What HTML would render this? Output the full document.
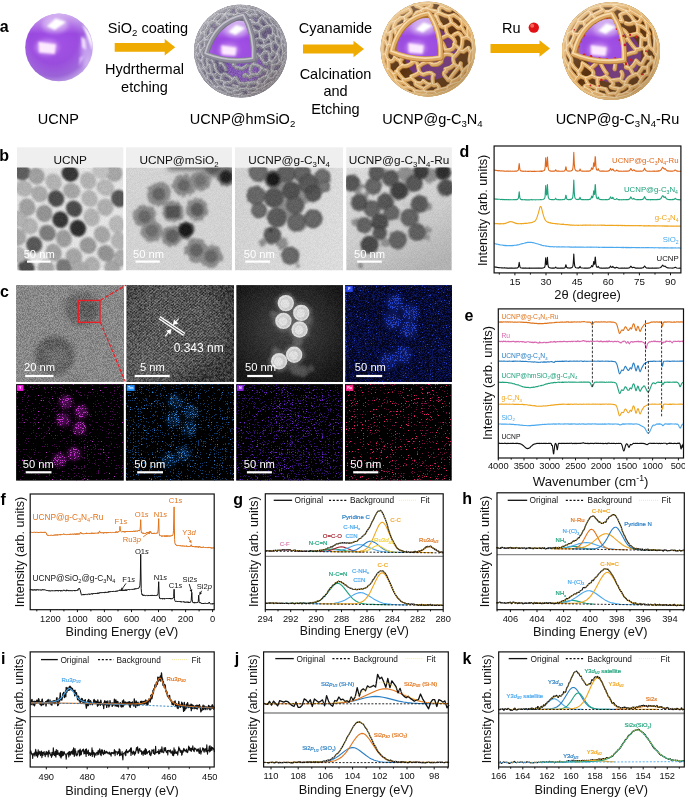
<!DOCTYPE html>
<html><head><meta charset="utf-8"><title>Figure</title>
<style>
html,body{margin:0;padding:0;background:#fff;}
body{width:685px;height:797px;overflow:hidden;font-family:"Liberation Sans",sans-serif;}
svg{display:block;font-family:"Liberation Sans",sans-serif;will-change:transform;}
</style></head><body>
<svg width="685" height="797" viewBox="0 0 685 797">
<defs>
<radialGradient id="gPur" cx="0.42" cy="0.40" r="0.62">
 <stop offset="0" stop-color="#a04ee6"/><stop offset="0.55" stop-color="#9a48df"/><stop offset="0.85" stop-color="#a268de"/><stop offset="1" stop-color="#c8a8ee"/>
</radialGradient>
<linearGradient id="gPurTop" x1="0" y1="0" x2="0" y2="1">
 <stop offset="0" stop-color="#fff" stop-opacity="0.55"/><stop offset="0.3" stop-color="#fff" stop-opacity="0"/><stop offset="1" stop-color="#5a2aa0" stop-opacity="0.15"/>
</linearGradient>
<filter id="b1" x="-20%" y="-20%" width="140%" height="140%"><feGaussianBlur stdDeviation="1"/></filter>
<filter id="b06" x="-20%" y="-20%" width="140%" height="140%"><feGaussianBlur stdDeviation="0.6"/></filter>
<filter id="b04" x="-20%" y="-20%" width="140%" height="140%"><feGaussianBlur stdDeviation="0.4"/></filter>
<filter id="b2" x="-30%" y="-30%" width="160%" height="160%"><feGaussianBlur stdDeviation="2"/></filter>
<linearGradient id="gShadeTan" x1="0.15" y1="0.1" x2="0.85" y2="0.95">
 <stop offset="0" stop-color="#fff" stop-opacity="0.28"/><stop offset="0.5" stop-color="#fff" stop-opacity="0"/><stop offset="1" stop-color="#2a1400" stop-opacity="0.28"/>
</linearGradient>

<filter id="nG" x="0" y="0" width="100%" height="100%" color-interpolation-filters="sRGB">
 <feTurbulence type="fractalNoise" baseFrequency="1.37" numOctaves="1" seed="3"/>
 <feColorMatrix type="matrix" values="2.4 0 0 0 -0.7  2.4 0 0 0 -0.7  2.4 0 0 0 -0.7  0 0 0 0 1"/>
</filter>
<filter id="nG2" x="0" y="0" width="100%" height="100%" color-interpolation-filters="sRGB">
 <feTurbulence type="fractalNoise" baseFrequency="0.35" numOctaves="3" seed="8"/>
 <feColorMatrix type="matrix" values="2.4 0 0 0 -0.7  2.4 0 0 0 -0.7  2.4 0 0 0 -0.7  0 0 0 0 1"/>
</filter>
<filter id="roughB" x="-10%" y="-10%" width="120%" height="120%">
 <feTurbulence type="fractalNoise" baseFrequency="0.2" numOctaves="2" seed="15" result="t"/>
 <feDisplacementMap in="SourceGraphic" in2="t" scale="5" xChannelSelector="R" yChannelSelector="G"/>
 <feGaussianBlur stdDeviation="0.95"/>
</filter>
<filter id="rough" x="-10%" y="-10%" width="120%" height="120%">
 <feTurbulence type="fractalNoise" baseFrequency="0.25" numOctaves="2" seed="5" result="t"/>
 <feDisplacementMap in="SourceGraphic" in2="t" scale="5" xChannelSelector="R" yChannelSelector="G"/>
 <feGaussianBlur stdDeviation="1.1"/>
</filter>
<filter id="bl09" x="-10%" y="-10%" width="120%" height="120%"><feGaussianBlur stdDeviation="0.8"/></filter>
<filter id="bl07" x="-10%" y="-10%" width="120%" height="120%"><feGaussianBlur stdDeviation="0.75"/></filter>
<filter id="bl12" x="-10%" y="-10%" width="120%" height="120%"><feGaussianBlur stdDeviation="1.2"/></filter>
<filter id="bl25" x="-20%" y="-20%" width="140%" height="140%"><feGaussianBlur stdDeviation="2.5"/></filter>
<linearGradient id="b4bg" x1="0.2" y1="0" x2="0.7" y2="1"><stop offset="0" stop-color="#e0e0e0"/><stop offset="0.55" stop-color="#d2d2d2"/><stop offset="1" stop-color="#b6b6b6"/></linearGradient>
<linearGradient id="b3bg" x1="0" y1="0.3" x2="1" y2="0.5"><stop offset="0" stop-color="#d6d6d6"/><stop offset="1" stop-color="#e2e2e2"/></linearGradient>

<filter id="nC1" x="0" y="0" width="100%" height="100%" color-interpolation-filters="sRGB">
 <feTurbulence type="fractalNoise" baseFrequency="1.37" numOctaves="1" seed="12"/>
 <feColorMatrix type="matrix" values="3 0 0 0 -1  3 0 0 0 -1  3 0 0 0 -1  0 0 0 0 1"/>
</filter>
<filter id="nC2" x="0" y="0" width="100%" height="100%" color-interpolation-filters="sRGB">
 <feTurbulence type="fractalNoise" baseFrequency="0.43" numOctaves="2" seed="21"/>
 <feColorMatrix type="matrix" values="4 0 0 0 -1.5  4 0 0 0 -1.5  4 0 0 0 -1.5  0 0 0 0 1"/>
</filter>
<pattern id="fr" width="2.3" height="2.3" patternUnits="userSpaceOnUse" patternTransform="rotate(-42)">
 <rect width="2.3" height="1.1" fill="#fff"/>
</pattern>
<pattern id="fr2" width="2.2" height="2.2" patternUnits="userSpaceOnUse" patternTransform="rotate(34.7)">
 <rect width="2.1" height="1.0" fill="#fff"/>
</pattern>
<filter id="nC3" x="0" y="0" width="100%" height="100%" color-interpolation-filters="sRGB">
 <feTurbulence type="fractalNoise" baseFrequency="1.37" numOctaves="1" seed="77"/>
 <feColorMatrix type="matrix" values="3 0 0 0 -1  3 0 0 0 -1  3 0 0 0 -1  0 0 0 0 1"/>
</filter>
<filter id="wisp" x="-10%" y="-10%" width="120%" height="120%">
 <feTurbulence type="fractalNoise" baseFrequency="0.3" numOctaves="2" seed="9" result="t"/>
 <feDisplacementMap in="SourceGraphic" in2="t" scale="5" xChannelSelector="R" yChannelSelector="G"/>
 <feGaussianBlur stdDeviation="1.8"/>
</filter>
<radialGradient id="frm" cx="0.42" cy="0.42" r="0.62"><stop offset="0" stop-color="#fff" stop-opacity="1"/><stop offset="0.65" stop-color="#fff" stop-opacity="0.8"/><stop offset="1" stop-color="#fff" stop-opacity="0.1"/></radialGradient>
<radialGradient id="c2l" cx="0.05" cy="1" r="0.55"><stop offset="0" stop-color="#fff" stop-opacity="0.2"/><stop offset="1" stop-color="#fff" stop-opacity="0"/></radialGradient>
<mask id="frmask"><rect x="126" y="285" width="109" height="98" fill="url(#frm)"/></mask>
<radialGradient id="haadf" cx="0.48" cy="0.45" r="0.62"><stop offset="0" stop-color="#404040"/><stop offset="0.5" stop-color="#2a2a2a"/><stop offset="1" stop-color="#121212"/></radialGradient>
<radialGradient id="hp" cx="0.5" cy="0.5" r="0.5"><stop offset="0" stop-color="#f2f2f2"/><stop offset="0.7" stop-color="#dcdcdc"/><stop offset="1" stop-color="#b8b8b8"/></radialGradient>
<filter id="dF" x="0" y="0" width="100%" height="100%" color-interpolation-filters="sRGB">
 <feTurbulence type="fractalNoise" baseFrequency="1.37" numOctaves="1" seed="31" result="n"/>
 <feColorMatrix in="n" type="matrix" values="0 0 0 0 0  0 0 0 0 0  0 0 0 0 0  1 0 0 0 0" result="na"/>
 <feColorMatrix in="SourceGraphic" type="matrix" values="0 0 0 0 0  0 0 0 0 0  0 0 0 0 0  0 0 0 1 0" result="da"/>
 <feComposite in="na" in2="da" operator="arithmetic" k1="0" k2="1" k3="0.05" k4="-0.01" result="s"/>
 <feComponentTransfer in="s" result="th"><feFuncA type="linear" slope="30" intercept="-15"/></feComponentTransfer>
 <feFlood flood-color="#0b1456" result="c"/>
 <feComposite in="c" in2="th" operator="in"/>
 <feGaussianBlur stdDeviation="0.5"/>
</filter><filter id="dF2" x="0" y="0" width="100%" height="100%" color-interpolation-filters="sRGB">
 <feTurbulence type="fractalNoise" baseFrequency="1.37" numOctaves="1" seed="41" result="n"/>
 <feColorMatrix in="n" type="matrix" values="0 0 0 0 0  0 0 0 0 0  0 0 0 0 0  1 0 0 0 0" result="na"/>
 <feColorMatrix in="SourceGraphic" type="matrix" values="0 0 0 0 0  0 0 0 0 0  0 0 0 0 0  0 0 0 1 0" result="da"/>
 <feComposite in="na" in2="da" operator="arithmetic" k1="0" k2="1" k3="0.15" k4="-0.195" result="s"/>
 <feComponentTransfer in="s" result="th"><feFuncA type="linear" slope="30" intercept="-15"/></feComponentTransfer>
 <feFlood flood-color="#2240c4" result="c"/>
 <feComposite in="c" in2="th" operator="in"/>
 <feGaussianBlur stdDeviation="0.5"/>
</filter><filter id="dY" x="0" y="0" width="100%" height="100%" color-interpolation-filters="sRGB">
 <feTurbulence type="fractalNoise" baseFrequency="1.37" numOctaves="1" seed="32" result="n"/>
 <feColorMatrix in="n" type="matrix" values="0 0 0 0 0  0 0 0 0 0  0 0 0 0 0  1 0 0 0 0" result="na"/>
 <feColorMatrix in="SourceGraphic" type="matrix" values="0 0 0 0 0  0 0 0 0 0  0 0 0 0 0  0 0 0 1 0" result="da"/>
 <feComposite in="na" in2="da" operator="arithmetic" k1="0" k2="1" k3="0.165" k4="-0.15" result="s"/>
 <feComponentTransfer in="s" result="th"><feFuncA type="linear" slope="30" intercept="-15"/></feComponentTransfer>
 <feFlood flood-color="#4c0c52" result="c"/>
 <feComposite in="c" in2="th" operator="in"/>
 <feGaussianBlur stdDeviation="0.5"/>
</filter><filter id="dY2" x="0" y="0" width="100%" height="100%" color-interpolation-filters="sRGB">
 <feTurbulence type="fractalNoise" baseFrequency="1.37" numOctaves="1" seed="42" result="n"/>
 <feColorMatrix in="n" type="matrix" values="0 0 0 0 0  0 0 0 0 0  0 0 0 0 0  1 0 0 0 0" result="na"/>
 <feColorMatrix in="SourceGraphic" type="matrix" values="0 0 0 0 0  0 0 0 0 0  0 0 0 0 0  0 0 0 1 0" result="da"/>
 <feComposite in="na" in2="da" operator="arithmetic" k1="0" k2="1" k3="0.16" k4="-0.235" result="s"/>
 <feComponentTransfer in="s" result="th"><feFuncA type="linear" slope="30" intercept="-15"/></feComponentTransfer>
 <feFlood flood-color="#c030c8" result="c"/>
 <feComposite in="c" in2="th" operator="in"/>
 <feGaussianBlur stdDeviation="0.5"/>
</filter><filter id="dTm" x="0" y="0" width="100%" height="100%" color-interpolation-filters="sRGB">
 <feTurbulence type="fractalNoise" baseFrequency="1.37" numOctaves="1" seed="33" result="n"/>
 <feColorMatrix in="n" type="matrix" values="0 0 0 0 0  0 0 0 0 0  0 0 0 0 0  1 0 0 0 0" result="na"/>
 <feColorMatrix in="SourceGraphic" type="matrix" values="0 0 0 0 0  0 0 0 0 0  0 0 0 0 0  0 0 0 1 0" result="da"/>
 <feComposite in="na" in2="da" operator="arithmetic" k1="0" k2="1" k3="0.085" k4="-0.125" result="s"/>
 <feComponentTransfer in="s" result="th"><feFuncA type="linear" slope="30" intercept="-15"/></feComponentTransfer>
 <feFlood flood-color="#0e3a6c" result="c"/>
 <feComposite in="c" in2="th" operator="in"/>
 <feGaussianBlur stdDeviation="0.5"/>
</filter><filter id="dTm2" x="0" y="0" width="100%" height="100%" color-interpolation-filters="sRGB">
 <feTurbulence type="fractalNoise" baseFrequency="1.37" numOctaves="1" seed="43" result="n"/>
 <feColorMatrix in="n" type="matrix" values="0 0 0 0 0  0 0 0 0 0  0 0 0 0 0  1 0 0 0 0" result="na"/>
 <feColorMatrix in="SourceGraphic" type="matrix" values="0 0 0 0 0  0 0 0 0 0  0 0 0 0 0  0 0 0 1 0" result="da"/>
 <feComposite in="na" in2="da" operator="arithmetic" k1="0" k2="1" k3="0.09" k4="-0.215" result="s"/>
 <feComponentTransfer in="s" result="th"><feFuncA type="linear" slope="30" intercept="-15"/></feComponentTransfer>
 <feFlood flood-color="#2f86d8" result="c"/>
 <feComposite in="c" in2="th" operator="in"/>
 <feGaussianBlur stdDeviation="0.5"/>
</filter><filter id="dN" x="0" y="0" width="100%" height="100%" color-interpolation-filters="sRGB">
 <feTurbulence type="fractalNoise" baseFrequency="1.37" numOctaves="1" seed="34" result="n"/>
 <feColorMatrix in="n" type="matrix" values="0 0 0 0 0  0 0 0 0 0  0 0 0 0 0  1 0 0 0 0" result="na"/>
 <feColorMatrix in="SourceGraphic" type="matrix" values="0 0 0 0 0  0 0 0 0 0  0 0 0 0 0  0 0 0 1 0" result="da"/>
 <feComposite in="na" in2="da" operator="arithmetic" k1="0" k2="1" k3="0.02" k4="-0.115" result="s"/>
 <feComponentTransfer in="s" result="th"><feFuncA type="linear" slope="30" intercept="-15"/></feComponentTransfer>
 <feFlood flood-color="#30106a" result="c"/>
 <feComposite in="c" in2="th" operator="in"/>
 <feGaussianBlur stdDeviation="0.45"/>
</filter><filter id="dN2" x="0" y="0" width="100%" height="100%" color-interpolation-filters="sRGB">
 <feTurbulence type="fractalNoise" baseFrequency="1.37" numOctaves="1" seed="44" result="n"/>
 <feColorMatrix in="n" type="matrix" values="0 0 0 0 0  0 0 0 0 0  0 0 0 0 0  1 0 0 0 0" result="na"/>
 <feColorMatrix in="SourceGraphic" type="matrix" values="0 0 0 0 0  0 0 0 0 0  0 0 0 0 0  0 0 0 1 0" result="da"/>
 <feComposite in="na" in2="da" operator="arithmetic" k1="0" k2="1" k3="0.03" k4="-0.2" result="s"/>
 <feComponentTransfer in="s" result="th"><feFuncA type="linear" slope="30" intercept="-15"/></feComponentTransfer>
 <feFlood flood-color="#6a28c8" result="c"/>
 <feComposite in="c" in2="th" operator="in"/>
 <feGaussianBlur stdDeviation="0.45"/>
</filter><filter id="dRu" x="0" y="0" width="100%" height="100%" color-interpolation-filters="sRGB">
 <feTurbulence type="fractalNoise" baseFrequency="1.37" numOctaves="1" seed="35" result="n"/>
 <feColorMatrix in="n" type="matrix" values="0 0 0 0 0  0 0 0 0 0  0 0 0 0 0  1 0 0 0 0" result="na"/>
 <feColorMatrix in="SourceGraphic" type="matrix" values="0 0 0 0 0  0 0 0 0 0  0 0 0 0 0  0 0 0 1 0" result="da"/>
 <feComposite in="na" in2="da" operator="arithmetic" k1="0" k2="1" k3="0.0" k4="-0.155" result="s"/>
 <feComponentTransfer in="s" result="th"><feFuncA type="linear" slope="30" intercept="-15"/></feComponentTransfer>
 <feFlood flood-color="#7c1044" result="c"/>
 <feComposite in="c" in2="th" operator="in"/>
 <feGaussianBlur stdDeviation="0.5"/>
</filter><filter id="dRu2" x="0" y="0" width="100%" height="100%" color-interpolation-filters="sRGB">
 <feTurbulence type="fractalNoise" baseFrequency="1.37" numOctaves="1" seed="45" result="n"/>
 <feColorMatrix in="n" type="matrix" values="0 0 0 0 0  0 0 0 0 0  0 0 0 0 0  1 0 0 0 0" result="na"/>
 <feColorMatrix in="SourceGraphic" type="matrix" values="0 0 0 0 0  0 0 0 0 0  0 0 0 0 0  0 0 0 1 0" result="da"/>
 <feComposite in="na" in2="da" operator="arithmetic" k1="0" k2="1" k3="0.0" k4="-0.183" result="s"/>
 <feComponentTransfer in="s" result="th"><feFuncA type="linear" slope="30" intercept="-15"/></feComponentTransfer>
 <feFlood flood-color="#f01e6c" result="c"/>
 <feComposite in="c" in2="th" operator="in"/>
 <feGaussianBlur stdDeviation="0.52"/>
</filter></defs>
<rect width="685" height="797" fill="#fff"/>
<g id="pa"><text x="-0.3" y="32.2" font-size="16" text-anchor="start" fill="#000" font-weight="bold">a</text><g><clipPath id="cpu1"><circle cx="59" cy="47.4" r="33.8"/></clipPath><circle cx="59" cy="47.4" r="33.8" fill="url(#gPur)"/><circle cx="59" cy="47.4" r="33.8" fill="url(#gPurTop)"/><g clip-path="url(#cpu1)"><ellipse cx="55" cy="25" rx="13" ry="8" fill="#fff" opacity="0.38" filter="url(#b2)"/><ellipse cx="47" cy="47.5" rx="12" ry="8" fill="#f4d0ff" opacity="0.4" filter="url(#b2)"/><ellipse cx="86" cy="52" rx="5" ry="16" fill="#e8d8ff" opacity="0.5" filter="url(#b2)"/><path d="M46.8 26.3 L55.7 18.4 L66 22 L54.8 30 Z" fill="#fff" filter="url(#b1)"/><path d="M38.4 41.8 L56 44.3 L54.8 54 L39 52.6 Z" fill="#fde9ff" filter="url(#b1)"/><path d="M82 24.5 Q94.5 34 92.3 51 Q87.5 36 82 24.5 Z" fill="#fff" filter="url(#b1)"/><path d="M81.2 36.5 L85 39.5 L86 49.5 L82.3 47.5 Z" fill="#f6e8ff" filter="url(#b1)" opacity="0.95"/><path d="M79.5 57.5 L84.5 55.5 L79 66.5 Z" fill="#e6c8ff" filter="url(#b1)" opacity="0.75"/></g></g><text x="58.3" y="124.2" font-size="14.5" text-anchor="middle" fill="#000">UCNP</text><text x="148" y="33.2" font-size="14.5" text-anchor="middle" fill="#000">SiO<tspan font-size="9.6" dy="3.2">2</tspan><tspan dy="-3.2"> coating</tspan></text><path d="M114.7 42.9 H164.7 V39.1 L175.2 47.3 L164.7 55.5 V51.7 H114.7 Z" fill="#f0ab00"/><text x="144.5" y="74.2" font-size="14.5" text-anchor="middle" fill="#000">Hydrthermal</text><text x="144.5" y="91.8" font-size="14.5" text-anchor="middle" fill="#000">etching</text><g><clipPath id="csm2"><circle cx="240.6" cy="51.1" r="46.5"/></clipPath><clipPath id="cwm2"><path d="M205.7 53.9 Q214.6 21.3 243.9 15.3 Q255 35.8 253.2 59 Q229 63.2 205.7 53.9 Z"/></clipPath><g clip-path="url(#csm2)"><circle cx="240.6" cy="51.1" r="46.5" fill="#66587f"/><ellipse cx="244.6" cy="65.1" rx="19.5" ry="17.7" fill="#8a4ad0" opacity="0.75" filter="url(#b2)"/><defs><path id="mpm2" d="M248.9 76.8Q244.7 72.7 243.8 75.7M248.9 76.8Q250.9 75.7 251.5 74.9M228.2 92.4Q230.8 92.3 232 92.8M228.2 92.4Q228.3 90.6 222.8 88.2M232 92.8Q236.4 92.1 234.1 90.9M239.4 95Q234.6 94.5 233.3 95.7M239.4 95Q238.9 95.3 239.4 95M234.1 90.9Q234 90.2 239.2 90.7M234.1 90.9Q238.6 89.4 230.7 88.4M239.2 90.7Q240.9 89.1 240.7 89.2M285.7 58Q283.8 66 283.7 66.3M285.7 58Q286.3 54.7 285.6 57.6M276.7 43Q277.5 43 279.8 47.3M276.7 43Q273.2 40.5 271.8 44.2M276.7 43Q275 37.4 275.9 36.5M249.3 89.7Q248.1 89.9 246.9 88.4M249.3 89.7Q251.3 88.6 255.9 87.8M257.8 82.8Q253.2 81.4 249.1 83.4M257.8 82.8Q261.5 80.2 258.3 84.1M257.8 82.8Q257.9 78.8 260.3 79.2M210.9 81.6Q211.2 82.5 208.1 79.2M210.9 81.6Q214.1 85.9 214.8 86.6M240.7 89.2Q245.6 89 246.9 88.4M240.7 89.2Q235.1 87.8 238.3 86.6M246.9 88.4Q247.2 87.1 249.1 83.4M248.5 82.8Q247.9 83.1 249.1 83.4M248.5 82.8Q245.3 83.8 241.1 83.4M195.4 56.3Q195.4 50.4 196.3 51.5M195.4 56.3Q195.5 58.6 195.9 59.3M195.5 44.2Q195.6 48.9 196.3 49.2M195.5 44.2Q196.6 40.5 197.5 38.6M196.3 49.2Q197.8 47.2 198.9 43.8M196.3 51.5Q196.5 51.7 198 56.1M198.9 43.8Q198.7 46.6 199 43.9M199 43.9Q200.5 42.7 204.8 38.9M199 43.9Q200.3 47.7 200.6 51.1M201.7 33.3Q197.8 40.7 198.8 39.5M201.7 33.3Q199.4 33.8 201.4 30.1M201.7 33.3Q203.3 31.1 204.6 32.3M197.5 38.6Q198.1 38.9 198.8 39.5M197.5 38.6Q199.4 31.5 199.5 31.8M222.1 75Q224.5 73 225.2 74.2M222.1 75Q220.7 79.4 220.9 80.6M222.1 75Q219.4 76.1 217.7 72.9M241.1 83.4Q238.6 84.1 236.3 78.2M238.3 86.6Q235.5 86.6 233.2 85.7M236.3 78.2Q236.1 78.8 234.9 77.8M225.2 74.2Q226.2 74.3 231.6 78.5M231.6 78.5Q231.9 83.2 234.9 77.8M231.6 78.5Q235.9 78.6 230.6 82.2M198.3 62.9Q198.5 63.3 200.2 68.9M262.3 39.3Q266.6 42.5 268.4 36.9M262.3 39.3Q259.8 39.1 260.4 38.2M262.3 39.3Q264.6 40.1 264.4 46.9M268.4 36.9Q270.1 38.8 268.5 35.7M268.4 36.9Q272.5 40.4 271.6 44M229.5 28.4Q227.1 30.4 224.6 35.3M229.5 28.4Q223.2 26.9 226.3 23.9M224.6 35.3Q227.2 36 230.9 39M244 56.7Q244.9 56.3 246 54.5M244 56.7Q245.6 55.3 238.9 57.1M235.8 67.3Q239 67.4 242 68.5M242 68.5Q242.4 68.1 247.1 65.3M245.2 49.3Q249.2 52.2 246 54.5M245.2 49.3Q251 43.6 249.4 43.8M245.2 49.3Q238.3 44.5 239.1 45.3M246 54.5Q248.3 56.4 253.6 54.3M253.8 43.5Q254.1 41.9 249.4 43.8M253.8 43.5Q256.9 44.8 255.1 40M253.8 43.5Q251.4 42.7 255.4 46.4M249.4 43.8Q246.5 39.9 245 39.7M226.3 23.9Q219.8 23.4 220.2 25.8M226.3 23.9Q229.3 25.3 227.4 22.2M225.3 15.1Q220.4 20.7 216.9 22.9M225.3 15.1Q228.5 13.1 225.1 14.2M225.3 15.1Q221.7 16.5 225.8 15.3M220.2 25.8Q218.8 22.3 217 24.3M220.2 25.8Q217.8 29.2 218.3 33.4M216.9 22.9Q217.8 21.4 213.4 20.9M254.7 10.7Q256.2 11 258.2 10.8M254.7 10.7Q255.7 14 257 15.3M254.7 10.7Q252.9 10.8 250.2 9.5M247.9 6.1Q253.5 7.2 256.7 8.5M247.9 6.1Q248.5 6.7 246.9 6.3M247.9 6.1Q247.5 6 247.3 5.9M258.2 10.8Q259 10.1 259.2 9.9M258.2 10.8Q264.5 15.5 265.8 16.4M259.2 9.9Q257.1 8.7 256.7 8.5M259.2 9.9Q261.7 10.5 264.3 12.2M225.1 14.2Q229.1 11.6 230 10.2M225.1 14.2Q223.3 14 218.8 14.8M218.3 12.5Q221 10.1 218.2 11.2M218.3 12.5Q218.6 12.7 217.3 13.5M218.3 12.5Q223 9.5 228.2 8.2M264.3 12.2Q269.1 16.4 270.4 18.2M270.4 18.2Q272.4 19.3 272.8 19.4M270.4 18.2Q270.6 18.3 270.1 18.5M272.8 19.4Q275 21.4 277.8 25.2M265.8 16.4Q267.8 17.8 270.1 18.5M265.8 16.4Q265.8 15.5 263.3 18.6M270.1 18.5Q269.1 18.7 273.8 25.4M263.3 18.6Q266.9 23.2 270 25.7M263.3 18.6Q261.3 15.7 260.8 18M264.5 86.9Q262.2 87.2 257.8 89.6M264.5 86.9Q259.6 90.2 263 90.1M264.5 86.9Q264.2 85.6 265.1 86.3M257.8 89.6Q255.1 89.1 255.9 87.8M257.8 89.6Q256.7 91.1 253.1 93.2M258.3 84.1Q261 84.7 255.9 87.8M258.3 84.1Q261.8 85.2 264.6 83.8M199 69.7Q200.1 71.7 200.2 69M248.3 92.5Q250.7 92.8 252.9 93.3M243.4 96Q240.7 95.6 239.4 95M243.4 96Q243.5 95.9 248.6 95.4M242 93.5Q243.1 92.7 239.4 95M222.8 88.2Q223.5 88.3 222.7 88.2M222.8 88.2Q222.9 88.5 224.8 87.4M222.7 88.2Q218.5 85.4 215.6 81.5M222.7 88.2Q214.5 85.2 217.6 88.1M220.9 80.6Q218.7 80.6 215.9 80.1M220.9 80.6Q226 81.7 224.3 83.3M215.6 81.5Q213.3 78.9 215.9 80.1M215.9 80.1Q217.1 81.1 212.8 75M282.1 66.7Q283.5 64.7 282.9 63.6M282.1 66.7Q280.3 69.5 277 73.4M279.8 47.3Q277.7 50.9 277.7 54.3M281.3 46.9Q282.2 43 282 44.9M281.3 46.9Q283.5 45 283.3 54.5M204.3 23.4Q204.3 24.7 206.6 23M206.6 23Q203.9 25.6 201.4 30.1M206.6 23Q208 20.7 207.6 22.3M201.4 30.1Q200.7 32 199.5 31.8M199.5 31.8Q200.9 29.2 199.6 30.8M211.4 17.3Q214.1 17 217.3 13.5M211.4 17.3Q209.9 19.2 207.6 22.3M218.8 14.8Q216.5 14.6 217.3 13.5M218.8 14.8Q216.1 16.7 213.4 20.9M213.4 20.9Q210.5 21.7 208.7 23.5M208.7 23.5Q208.3 22.6 207.6 22.3M208.7 23.5Q209.1 24.9 206.8 28.8M214.8 66Q214.5 69.5 217.7 72.9M214.8 66Q212.4 66.7 215 65.5M210.3 67.3Q211.3 70.8 211.4 74M210.3 67.3Q211.8 64.3 207.8 65M217.7 72.9Q217.3 74.7 212.8 75M211.4 74Q212.1 74.3 212.8 75M211.4 74Q209.7 75.2 207.4 73.4M215 65.5Q213.8 64.1 211.9 59.4M211.9 59.4Q208 57.5 207.3 58.1M211.9 59.4Q211.8 63.1 215.2 54.2M225.4 69.4Q223.6 62.5 220.4 63.8M220.4 63.8Q219.6 61.3 220.8 61.3M220.8 61.3Q219.3 58 215.8 54.2M233.6 65.2Q234.9 61.3 233.6 64.8M198 56.1Q199.7 53.4 200.6 51.3M198.5 59.5Q200.8 60.8 202.1 61.7M200.2 69Q199.7 66.7 200.2 68.9M200.2 69Q202.9 74.8 205.8 78.2M200.2 68.9Q202.2 70.2 204.3 68.7M208.1 79.2Q207.8 80.8 205.8 78.2M208.1 79.2Q206.8 74.5 207.4 73.4M205.8 78.2Q204.6 77.8 205.8 80M207.4 73.4Q206.8 71.4 204.3 68.7M204.3 68.7Q201.4 65.1 204.1 66.4M268.5 35.7Q274.4 37 273.2 33.3M270 25.7Q267.7 25.2 263.2 27.9M270 25.7Q270 25.2 271 26.2M251.6 26.4Q248.3 23.6 253.6 22.7M251.6 26.4Q247.1 25.1 246.6 27M251.6 26.4Q253.1 29.5 254.2 30.4M263.2 27.9Q260.3 25.4 258.9 23.3M263.3 28.8Q262 28.5 259.5 31.9M230.9 39Q229.9 40.6 229.9 44.3M230.9 39Q233.5 37.9 235.5 36.7M239.1 45.3Q242.7 42.8 239.8 41.7M233.9 48.8Q233.3 44.2 229.9 44.3M233.9 48.8Q232.6 51.4 233.6 51M229.9 44.3Q226.2 44.7 221.1 46.6M260.8 18Q258 20.2 258.9 23.3M257 15.3Q250 13.2 251.1 15.9M258.9 23.3Q259.4 24.4 253.6 22.7M253.6 22.7Q252.8 20.8 251.1 20.1M246.6 27Q247.2 31.8 243.7 31.8M234.9 28.9Q237.2 29 239 22.3M239 22.3Q236.9 22.9 233.5 19.9M241.1 21.8Q239.6 20.4 242.9 19.7M251.9 35.1Q256.8 29.9 254.2 30.4M251.9 35.1Q252.3 38.1 246 34.4M254.2 30.4Q258.2 31.8 259.5 31.9M259.5 31.9Q260.1 35.9 260.4 38.2M260.4 38.2Q256.1 39.1 255.1 40M271.8 44.2Q271.8 44.9 271.6 44M271.8 44.2Q270.7 44.3 272.5 50.9M271.6 44Q266.9 44.8 264.4 46.9M264.4 46.9Q259.6 44 263.8 48.2M250.9 66.3Q249.1 72.2 251.5 74.9M250.9 66.3Q253 63.2 254 64.5M251.5 74.9Q255.9 73.5 257.5 74.5M211.9 28.9Q209.3 32 211.4 33.1M206.8 28.8Q204.8 30.6 204.6 32.3M204.6 32.3Q204.9 36.7 204.8 38.9M222.5 36.1Q223.8 34 218.3 33.4M222.5 36.1Q221.7 42.7 220.2 44.8M218.3 33.4Q220.3 33.5 215 35M250.2 9.5Q247.1 7.8 246.9 6.3M250.2 9.5Q250.3 9.9 247.6 9.6M246.9 6.3Q239.8 6.4 239.6 6.6M239.6 6.6Q235.6 6.9 237.7 6.4M239.6 6.6Q240.5 6.8 240.5 8.5M228.1 7.3Q230.2 7.3 228.2 8.2M228.2 8.2Q228.5 8.1 228.6 8.2M228.6 8.2Q230.6 7.3 237.7 6.4M284.9 41.9Q283.7 40.4 282.4 37M284.9 41.9Q285.3 43.3 285.5 45.8M282.4 37Q282.7 39.5 281.6 39.9M282.4 37Q281.2 34.4 280.5 31.2M285.4 46.7Q283.7 42.2 282 44.9M282 44.9Q281.3 40.4 281.6 39.9M281.6 39.9Q279.9 39.2 278.4 35.5M205.8 80Q204.6 79.1 204.4 78.9M205.8 80Q213.2 86.9 212.3 86.7M212.3 86.7Q210.7 85.3 212.4 86.7M226.9 93.9Q227.8 94.3 227.1 94M226.9 93.9Q224.7 93 221.8 92.1M230.7 88.4Q230 87.8 224.8 87.4M224.8 87.4Q223.3 86 224.3 83.3M224.3 83.3Q228 81.7 230.6 82.2M248.6 95.4Q254.6 94 252.9 93.3M253.1 93.2Q254.1 93.9 252.9 93.3M253.1 93.2Q256.8 93.4 259.8 92.1M268.8 86.9Q264.4 89.4 263 90.1M268.8 86.9Q269.8 85.9 272.4 82.9M259.8 92.1Q260.5 92.2 259.5 92.5M264.6 83.8Q265.5 85.2 265.1 86.3M264.6 83.8Q263.9 81.5 268.5 78.5M265.1 86.3Q267.5 84.2 271.6 82.1M276.1 79.6Q277.6 76.8 279 75.4M276.1 79.6Q275.3 80.5 272.4 82.9M279 75.4Q279.7 73.9 279.4 74.8M279 75.4Q278.5 75.1 276.6 74.2M272.4 82.9Q271.5 82.2 271.6 82.1M279.4 74.8Q282 68.4 282.3 68.9M282.3 68.9Q282.7 68.1 283.7 66.3M283.3 54.5Q284.4 53.5 285.4 52.9M283.3 54.5Q282.6 53.4 281.8 60.3M285.6 57.6Q285.5 56 285.4 52.9M285.6 57.6Q285.5 59 282.9 63.6M282.9 63.6Q281.1 61 281.8 60.3M281.8 60.3Q279.7 64.9 280 61.3M226.6 55.2Q229.8 51.6 233.6 51M226.6 55.2Q222.4 52.5 220.9 48.3M226.3 57.4Q232.9 62.2 233.6 64.8M233.6 51Q234.3 52.5 238.9 57.1M238.9 57.1Q237.5 58.1 233.6 64.8M200.6 51.1Q199.7 49.4 200.6 51.3M200.6 51.1Q203.2 49.6 204.8 46.3M200.6 51.3Q200.9 50.8 203.3 56.9M271 26.2Q271.2 24.9 273.8 25.4M271 26.2Q274 28.9 273.2 33.3M273.8 25.4Q274.5 25.5 277 28.3M277 28.3Q278.3 33.3 278.4 35.5M277 28.3Q279.3 30.7 279.4 29.4M278.4 35.5Q278.9 38.3 275.9 36.5M275.9 36.5Q277.7 37.8 273.2 33.3M246 34.4Q248.2 33.4 243.7 31.8M246 34.4Q247.1 37.8 245 39.7M243.7 31.8Q244.4 30.7 237.3 31.8M245 39.7Q240 43.1 239.8 41.7M239.8 41.7Q232.9 44.3 235.5 36.7M235.5 36.7Q237.2 32.1 237.3 31.8M225.8 15.3Q228.1 13.6 235.1 15.1M225.8 15.3Q230.1 22.1 227.4 22.2M235.1 15.1Q231.9 18.2 233.5 19.9M235.1 15.1Q234.9 15.9 238.4 13.8M227.4 22.2Q231.1 23.4 233.5 19.9M238.4 13.8Q236.5 12.1 236.5 9.9M238.4 13.8Q238 14.2 241.3 14.4M247.6 9.6Q243.8 9.2 240.5 8.5M247.6 9.6Q251.4 10.2 246 13.4M236.5 9.9Q237 8.3 240.5 8.5M242.9 19.7Q241.2 18.6 251.1 20.1M242.9 19.7Q242.6 16 241.3 14.4M251.1 15.9Q249.1 16 246 13.4M246 13.4Q244.8 13 241.3 14.4M263.8 48.2Q259.4 43.4 255.4 46.4M264.3 51.8Q268.5 50.5 269.1 54.7M264.3 51.8Q261.2 55.8 260.3 56.8M255.4 46.4Q254 52.8 253.6 54.3M253.6 54.3Q254.6 56.6 256.5 57.3M272.5 50.9Q272.6 55.2 269.1 54.7M272.5 50.9Q273.9 51.1 277 54.6M269.1 54.7Q269.8 54.2 269.5 59.8M254 64.5Q254 59.3 256.5 57.3M254 64.5Q260.6 65.7 262 68.2M256.5 57.3Q255.4 51.3 260.3 56.8M260.3 56.8Q263.2 61 264.3 62.9M211.4 33.1Q217.4 32.9 215 35M211.4 33.1Q208.7 37.1 205.2 39.3M215 35Q212.1 37.2 212.4 41.8M205.2 39.3Q203.1 39 205.4 40M280.5 31.2Q281 32.7 279.4 29.4M279.4 29.4Q278.1 27.1 277.8 25.2M218.7 91.2Q216.1 89.5 221.8 92.1M218.7 91.2Q214.5 88.5 212.4 86.7M212.4 86.7Q214.3 86.6 214.8 86.6M214.8 86.6Q215.2 86.7 217.6 88.1M273.8 78Q272.7 79.3 268.5 78.5M273.8 78Q274.8 74.8 276.6 74.2M272.7 71.6Q275.4 72.6 276.8 71.4M272.7 71.6Q270.9 73.7 268 76.7M272.7 71.6Q270.9 72.9 272.3 65.8M276.8 71.4Q276.6 72.5 277 73.4M268 76.7Q267.8 77.8 268.5 78.5M268 76.7Q265.9 75 266.2 76.4M277 73.4Q276.8 71.3 276.6 74.2M203.3 56.9Q206.8 57.4 206.5 56.7M203.3 56.9Q202.2 58.9 202.1 61.7M207.8 65Q206.7 63.5 207.3 58.1M207.8 65Q207 71 204.1 66.4M207.3 58.1Q206.3 55 206.5 56.7M206.5 56.7Q207.4 51.1 207.5 50.7M204.1 66.4Q201.9 62.3 202.1 61.7M277.7 54.3Q277.1 52.9 277 54.6M277.7 54.3Q279.1 56 280 61.3M277 54.6Q277.2 56.9 272.3 61.9M280 61.3Q279.4 59.5 278.9 63.6M278.9 63.6Q275.5 65.3 272.6 65.1M262 68.2Q262.3 70.5 257.5 74.5M262 68.2Q258.5 68.6 262.2 68.2M260.3 79.2Q262.8 77.2 266.2 76.4M266.2 76.4Q269.9 70.6 266.5 70M204.8 46.3Q205.2 40.7 205.4 40M204.8 46.3Q206.4 47.2 207.5 50.7M205.4 40Q210 39.5 212.4 41.8M207.5 50.7Q206.7 48.9 210.4 49.5M212.4 41.8Q208.5 42.3 212.9 43.3M264.3 62.9Q268 64.8 269.5 59.8M262.2 68.2Q263.7 70.7 266.5 70M269.5 59.8Q269.7 62.6 272.3 61.9M272.3 61.9Q272.1 67.5 272.6 65.1M272.3 65.8Q272 63.7 272.6 65.1M210.4 49.5Q211.1 48.3 212.9 43.3M210.4 49.5Q214 51.2 215.2 54.2M212.9 43.3Q215.4 45.9 220.2 44.8M220.2 44.8Q220.1 47.7 221.1 46.6M221.1 46.6Q217.7 54.3 220.9 48.3" fill="none" stroke-linecap="round" stroke-linejoin="round"/></defs><use href="#mpm2" stroke="#737180" stroke-width="3.8" transform="translate(0.45 0.55)"/><use href="#mpm2" stroke="#8d8c98" stroke-width="3.3"/><use href="#mpm2" stroke="#d2d1da" stroke-width="0.9" transform="translate(-0.45 -0.55)" opacity="0.8" filter="url(#b04)"/><circle cx="240.6" cy="51.1" r="45.7" fill="none" stroke="#a2a1ac" stroke-width="2"/><circle cx="240.6" cy="51.1" r="46.5" fill="url(#gShadeTan)"/><rect x="194.1" y="4.6" width="93" height="93" filter="url(#nG)" opacity="0.13"/><g clip-path="url(#cwm2)"><rect x="194.1" y="4.6" width="93" height="93" fill="#7d7a90"/><path d="M205.7 53.9 Q214.6 21.3 243.9 15.3 Q255 35.8 253.2 59 Q229 63.2 205.7 53.9 Z" fill="none" stroke="#737180" stroke-width="9" opacity="0.9"/><g><clipPath id="cpm2c"><circle cx="239.1" cy="50.1" r="29.3"/></clipPath><circle cx="239.1" cy="50.1" r="29.3" fill="url(#gPur)"/><circle cx="239.1" cy="50.1" r="29.3" fill="url(#gPurTop)"/><g clip-path="url(#cpm2c)"><ellipse cx="235.6" cy="30.7" rx="11.3" ry="6.9" fill="#fff" opacity="0.38" filter="url(#b2)"/><ellipse cx="228.7" cy="50.2" rx="10.4" ry="6.9" fill="#f4d0ff" opacity="0.4" filter="url(#b2)"/><ellipse cx="262.5" cy="54.1" rx="4.3" ry="13.9" fill="#e8d8ff" opacity="0.5" filter="url(#b2)"/><path d="M228.5 31.8 L236.2 25 L245.2 28.1 L235.5 35 Z" fill="#fff" filter="url(#b1)"/><path d="M221.2 45.2 L236.5 47.4 L235.5 55.8 L221.8 54.6 Z" fill="#fde9ff" filter="url(#b1)"/><path d="M259 30.3 Q269.9 38.5 268 53.2 Q263.8 40.2 259 30.3 Z" fill="#fff" filter="url(#b1)"/><path d="M258.3 40.7 L261.6 43.3 L262.5 51.9 L259.3 50.2 Z" fill="#f6e8ff" filter="url(#b1)" opacity="0.95"/><path d="M256.9 58.9 L261.2 57.1 L256.4 66.7 Z" fill="#e6c8ff" filter="url(#b1)" opacity="0.75"/></g></g></g><path d="M205.7 53.9 Q214.6 21.3 243.9 15.3 Q255 35.8 253.2 59 Q229 63.2 205.7 53.9 Z" fill="none" stroke="#737180" stroke-width="5.4" stroke-linejoin="round" transform="translate(0.4 0.5)"/><path d="M205.7 53.9 Q214.6 21.3 243.9 15.3 Q255 35.8 253.2 59 Q229 63.2 205.7 53.9 Z" fill="none" stroke="#8d8c98" stroke-width="4.8" stroke-linejoin="round"/><path d="M205.7 53.9 Q214.6 21.3 243.9 15.3 Q255 35.8 253.2 59 Q229 63.2 205.7 53.9 Z" fill="none" stroke="#d2d1da" stroke-width="1.6" stroke-linejoin="round" opacity="0.8" transform="translate(-0.6 -0.7)" filter="url(#b04)"/></g></g><text x="242.5" y="124.2" font-size="14.5" text-anchor="middle" fill="#000">UCNP@hmSiO<tspan font-size="9.6" dy="3.2">2</tspan></text><text x="335.5" y="33.2" font-size="14.5" text-anchor="middle" fill="#000">Cyanamide</text><path d="M303 44.6 H353.5 V40.8 L364 49 L353.5 57.2 V53.4 H303 Z" fill="#f0ab00"/><text x="335.5" y="78.5" font-size="14.5" text-anchor="middle" fill="#000">Calcination</text><text x="335.5" y="96" font-size="14.5" text-anchor="middle" fill="#000">and</text><text x="335.5" y="113.5" font-size="14.5" text-anchor="middle" fill="#000">Etching</text><g><clipPath id="csm3"><circle cx="428" cy="49" r="47.4"/></clipPath><clipPath id="cwm3"><path d="M391.5 51.8 Q399.6 17.7 428.9 13 Q441.7 32.9 440.3 57.5 Q415.7 61.8 391.5 51.8 Z"/></clipPath><g clip-path="url(#csm3)"><circle cx="428" cy="49" r="47.4" fill="#5a3210"/><circle cx="431" cy="54" r="26.1" fill="#7a34bc" opacity="0.6"/><defs><path id="mpm3" d="M416.7 4.9Q414.5 4.4 414.7 4.3M416.7 4.9Q422.6 3.9 430.2 3.6M415.9 5.6Q421 6.6 423.2 9.3M395.1 29.1Q395.5 32.5 396.7 36.6M395.1 29.1Q394.1 27.8 394.5 29M395.1 29.1Q397 27 402.7 24.9M396.7 36.6Q397 43.8 392.9 45.5M396.7 36.6Q404.3 35.4 403 36M409.5 9Q410.4 7.9 402.8 11.7M409.5 9Q410.9 9.8 410.7 12.5M383.5 62.5Q382.5 55.2 383.4 54.8M383.5 62.5Q384.3 63.9 384.8 66.2M411.2 78.1Q412.5 78.7 411.2 76.2M411.2 78.1Q405.2 80.8 403 78.9M411.2 78.1Q414.6 80.7 415.9 82.3M411.2 76.2Q420 73.1 419 71.3M402.5 65.2Q400.9 66.3 403 65.4M402.5 65.2Q396.1 69.7 397.4 71.6M402.5 65.2Q400.4 65.3 400.1 60.7M403 65.4Q407.1 66.9 412.4 62.5M412.4 62.5Q411.1 62.2 412.7 57M412.4 62.5Q416.8 59 418 66.6M472.3 35.1Q472.2 35.3 468 26.8M472.3 35.1Q471.8 34.4 472.4 41.5M461.2 26.4Q463.3 31.5 467.9 36.3M461.2 26.4Q463.8 24.6 460.7 19.4M461.2 26.4Q461.6 29.1 457.3 27.3M467.9 36.3Q467.1 35.7 467.9 36.6M467.9 36.3Q467.3 30 467.9 26.8M460.7 19.4Q458.7 18.3 454 14.8M460.7 19.4Q460 21.7 461 19.5M449.7 78.7Q452.2 74.6 459.6 65.9M449.7 78.7Q448.2 81.6 447 78.6M449.7 78.7Q451.7 81 452.2 81M454.1 64Q458.8 68 459.6 65.9M454.1 64Q452.3 58.5 453.2 57.1M454.1 64Q450.6 68.2 445.3 68.9M459.6 65.9Q461.2 60.3 460.2 65.6M467.9 36.6Q464.9 37.6 462.2 38.4M467.9 36.6Q469.9 39.6 468.5 37.8M462.2 38.4Q462.4 43.9 460.7 48.5M462.2 38.4Q461.5 33.9 457.9 32.7M460.7 48.5Q456.8 50.7 463.3 51.3M463.3 51.3Q464.2 50.7 468.4 47.6M388.9 24Q389.6 23 389.4 24.1M454 14.8Q452.8 15.3 449 16.3M449 16.3Q443.8 15.3 439.6 12.8M449 16.3Q451.3 20.7 451.6 23.1M424.7 91.4Q423 91.5 426.8 92.3M424.7 91.4Q424.6 91 423.9 88.8M424.7 91.4Q421.2 92.4 414 90.6M426.8 92.3Q429.2 94.5 422.7 94.9M426.8 92.3Q429.6 92.1 434.6 92.2M426.2 95.5Q425.4 95.4 422.7 94.9M426.2 95.5Q428.4 95.7 435 94.9M422.7 94.9Q419 94.2 415.5 93.5M399.9 17.4Q401.7 17.3 395.9 21.1M399.9 17.4Q399.5 17.6 404.3 17.3M400.6 11.9Q399.8 12.7 402.8 11.7M400.6 11.9Q397.1 14.7 390.8 22.5M384.3 37Q385.1 33.5 386.6 31.7M384.3 37Q383.4 42.4 384 39.6M390.6 32.3Q392.2 31.7 394.5 29M390.6 32.3Q386.7 35.2 386.6 31.7M390.6 32.3Q390.7 41.3 388.6 45.1M394.5 29Q391.4 29.6 395.9 21.1M395.9 21.1Q393.2 22.5 390.8 22.5M386.6 31.7Q388.1 26.2 389.4 24.1M389.4 24.1Q388.6 25.5 390.8 22.5M392.9 45.5Q389.1 45.2 388.6 45.1M392.9 45.5Q393.2 45.4 393.5 46.5M388.6 45.1Q388.6 45.8 387.7 46.1M389.5 60.6Q387.2 58.7 387.9 59.6M389.5 60.6Q392.4 62.6 394.9 57M387.9 59.6Q388.4 65.5 388.4 68.9M387.9 59.6Q387.5 60.9 386 55.2M403 78.9Q398.7 74.3 397.4 71.6M403 78.9Q402.2 79.7 403.6 82.5M396.9 71.4Q394.5 71.2 397.4 71.6M396.9 71.4Q396.5 75.7 393 73.7M388.4 68.9Q391.1 71.8 393 73.7M388.4 68.9Q389.5 71.6 386.8 69.3M393 73.7Q394.2 75.1 396 80.1M425.7 50.8Q426.5 45.5 428.4 48.6M425.7 50.8Q423.8 53.1 420.8 50.3M425.7 50.8Q426.7 59.5 427.2 61.5M461 19.5Q464 22.2 467.9 26.8M468 26.8Q468.9 28.3 467.9 26.8M442.8 55.6Q434.8 49.3 428.4 48.6M442.8 55.6Q442.9 56.2 444.5 54.1M442.8 55.6Q441.5 57.3 440.9 61.5M473.4 59.5Q474.3 55.2 473.1 58.6M473.1 58.6Q471.3 64.6 469.9 63.9M473.1 58.6Q473.7 55.8 473.4 48.8M469.4 59.7Q469.4 61.2 469.9 63.9M469.4 59.7Q469.9 54.1 471 51.9M460.2 65.6Q460.8 66.9 462.9 71.7M469.9 63.9Q469.6 65.1 469.5 65M472.4 41.5Q473.1 41.6 473.5 48.6M472.4 41.5Q469 36.2 468.5 37.8M471 51.9Q472.4 52 473.4 48.8M471 51.9Q469.4 52.4 468.4 47.6M447 78.6Q442.3 74 444.3 72M437 84.5Q440.1 87.1 438.5 89.8M437 84.5Q432 86 432.9 83.7M454 44Q458.5 48.2 459.6 48.5M454 44Q454.5 50.4 445.5 49.9M454 44Q456.5 41.1 451.6 37M459.6 48.5Q458.9 52.3 453.2 57.1M453.2 57.1Q452.9 53.3 444.5 54.1M445.5 49.9Q442.7 42.1 439.6 39.3M452.2 81Q457.5 79.7 461.5 75M452.2 81Q451.2 81 450.9 85M436.6 16.6Q428.9 15.7 426.9 17.7M436.6 16.6Q433.5 13.4 439.6 12.8M436.6 16.6Q438.6 22.8 440.4 24.2M426.9 17.7Q423.7 13.6 421.3 11.1M426.9 17.7Q424.3 19.2 423 24.3M438.9 11.8Q437.9 12 439.6 12.8M438.9 11.8Q431.8 10.7 426.2 8.5M438.9 11.8Q438.2 8.6 440.6 6.6M426.2 8.5Q424.7 9.1 423.2 9.3M426.2 8.5Q432.4 6.8 431 4M423.2 9.3Q420.9 9.6 421.3 11.1M421.3 11.1Q415 12.8 416.6 12.7M440.4 24.2Q441.2 28 445.5 26.4M440.4 24.2Q437.6 26.9 434.7 27.8M439.6 39.3Q444.3 36 447.9 34.7M439.6 39.3Q441.4 42.2 437.4 38.9M410.7 12.5Q406.3 15.6 404.3 17.3M416.6 12.7Q412.9 16.2 412.9 20.1M404.3 17.3Q406.5 19.9 404.9 21.8M430.2 3.6Q426 3.4 431 4M440.6 6.6Q441.4 6.7 443.1 6.9M423.9 88.8Q417.8 85.7 416.2 84.9M423.9 88.8Q425.9 87.1 431.2 84M415.9 82.3Q414.4 83.8 416.2 84.9M415.9 82.3Q422.2 84.5 423.2 80.6M414 90.6Q414.9 88.9 409 87.3M414 90.6Q415 90.9 415.5 93.5M409 87.3Q411.1 88.3 409 87.2M438.5 89.8Q434.8 90 434.6 92.2M438.5 89.8Q439.7 89.8 447.8 87.5M434.6 92.2Q437.7 93.8 437.2 94.2M445.9 91.7Q439.4 92.3 437.2 94.2M445.9 91.7Q447.4 91.2 447.2 90.9M435 94.9Q435.6 94.7 437.2 94.2M393.5 46.5Q394.1 49.7 394.9 57M400.1 60.7Q394.7 58.3 394.9 57M400.1 60.7Q403.5 57.7 404.4 48.3M387.7 46.1Q387.3 47.3 386 55.2M387.7 46.1Q385.9 40.6 384 39.6M386 55.2Q383.8 52.5 383.4 54.8M383.4 54.8Q382.4 52 382.2 48.9M382.2 48.9Q382.3 44.3 384 39.6M384.8 66.2Q386.3 67.9 386.8 69.3M386.8 69.3Q388.1 72.5 392.1 78.1M392.1 78.1Q393.9 80.2 395.8 80.7M403 36Q406.2 40.4 403.7 47.2M403 36Q406.6 33.6 406.3 32.4M403.7 47.2Q404.7 49.3 404.3 47.9M412.7 57Q416.9 55.5 420.8 50.3M412.7 57Q411.3 53 404.4 48.3M420.8 50.3Q417.1 50.2 413.9 42.4M413.9 42.4Q414.6 47.1 404.3 47.9M413.9 42.4Q413.9 42.9 414.7 38.3M404.4 48.3Q405.1 47.4 404.3 47.9M468.4 72.2Q468.2 72.6 467.6 73M427.2 61.5Q422.3 62.9 418 66.6M427.2 61.5Q431.1 62.3 431.8 64.2M419 71.3Q418.1 67.2 418 66.6M419 71.3Q419.7 73.2 423.3 74.4M445.3 68.9Q447.9 70.8 444.3 72M440.9 61.5Q437.6 65.3 431.8 64.2M469.5 65Q468.7 64.7 467.6 73M469.5 65Q466.3 67.7 462.9 71.7M467.6 73Q465.9 74.9 462.4 79.2M462.4 79.2Q459.9 79.3 461.5 75M462.4 79.2Q459.7 82.9 459.9 82.2M462.9 71.7Q460.2 78 461.5 75M445.5 26.4Q448 25.6 451.6 23.1M445.5 26.4Q445.7 32.5 447.9 34.7M451.6 23.1Q454.7 24.3 457.3 27.3M451.6 37Q451 36.8 447.9 34.7M451.6 37Q453.8 33.7 457.9 32.7M430.8 42Q434.2 40.7 437.4 38.9M430.8 42Q427.2 39.9 422.8 33.8M434.7 27.8Q428.4 30 424.3 26.1M402.7 24.9Q405.2 25.7 404.9 21.8M402.7 24.9Q406.5 25.9 406.3 32.4M404.9 21.8Q407.6 19.1 412.9 20.1M412.9 20.1Q412.8 20.6 416.5 23.7M406.3 32.4Q409.9 33.3 408.5 32.1M449.7 9.8Q446.3 9.8 443.1 6.9M423.2 80.6Q428.8 85.4 431.2 84M423.3 74.4Q430 71.7 431.4 73.1M432.9 83.7Q431.6 75.8 433.6 74.6M433.6 74.6Q431.8 74.5 431.4 73.1M402.8 87.7Q400.8 86.2 395.8 80.7M402.8 87.7Q405.3 88.1 409 87.2M396 80.1Q397.6 81.4 403.6 82.5M403.6 82.5Q408.2 85.4 409 87.2M447.2 90.9Q451.6 88.7 458.3 84.3M447.2 90.9Q447.8 89.8 447.8 87.5M458.3 84.3Q460.8 82 459.9 82.2M459.9 82.2Q457.6 82.5 450.9 85M450.9 85Q446.8 86.5 447.8 87.5M414.7 38.3Q415 34.2 422.8 33.8M408.5 32.1Q415.2 26.2 416.5 23.7M422.8 33.8Q424.2 31 424.3 26.1M416.5 23.7Q418.4 23.3 423 24.3M423 24.3Q417.7 23.1 424.3 26.1" fill="none" stroke-linecap="round" stroke-linejoin="round"/></defs><use href="#mpm3" stroke="#ad7430" stroke-width="4.2" transform="translate(0.45 0.55)"/><use href="#mpm3" stroke="#dfab64" stroke-width="3.7"/><use href="#mpm3" stroke="#fbe9c4" stroke-width="0.9" transform="translate(-0.45 -0.55)" opacity="0.8" filter="url(#b04)"/><circle cx="428" cy="49" r="46.6" fill="none" stroke="#e6bd7c" stroke-width="2"/><circle cx="428" cy="49" r="47.4" fill="url(#gShadeTan)"/><g clip-path="url(#cwm3)"><rect x="380.6" y="1.6" width="94.8" height="94.8" fill="#8a5a22"/><path d="M391.5 51.8 Q399.6 17.7 428.9 13 Q441.7 32.9 440.3 57.5 Q415.7 61.8 391.5 51.8 Z" fill="none" stroke="#ad7430" stroke-width="9" opacity="0.9"/><g><clipPath id="cpm3c"><circle cx="426.5" cy="48" r="29.9"/></clipPath><circle cx="426.5" cy="48" r="29.9" fill="url(#gPur)"/><circle cx="426.5" cy="48" r="29.9" fill="url(#gPurTop)"/><g clip-path="url(#cpm3c)"><ellipse cx="423" cy="28.2" rx="11.5" ry="7.1" fill="#fff" opacity="0.38" filter="url(#b2)"/><ellipse cx="415.9" cy="48.1" rx="10.6" ry="7.1" fill="#f4d0ff" opacity="0.4" filter="url(#b2)"/><ellipse cx="450.4" cy="52.1" rx="4.4" ry="14.1" fill="#e8d8ff" opacity="0.5" filter="url(#b2)"/><path d="M415.7 29.4 L423.6 22.4 L432.7 25.6 L422.8 32.6 Z" fill="#fff" filter="url(#b1)"/><path d="M408.3 43.1 L423.8 45.3 L422.8 53.8 L408.8 52.6 Z" fill="#fde9ff" filter="url(#b1)"/><path d="M446.8 27.8 Q457.9 36.2 455.9 51.2 Q451.7 37.9 446.8 27.8 Z" fill="#fff" filter="url(#b1)"/><path d="M446.1 38.4 L449.5 41 L450.4 49.9 L447.1 48.1 Z" fill="#f6e8ff" filter="url(#b1)" opacity="0.95"/><path d="M444.6 56.9 L449 55.2 L444.2 64.9 Z" fill="#e6c8ff" filter="url(#b1)" opacity="0.75"/></g></g></g><path d="M391.5 51.8 Q399.6 17.7 428.9 13 Q441.7 32.9 440.3 57.5 Q415.7 61.8 391.5 51.8 Z" fill="none" stroke="#ad7430" stroke-width="5.4" stroke-linejoin="round" transform="translate(0.4 0.5)"/><path d="M391.5 51.8 Q399.6 17.7 428.9 13 Q441.7 32.9 440.3 57.5 Q415.7 61.8 391.5 51.8 Z" fill="none" stroke="#dfab64" stroke-width="4.8" stroke-linejoin="round"/><path d="M391.5 51.8 Q399.6 17.7 428.9 13 Q441.7 32.9 440.3 57.5 Q415.7 61.8 391.5 51.8 Z" fill="none" stroke="#fbe9c4" stroke-width="1.6" stroke-linejoin="round" opacity="0.8" transform="translate(-0.6 -0.7)" filter="url(#b04)"/></g></g><text x="432.5" y="124.2" font-size="14.5" text-anchor="middle" fill="#000">UCNP@g-C<tspan font-size="9.6" dy="3.2">3</tspan><tspan dy="-3.2">N</tspan><tspan font-size="9.6" dy="3.2">4</tspan></text><text x="502" y="33.2" font-size="14.5" text-anchor="start" fill="#000">Ru</text><circle cx="533.8" cy="27.6" r="5.2" fill="#e01216"/><circle cx="532.2" cy="25.8" r="2" fill="#ff7a6a" opacity="0.8" filter="url(#b06)"/><path d="M490.5 44.1 H539.5 V40.3 L550 48.5 L539.5 56.7 V52.9 H490.5 Z" fill="#f0ab00"/><g><clipPath id="csm4"><circle cx="611" cy="51" r="49"/></clipPath><clipPath id="cwm4"><path d="M573.3 53.9 Q581.6 18.7 612 13.8 Q625.2 34.3 623.7 59.8 Q598.3 64.2 573.3 53.9 Z"/></clipPath><g clip-path="url(#csm4)"><circle cx="611" cy="51" r="49" fill="#5a3210"/><circle cx="614" cy="56" r="27" fill="#7a34bc" opacity="0.6"/><defs><path id="mpm4" d="M630.2 87.7Q631.4 84.6 625.6 85.4M630.2 87.7Q632.7 88.5 626.8 92.6M630.2 87.7Q634 87 638.8 84.1M639.7 87.6Q644.9 84.3 642.1 87.7M639.7 87.6Q633.4 92.4 630.6 93.9M615.9 98.3Q615.4 98 616.6 98.2M615.9 98.3Q610.3 97.8 605.6 97.1M615.8 93.8Q619.9 90.5 618.6 88.6M615.8 93.8Q614.8 92.9 608.9 94M625.6 85.4Q622.3 89.9 618.6 88.6M625.6 85.4Q622.9 86.3 626 82M618.6 88.6Q610.8 87.6 610.5 86.6M642.3 17.4Q642.6 17.3 641.6 14.4M642.3 17.4Q645.3 21.2 645.1 20.5M642.3 17.4Q642 18.6 640.6 16.7M641.6 14.4Q640.5 14.1 637.6 10.9M658.4 45.4Q658.6 48 658.2 52.7M658.4 45.4Q658 41.7 658.7 44.4M658.4 45.4Q656.6 38.3 655 38.4M589.2 8.9Q588.9 10 590.3 9.2M637.6 10.9Q635.4 10.1 628.8 6.9M616.7 6.9Q613 9.9 609.1 11.7M616.7 6.9Q620.5 8.8 627 11.3M616.7 6.9Q609.3 5.2 615.6 4.7M609.1 11.7Q601.8 11.5 609.1 11.7M587.5 43.6Q592.2 44.5 589.5 49M587.5 43.6Q582.5 42.7 579.4 41.3M637.1 24.4Q642.7 26 647 29.8M637.1 24.4Q635.5 23.9 635.1 22.1M637.1 24.4Q638.4 29.2 637.5 33.2M568.1 33.7Q572.8 31.4 573 31.3M568.1 33.7Q568.9 32.7 566.4 38.1M568.1 33.7Q566.3 34.8 568.6 30.1M573 31.3Q576.6 25.1 578.1 22.3M573 31.3Q572.2 33.9 573.6 33.4M578.1 22.3Q579.4 18.6 578.3 19.9M578.1 22.3Q580 22.7 583.9 21.8M578.3 19.9Q584.8 13.3 588.2 11.6M579.4 74.2Q578.9 76 586.2 78.3M579.4 74.2Q577.7 73.5 578.4 71.6M579.4 74.2Q580.4 77 576.5 78.1M586.2 78.3Q584.9 79.6 588.6 84.8M586.2 78.3Q588.2 77.9 592.2 75.7M585 87Q583.7 85.3 588.6 84.8M585 87Q583.3 86.6 585.2 87.5M588.6 84.8Q592.5 86 597 88.2M570.9 62.7Q573.2 67.5 578.4 71.6M570.9 62.7Q571.7 62.5 570.9 58.7M570.9 62.7Q569 63 568.7 66.3M578.4 71.6Q582.5 68 582.4 63M656.4 66.3Q657.1 63.2 658.5 59M656.4 66.3Q654.6 67.3 654.1 68.8M658.5 59Q658.3 57.6 658.2 52.7M658.2 52.7Q658.2 53.5 656.8 55M656.8 55Q656 59.9 654.7 63.4M656.8 55Q654.3 53.7 654 50M654.1 68.8Q654.2 65.3 654.7 63.4M654.1 68.8Q654.2 68.6 651.9 72.9M654.7 63.4Q653.6 58.4 651.2 62M649.5 80Q642.5 87.5 642.1 87.7M626.8 92.6Q622 95.7 618.9 94.8M626.8 92.6Q627.3 93.1 630.6 93.9M616.6 98.2Q616.9 95.5 618.9 94.8M616.6 98.2Q621 97.2 629.2 95.1M629.2 95.1Q633.5 92.9 630.6 93.9M585.2 87.5Q590.7 90.2 592.8 92.7M585.2 87.5Q585.3 89.6 581.3 88.4M608.9 94Q606.1 90.5 605.8 89M597 88.2Q596.9 89.8 597.2 92.7M597 88.2Q597.3 87.2 599.1 87.6M592.2 75.7Q596.9 78.1 597.7 78.1M592.2 75.7Q595 71.9 590.1 68.4M606.6 73.3Q603.1 69.4 599.7 61.2M645.1 20.5Q647.6 25.5 647 29.8M645.1 20.5Q649.4 24.6 652.3 27.5M647 29.8Q647.3 29.7 648.9 33.7M588.2 11.6Q590.1 10.1 590.3 9.2M588.2 11.6Q591.7 11.2 591 15.3M590.3 9.2Q598.6 6.1 600.3 6.5M600.3 6.5Q602.2 10.8 602.9 10M600.3 6.5Q604.3 4.4 603.9 4.8M602.9 10Q599.2 12 592.7 15.1M630.5 10.8Q638.7 15.6 640.6 16.7M630.5 10.8Q631.6 12.7 627 11.3M630.5 10.8Q631 9.2 628.5 6.9M640.6 16.7Q641 23.3 635.1 22.1M626.9 12.2Q625 9.4 627 11.3M626.9 12.2Q632.4 16.1 634.2 21.6M626.9 12.2Q622.3 12.5 620 14.8M635.1 22.1Q635.1 19.6 634.2 21.6M634.2 21.6Q630.6 25 625.7 23M615.6 4.7Q624 6.2 628.5 6.9M615.6 4.7Q618.7 4.1 615.3 4.6M628.8 6.9Q631.2 7.9 628.5 6.9M609.1 11.7Q608.8 10.7 606.8 16.6M606.8 16.6Q608.9 19.2 614 22.5M606.8 16.6Q603.1 18.8 599.1 21.3M620 14.8Q620.6 18 622.3 21M585.8 27.8Q583.3 22.5 583.9 21.8M585.8 27.8Q584.7 28.3 587.5 27.9M585.8 27.8Q581.8 28.8 579 34.2M583.9 21.8Q589.1 18.5 591 15.3M591 15.3Q592.4 13.8 592.7 15.1M592.7 15.1Q594.5 17.5 597.5 21.3M570.9 58.7Q568.4 54.5 566.6 50.8M575.3 54.2Q574.2 49 574.9 48.1M575.3 54.2Q578.2 52.5 580.9 57.8M563.3 52.2Q563.6 49.7 563.9 43.1M563.8 54.5Q564.6 48.5 566.6 50.8M563.8 54.5Q564.2 51.5 564 56.9M563.9 43.1Q564.6 44.9 566.4 38.1M566.4 38.1Q566.6 42.4 567.4 46M566.6 50.8Q566.4 47.4 567.4 46M567.4 46Q568.3 45.7 570.7 43.2M575 20Q572.8 22.3 575.6 18.8M575 20Q570.4 25.6 568.6 30.1M653.3 29.3Q654.7 32.9 652.3 27.5M653.3 29.3Q654.1 32.4 654.5 37.1M576.6 78.6Q575 81.2 574.8 81.8M576.5 78.1Q570.9 72.5 569.3 69.4M650.1 77.3Q649.5 77.3 651.9 72.9M650.1 77.3Q643.7 84.5 640.6 85.8M638.8 84.1Q640.7 85.3 640.6 85.8M638.8 84.1Q638.9 82.8 641 79.9M641 79.9Q643.7 73.8 647.7 73.8M641 79.9Q640.8 75.9 637.7 74.2M647.7 73.8Q647.8 69.8 647.7 67.5M651.2 62Q647.1 65.7 647.7 67.5M651.2 62Q651.8 59.3 650.8 57.4M647.7 67.5Q644.9 67.6 642.5 67.1M592.8 92.7Q594.2 90.9 597.2 92.7M592.8 92.7Q590.2 92.6 593.5 95.1M597.2 92.7Q598.4 93.6 605.2 95.5M598.7 97.3Q593.9 95.5 593.5 95.1M598.7 97.3Q600.3 97.2 605.6 97.1M593.5 95.1Q592 94.8 583.3 90.4M605.6 97.1Q600.9 95.5 605.2 95.5M599.7 61.2Q599.8 60.3 605.8 56.7M599.7 61.2Q601.1 61.7 597.9 60.9M605.8 56.7Q608.3 59.6 615.4 61M589.5 49Q599.2 41.9 602.5 43.9M589.5 49Q589.2 54 589.2 50.3M602.5 43.9Q606.8 48.7 606.8 50.1M602.5 43.9Q599.6 44.3 603.1 41M606.8 50.1Q614.1 46.8 618.4 46.6M597.7 78.1Q601 79.2 605.7 76.3M597.7 78.1Q596.3 83.5 599.1 87.6M605.7 76.3Q610 78.8 610.3 80.5M610.3 80.5Q615.9 83.8 610.5 86.6M610.3 80.5Q616.8 79.6 620.7 79.1M605.8 89Q601.7 88.3 599.1 87.6M655 38.4Q654.3 39.4 654.5 37.1M655 38.4Q655 47.9 654 50M654 50Q655.6 51 653.6 50.2M648.9 33.7Q647 34.6 648.2 35.9M648.2 35.9Q646.8 41.6 641.5 37.3M648.2 35.9Q649.1 41.8 649.5 45.2M614.4 68.9Q615.5 61.1 615.4 61M615.3 4.6Q610.6 5 603.9 4.8M622.3 21Q614.6 20.7 614 22.5M626.2 32.6Q626 32.8 628.1 35.5M626.2 32.6Q620.4 25.4 612.9 30.8M614 22.5Q610.5 26.3 611.6 28.8M591.2 34.9Q595.8 34.4 598.2 34M587.5 27.9Q592.5 26.5 597.5 21.3M599.1 21.3Q601.7 19.5 597.5 21.3M599.1 21.3Q599.6 25.5 602.3 27.8M621.9 57.2Q625.9 63.9 627.7 67.6M621.9 57.2Q625.5 57.8 622.4 56M628.1 35.5Q635.5 33.8 637.5 33.2M637.5 33.2Q641 34.8 641.5 37.3M641.5 37.3Q640.9 40 640.7 47.5M640.7 47.5Q642.8 47.2 644.6 49.7M640.7 47.5Q641.1 48.9 635.7 49.3M574.9 48.1Q573.4 51.4 570.7 43.2M574.9 48.1Q576 43.9 579.4 41.3M570.7 43.2Q575.5 35.7 573.6 33.4M579 34.2Q574.6 34.5 573.6 33.4M568.6 73.4Q567.3 69.4 569.3 69.4M568.6 73.4Q570.9 77.3 571.3 78M564 56.9Q567 64.8 568.7 66.3M568.7 66.3Q569.4 69.4 569.3 69.4M574.8 81.8Q574.4 80.9 571.3 78M574.8 81.8Q577.7 85.4 581.3 88.4M581.3 88.4Q581.5 88.8 583.3 90.4M583.3 90.4Q582.1 89.6 583.3 90.4M644.6 49.7Q644.4 51.3 646.3 56M644.6 49.7Q644.9 49.5 649.5 45.2M646.3 56Q647.7 58.4 650.8 57.4M646.3 56Q642.9 61.4 642.1 63.6M649.5 45.2Q649.2 47.3 653.6 50.2M590.1 68.4Q596.3 63.8 597.9 60.9M590.1 68.4Q587.4 66 582.4 63M597.9 60.9Q590.1 55.7 589.2 50.3M589.2 50.3Q586.2 52.7 580.9 57.8M603.1 41Q600.8 39.8 598.2 34M603.1 41Q610.7 38.7 611.5 36.3M598.2 34Q596.4 30.1 602.3 27.8M611.5 36.3Q615.2 31.9 612.9 30.8M611.6 28.8Q613.9 31.9 612.9 30.8M627.7 67.6Q623 66.3 629.4 67.8M621.3 71.7Q623.6 74.7 620.7 79.1M626 82Q620.6 82.6 620.7 79.1M626 82Q627.6 77.1 633.6 75M627.9 38.7Q629.8 42.6 635.7 49.3M627.9 38.7Q622.4 40.6 619 44.7M622.4 56Q632.2 52.1 634.5 52.2M622.4 56Q623.6 54.4 618.4 46.6M634.5 52.2Q637 51.7 635.7 49.3M618.4 46.6Q620.9 45.6 619 44.7M636 60.4Q633.3 66.7 629.4 67.8M636 60.4Q640.3 65.5 642.1 63.6M629.4 67.8Q631.9 71.5 633.6 75M642.5 67.1Q641.1 69.8 637.7 74.2M637.7 74.2Q635.2 73.1 633.6 75" fill="none" stroke-linecap="round" stroke-linejoin="round"/></defs><use href="#mpm4" stroke="#ad7430" stroke-width="4.2" transform="translate(0.45 0.55)"/><use href="#mpm4" stroke="#dfab64" stroke-width="3.7"/><use href="#mpm4" stroke="#fbe9c4" stroke-width="0.9" transform="translate(-0.45 -0.55)" opacity="0.8" filter="url(#b04)"/><circle cx="611" cy="51" r="48.2" fill="none" stroke="#e6bd7c" stroke-width="2"/><circle cx="611" cy="51" r="49" fill="url(#gShadeTan)"/><g clip-path="url(#cwm4)"><rect x="562" y="2" width="98" height="98" fill="#8a5a22"/><path d="M573.3 53.9 Q581.6 18.7 612 13.8 Q625.2 34.3 623.7 59.8 Q598.3 64.2 573.3 53.9 Z" fill="none" stroke="#ad7430" stroke-width="9" opacity="0.9"/><g><clipPath id="cpm4c"><circle cx="609.5" cy="50" r="30.9"/></clipPath><circle cx="609.5" cy="50" r="30.9" fill="url(#gPur)"/><circle cx="609.5" cy="50" r="30.9" fill="url(#gPurTop)"/><g clip-path="url(#cpm4c)"><ellipse cx="605.8" cy="29.5" rx="11.9" ry="7.3" fill="#fff" opacity="0.38" filter="url(#b2)"/><ellipse cx="598.5" cy="50.1" rx="11" ry="7.3" fill="#f4d0ff" opacity="0.4" filter="url(#b2)"/><ellipse cx="634.2" cy="54.2" rx="4.6" ry="14.6" fill="#e8d8ff" opacity="0.5" filter="url(#b2)"/><path d="M598.4 30.7 L606.5 23.5 L615.9 26.8 L605.7 34.1 Z" fill="#fff" filter="url(#b1)"/><path d="M590.7 44.9 L606.8 47.2 L605.7 56 L591.2 54.7 Z" fill="#fde9ff" filter="url(#b1)"/><path d="M630.5 29.1 Q641.9 37.8 639.9 53.3 Q635.5 39.6 630.5 29.1 Z" fill="#fff" filter="url(#b1)"/><path d="M629.8 40 L633.2 42.8 L634.2 51.9 L630.8 50.1 Z" fill="#f6e8ff" filter="url(#b1)" opacity="0.95"/><path d="M628.2 59.2 L632.8 57.4 L627.8 67.4 Z" fill="#e6c8ff" filter="url(#b1)" opacity="0.75"/></g></g><circle cx="578.6" cy="46.6" r="1.1" fill="#d81e28"/><circle cx="580.2" cy="41.5" r="1.3" fill="#d81e28"/><circle cx="583.9" cy="35.4" r="1.2" fill="#d81e28"/><circle cx="585.6" cy="30.6" r="1.3" fill="#d81e28"/><circle cx="589.9" cy="25.9" r="1.3" fill="#d81e28"/><circle cx="595" cy="22.7" r="1.3" fill="#d81e28"/><circle cx="601.5" cy="19.1" r="1.4" fill="#d81e28"/><circle cx="607" cy="17.9" r="1.1" fill="#d81e28"/><circle cx="615.2" cy="57.9" r="1" fill="#d81e28"/><circle cx="606.9" cy="59.2" r="1.3" fill="#d81e28"/><circle cx="599.5" cy="58.5" r="1.3" fill="#d81e28"/><circle cx="591" cy="56.3" r="1.3" fill="#d81e28"/><circle cx="584.2" cy="54.9" r="1.4" fill="#d81e28"/><circle cx="616.6" cy="28.9" r="1" fill="#d81e28"/><circle cx="619.4" cy="39.9" r="1" fill="#d81e28"/></g><path d="M573.3 53.9 Q581.6 18.7 612 13.8 Q625.2 34.3 623.7 59.8 Q598.3 64.2 573.3 53.9 Z" fill="none" stroke="#ad7430" stroke-width="5.4" stroke-linejoin="round" transform="translate(0.4 0.5)"/><path d="M573.3 53.9 Q581.6 18.7 612 13.8 Q625.2 34.3 623.7 59.8 Q598.3 64.2 573.3 53.9 Z" fill="none" stroke="#dfab64" stroke-width="4.8" stroke-linejoin="round"/><path d="M573.3 53.9 Q581.6 18.7 612 13.8 Q625.2 34.3 623.7 59.8 Q598.3 64.2 573.3 53.9 Z" fill="none" stroke="#fbe9c4" stroke-width="1.6" stroke-linejoin="round" opacity="0.8" transform="translate(-0.6 -0.7)" filter="url(#b04)"/><circle cx="630.1" cy="34.9" r="1.1" fill="#c81c26"/><circle cx="623.4" cy="35.9" r="1.1" fill="#c81c26"/><circle cx="574.3" cy="29.7" r="0.8" fill="#c81c26"/><circle cx="631.4" cy="60.4" r="1.2" fill="#c81c26"/><circle cx="636.4" cy="36.9" r="1.3" fill="#c81c26"/><circle cx="624.9" cy="44.9" r="1.3" fill="#c81c26"/><circle cx="626" cy="63.3" r="1.1" fill="#c81c26"/><circle cx="629.5" cy="65.6" r="0.8" fill="#c81c26"/><circle cx="590.5" cy="85.4" r="0.9" fill="#c81c26"/><circle cx="599.2" cy="85.9" r="0.9" fill="#c81c26"/><circle cx="626.1" cy="64.3" r="1.1" fill="#c81c26"/><circle cx="630.6" cy="59.4" r="0.9" fill="#c81c26"/><circle cx="642.9" cy="74.4" r="0.9" fill="#c81c26"/><circle cx="646" cy="51.2" r="0.9" fill="#c81c26"/><circle cx="601.4" cy="80" r="1.3" fill="#c81c26"/><circle cx="643.6" cy="55.8" r="0.8" fill="#c81c26"/></g></g><text x="617.5" y="124.2" font-size="14.5" text-anchor="middle" fill="#000">UCNP@g-C<tspan font-size="9.6" dy="3.2">3</tspan><tspan dy="-3.2">N</tspan><tspan font-size="9.6" dy="3.2">4</tspan><tspan dy="-3.2">-Ru</tspan></text></g><g id="pb"><text x="-0.7" y="160.8" font-size="16" text-anchor="start" fill="#000" font-weight="bold">b</text><rect x="17" y="147.3" width="106.3" height="20.3" fill="#efefef"/><text x="70.2" y="164" font-size="11.8" text-anchor="middle" fill="#111">UCNP</text><clipPath id="cb0"><rect x="17" y="167.4" width="106.3" height="103"/></clipPath><g clip-path="url(#cb0)"><rect x="17" y="167.4" width="106.3" height="103" fill="#e9e9e9"/><g filter="url(#bl09)"><ellipse cx="21.7" cy="172.1" rx="8.7" ry="7.9" fill="#5b5b5b" stroke="#363636" stroke-width="1.0" stroke-opacity="0.3" transform="rotate(23.4 21.7 172.1)"/><ellipse cx="36.5" cy="176" rx="8.2" ry="7.8" fill="#a2a2a2" stroke="#636363" stroke-width="1.0" stroke-opacity="0.3" transform="rotate(64.2 36.5 176)"/><ellipse cx="53.7" cy="182.2" rx="8.5" ry="7.5" fill="#b5b5b5" stroke="#6f6f6f" stroke-width="1.0" stroke-opacity="0.3" transform="rotate(56.4 53.7 182.2)"/><ellipse cx="70.1" cy="173.6" rx="8.5" ry="7.6" fill="#303030" stroke="#1b1b1b" stroke-width="1.0" stroke-opacity="0.3" transform="rotate(29.5 70.1 173.6)"/><ellipse cx="88.1" cy="180.7" rx="8.4" ry="7.5" fill="#b5b5b5" stroke="#6f6f6f" stroke-width="1.0" stroke-opacity="0.3" transform="rotate(63.4 88.1 180.7)"/><ellipse cx="113.8" cy="172.9" rx="8.7" ry="7.9" fill="#a7a7a7" stroke="#666666" stroke-width="1.0" stroke-opacity="0.3" transform="rotate(52.7 113.8 172.9)"/><ellipse cx="24" cy="188.5" rx="8.4" ry="7.5" fill="#b5b5b5" stroke="#6f6f6f" stroke-width="1.0" stroke-opacity="0.3" transform="rotate(22.2 24 188.5)"/><ellipse cx="39.6" cy="194" rx="8.1" ry="7.6" fill="#acacac" stroke="#696969" stroke-width="1.0" stroke-opacity="0.3" transform="rotate(39.1 39.6 194)"/><ellipse cx="56.1" cy="198.6" rx="8.3" ry="7.8" fill="#484848" stroke="#2a2a2a" stroke-width="1.0" stroke-opacity="0.3" transform="rotate(51.5 56.1 198.6)"/><ellipse cx="71.7" cy="190.8" rx="8.4" ry="7.4" fill="#a7a7a7" stroke="#666666" stroke-width="1.0" stroke-opacity="0.3" transform="rotate(21.4 71.7 190.8)"/><ellipse cx="89.6" cy="198.6" rx="8.3" ry="7.4" fill="#b5b5b5" stroke="#6f6f6f" stroke-width="1.0" stroke-opacity="0.3" transform="rotate(50.6 89.6 198.6)"/><ellipse cx="105.3" cy="187.7" rx="8.7" ry="7.7" fill="#bababa" stroke="#727272" stroke-width="1.0" stroke-opacity="0.3" transform="rotate(30.9 105.3 187.7)"/><ellipse cx="119.3" cy="198.6" rx="8.6" ry="7.8" fill="#525252" stroke="#303030" stroke-width="1.0" stroke-opacity="0.3" transform="rotate(64.1 119.3 198.6)"/><ellipse cx="27.2" cy="207.2" rx="8.6" ry="7.8" fill="#a2a2a2" stroke="#636363" stroke-width="1.0" stroke-opacity="0.3" transform="rotate(67.4 27.2 207.2)"/><ellipse cx="44.3" cy="213.5" rx="8.3" ry="7.9" fill="#949494" stroke="#5a5a5a" stroke-width="1.0" stroke-opacity="0.3" transform="rotate(77.7 44.3 213.5)"/><ellipse cx="60.4" cy="219.7" rx="8.2" ry="7.8" fill="#303030" stroke="#1b1b1b" stroke-width="1.0" stroke-opacity="0.3" transform="rotate(62.9 60.4 219.7)"/><ellipse cx="74" cy="208.8" rx="8.4" ry="7.6" fill="#484848" stroke="#2a2a2a" stroke-width="1.0" stroke-opacity="0.3" transform="rotate(49.4 74 208.8)"/><ellipse cx="91.7" cy="217.4" rx="8.7" ry="7.6" fill="#b5b5b5" stroke="#6f6f6f" stroke-width="1.0" stroke-opacity="0.3" transform="rotate(69.9 91.7 217.4)"/><ellipse cx="105.3" cy="207.2" rx="8.3" ry="7.8" fill="#b1b1b1" stroke="#6c6c6c" stroke-width="1.0" stroke-opacity="0.3" transform="rotate(74 105.3 207.2)"/><ellipse cx="117" cy="224.4" rx="8.4" ry="7.6" fill="#bababa" stroke="#727272" stroke-width="1.0" stroke-opacity="0.3" transform="rotate(75.2 117 224.4)"/><ellipse cx="29.5" cy="226" rx="8.5" ry="7.6" fill="#b5b5b5" stroke="#6f6f6f" stroke-width="1.0" stroke-opacity="0.3" transform="rotate(33.3 29.5 226)"/><ellipse cx="47.5" cy="233" rx="8.3" ry="7.7" fill="#7c7c7c" stroke="#4b4b4b" stroke-width="1.0" stroke-opacity="0.3" transform="rotate(30 47.5 233)"/><ellipse cx="63.9" cy="238.5" rx="8.6" ry="7.5" fill="#9e9e9e" stroke="#606060" stroke-width="1.0" stroke-opacity="0.3" transform="rotate(74.7 63.9 238.5)"/><ellipse cx="77.9" cy="228.3" rx="8.3" ry="7.9" fill="#2c2c2c" stroke="#181818" stroke-width="1.0" stroke-opacity="0.3" transform="rotate(62.4 77.9 228.3)"/><ellipse cx="102.1" cy="234.6" rx="8.4" ry="7.6" fill="#a7a7a7" stroke="#666666" stroke-width="1.0" stroke-opacity="0.3" transform="rotate(59.1 102.1 234.6)"/><ellipse cx="18.6" cy="218.9" rx="8.5" ry="7.5" fill="#b5b5b5" stroke="#6f6f6f" stroke-width="1.0" stroke-opacity="0.3" transform="rotate(32.5 18.6 218.9)"/><ellipse cx="17.8" cy="236.9" rx="8.4" ry="7.9" fill="#a7a7a7" stroke="#666666" stroke-width="1.0" stroke-opacity="0.3" transform="rotate(57.4 17.8 236.9)"/><ellipse cx="34.2" cy="244.7" rx="8.1" ry="7.8" fill="#565656" stroke="#333333" stroke-width="1.0" stroke-opacity="0.3" transform="rotate(63.6 34.2 244.7)"/><ellipse cx="53.7" cy="252.5" rx="8.6" ry="7.4" fill="#a2a2a2" stroke="#636363" stroke-width="1.0" stroke-opacity="0.3" transform="rotate(64.7 53.7 252.5)"/><ellipse cx="74" cy="256.4" rx="8.1" ry="7.7" fill="#a7a7a7" stroke="#666666" stroke-width="1.0" stroke-opacity="0.3" transform="rotate(36.4 74 256.4)"/><ellipse cx="88.1" cy="245.5" rx="8.2" ry="7.8" fill="#999999" stroke="#5d5d5d" stroke-width="1.0" stroke-opacity="0.3" transform="rotate(26.4 88.1 245.5)"/><ellipse cx="106" cy="253.3" rx="8.4" ry="7.8" fill="#949494" stroke="#5a5a5a" stroke-width="1.0" stroke-opacity="0.3" transform="rotate(34.7 106 253.3)"/><ellipse cx="119.3" cy="240.8" rx="8.2" ry="7.8" fill="#b5b5b5" stroke="#6f6f6f" stroke-width="1.0" stroke-opacity="0.3" transform="rotate(45.4 119.3 240.8)"/><ellipse cx="26.4" cy="267.4" rx="8.5" ry="7.3" fill="#484848" stroke="#2a2a2a" stroke-width="1.0" stroke-opacity="0.3" transform="rotate(41.7 26.4 267.4)"/><ellipse cx="45.9" cy="268.1" rx="8.2" ry="7.7" fill="#a7a7a7" stroke="#666666" stroke-width="1.0" stroke-opacity="0.3" transform="rotate(25 45.9 268.1)"/><ellipse cx="63.9" cy="267.4" rx="8.7" ry="7.3" fill="#787878" stroke="#484848" stroke-width="1.0" stroke-opacity="0.3" transform="rotate(63.8 63.9 267.4)"/><ellipse cx="92" cy="265" rx="8.1" ry="7.5" fill="#b1b1b1" stroke="#6c6c6c" stroke-width="1.0" stroke-opacity="0.3" transform="rotate(68.8 92 265)"/><ellipse cx="112.3" cy="268.1" rx="8.2" ry="7.4" fill="#a7a7a7" stroke="#666666" stroke-width="1.0" stroke-opacity="0.3" transform="rotate(61.5 112.3 268.1)"/><ellipse cx="121.7" cy="258" rx="8.3" ry="7.3" fill="#acacac" stroke="#696969" stroke-width="1.0" stroke-opacity="0.3" transform="rotate(79.4 121.7 258)"/><ellipse cx="18.6" cy="254.9" rx="8.2" ry="7.3" fill="#b5b5b5" stroke="#6f6f6f" stroke-width="1.0" stroke-opacity="0.3" transform="rotate(40.7 18.6 254.9)"/><ellipse cx="101.3" cy="170.5" rx="8.5" ry="7.7" fill="#c4c4c4" stroke="#787878" stroke-width="1.0" stroke-opacity="0.3" transform="rotate(26.8 101.3 170.5)"/><ellipse cx="79.5" cy="268.9" rx="8.3" ry="7.3" fill="#acacac" stroke="#696969" stroke-width="1.0" stroke-opacity="0.3" transform="rotate(46.9 79.5 268.9)"/></g><rect x="17" y="167.4" width="106.3" height="103" filter="url(#nG)" opacity="0.06"/></g><rect x="27" y="260.5" width="23.7" height="2.2" fill="#fff"/><text x="39.2" y="258.4" font-size="11.2" fill="#fff" text-anchor="middle">50 nm</text><rect x="126" y="147.3" width="106" height="20.3" fill="#efefef"/><text x="179" y="164" font-size="11.8" text-anchor="middle" fill="#111">UCNP@mSiO<tspan font-size="7.8" dy="2.6">2</tspan></text><clipPath id="cb1"><rect x="126" y="167.4" width="106" height="103"/></clipPath><g clip-path="url(#cb1)"><rect x="126" y="167.4" width="106" height="103" fill="#d8d8d8"/><g filter="url(#bl25)"><rect x="168.2" y="161.4" width="65.6" height="9" fill="#6e6e6e"/><ellipse cx="213.5" cy="170.4" rx="9" ry="6" fill="#555"/></g><g filter="url(#roughB)"><circle cx="158.8" cy="194" r="12" fill="#8c8c8c"/><circle cx="183.8" cy="185.4" r="11.2" fill="#8c8c8c"/><circle cx="200.2" cy="180.7" r="10.3" fill="#8c8c8c"/><circle cx="226" cy="176.8" r="9.5" fill="#696969"/><circle cx="172.9" cy="211.9" r="10.7" fill="#8c8c8c"/><circle cx="197.1" cy="209.6" r="11.2" fill="#8c8c8c"/><circle cx="144.7" cy="216.6" r="11.7" fill="#8c8c8c"/><circle cx="151.8" cy="230.7" r="10.7" fill="#8c8c8c"/><circle cx="172.1" cy="236.1" r="10.7" fill="#8c8c8c"/><circle cx="185.8" cy="229.9" r="8.9" fill="#696969"/><circle cx="196.3" cy="250.2" r="11.7" fill="#8c8c8c"/><circle cx="211.1" cy="256.4" r="11.2" fill="#8c8c8c"/></g><g filter="url(#bl12)" fill="#d8d8d8"><circle cx="174.4" cy="196.3" r="2.5"/><circle cx="184.1" cy="201.5" r="2.5"/><circle cx="159.6" cy="217.7" r="2.2"/><circle cx="165.1" cy="224.9" r="2"/><circle cx="177.5" cy="223.6" r="1.6"/><circle cx="187.7" cy="195.5" r="1.6"/></g><g filter="url(#bl12)" opacity="0.9"><circle cx="158.8" cy="194" r="6.6" fill="#5f5f5f"/><circle cx="183.8" cy="185.4" r="6.2" fill="#646464"/><circle cx="200.2" cy="180.7" r="5.9" fill="#6e6e6e"/><circle cx="226" cy="176.8" r="6.2" fill="#191919"/><rect x="165.7" y="205.8" width="14.4" height="12.2" rx="3" fill="#4b4b4b"/><circle cx="197.1" cy="209.6" r="6.6" fill="#555555"/><circle cx="144.7" cy="216.6" r="6.6" fill="#646464"/><circle cx="151.8" cy="230.7" r="6.2" fill="#696969"/><circle cx="172.1" cy="236.1" r="6.6" fill="#5a5a5a"/><circle cx="185.8" cy="229.9" r="7" fill="#0f0f0f"/><circle cx="196.3" cy="250.2" r="6.6" fill="#5f5f5f"/><circle cx="211.1" cy="256.4" r="6.6" fill="#646464"/></g><rect x="126" y="167.4" width="106" height="103" filter="url(#nG)" opacity="0.06"/></g><rect x="135.5" y="260.5" width="24.3" height="2.2" fill="#fff"/><text x="148.5" y="258.4" font-size="11.2" fill="#fff" text-anchor="middle">50 nm</text><rect x="234.9" y="147.3" width="108.2" height="20.3" fill="#efefef"/><text x="289" y="164" font-size="11.8" text-anchor="middle" fill="#111">UCNP@g-C<tspan font-size="7.8" dy="2.6">3</tspan><tspan dy="-2.6">N</tspan><tspan font-size="7.8" dy="2.6">4</tspan></text><clipPath id="cb2"><rect x="234.9" y="167.4" width="108.2" height="103"/></clipPath><g clip-path="url(#cb2)"><rect x="234.9" y="167.4" width="108.2" height="103" fill="url(#b3bg)"/><g filter="url(#rough)" fill="#8e8e8e"><circle cx="258.3" cy="172.1" r="9.7"/><circle cx="286.4" cy="173.6" r="9.7"/><circle cx="302.1" cy="173.6" r="8.9"/><circle cx="322.4" cy="176.8" r="8.1"/><circle cx="323.9" cy="186.1" r="6.6"/><circle cx="256" cy="195.5" r="9.7"/><circle cx="274" cy="197.9" r="10.2"/><circle cx="291.1" cy="190.8" r="9.7"/><circle cx="308.3" cy="183.8" r="10.5"/><circle cx="313" cy="193.2" r="8.9"/><circle cx="259.1" cy="210.4" r="8.1"/><circle cx="277.1" cy="217.4" r="10.2"/><circle cx="295" cy="204.9" r="9.7"/><circle cx="296.6" cy="222.1" r="9.7"/><circle cx="313" cy="218.9" r="9.7"/><circle cx="272.4" cy="235.3" r="8.9"/><circle cx="290.4" cy="255.7" r="9.2"/><circle cx="281.8" cy="243.9" r="5.9"/><circle cx="263" cy="242.4" r="3.4"/><circle cx="297.4" cy="265.8" r="2.5"/><circle cx="286.4" cy="208" r="9.4"/><circle cx="281.8" cy="183" r="10.9"/><circle cx="300.5" cy="198.6" r="7.8"/></g><g filter="url(#bl09)"><circle cx="258.3" cy="172.1" r="8.4" fill="#656565" opacity="0.85" stroke="#3b3b3b" stroke-width="1.4" stroke-opacity="0.6"/><circle cx="286.4" cy="173.6" r="8.4" fill="#565656" opacity="0.85" stroke="#323232" stroke-width="1.4" stroke-opacity="0.6"/><circle cx="302.1" cy="173.6" r="7.7" fill="#5a5a5a" opacity="0.85" stroke="#343434" stroke-width="1.4" stroke-opacity="0.6"/><circle cx="322.4" cy="176.8" r="6.9" fill="#676767" opacity="0.85" stroke="#3c3c3c" stroke-width="1.4" stroke-opacity="0.6"/><circle cx="323.9" cy="186.1" r="5.3" fill="#717171" opacity="0.85" stroke="#424242" stroke-width="1.4" stroke-opacity="0.6"/><circle cx="256" cy="195.5" r="8.4" fill="#606060" opacity="0.85" stroke="#383838" stroke-width="1.4" stroke-opacity="0.6"/><circle cx="274" cy="197.9" r="8.9" fill="#494949" opacity="0.85" stroke="#2b2b2b" stroke-width="1.4" stroke-opacity="0.6"/><circle cx="291.1" cy="190.8" r="8.4" fill="#444444" opacity="0.85" stroke="#282828" stroke-width="1.4" stroke-opacity="0.6"/><circle cx="308.3" cy="183.8" r="9.2" fill="#515151" opacity="0.85" stroke="#2f2f2f" stroke-width="1.4" stroke-opacity="0.6"/><circle cx="313" cy="193.2" r="7.7" fill="#494949" opacity="0.85" stroke="#2a2a2a" stroke-width="1.4" stroke-opacity="0.6"/><circle cx="259.1" cy="210.4" r="6.9" fill="#636363" opacity="0.85" stroke="#3a3a3a" stroke-width="1.4" stroke-opacity="0.6"/><circle cx="277.1" cy="217.4" r="8.9" fill="#525252" opacity="0.85" stroke="#303030" stroke-width="1.4" stroke-opacity="0.6"/><circle cx="295" cy="204.9" r="8.4" fill="#565656" opacity="0.85" stroke="#323232" stroke-width="1.4" stroke-opacity="0.6"/><circle cx="296.6" cy="222.1" r="8.4" fill="#5e5e5e" opacity="0.85" stroke="#373737" stroke-width="1.4" stroke-opacity="0.6"/><circle cx="313" cy="218.9" r="8.4" fill="#5e5e5e" opacity="0.85" stroke="#373737" stroke-width="1.4" stroke-opacity="0.6"/><circle cx="272.4" cy="235.3" r="7.7" fill="#525252" opacity="0.85" stroke="#303030" stroke-width="1.4" stroke-opacity="0.6"/><circle cx="290.4" cy="255.7" r="8" fill="#626262" opacity="0.85" stroke="#393939" stroke-width="1.4" stroke-opacity="0.6"/><circle cx="273.2" cy="179.1" r="9.1" fill="#5a5a5a"/><circle cx="273.2" cy="179.1" r="6.9" fill="#141414"/><circle cx="270.8" cy="230.7" r="1.7" fill="#2a2a2a"/></g><rect x="234.9" y="167.4" width="108.2" height="103" filter="url(#nG)" opacity="0.06"/></g><rect x="245.3" y="260.5" width="24.7" height="2.2" fill="#fff"/><text x="259.3" y="258.4" font-size="11.2" fill="#fff" text-anchor="middle">50 nm</text><rect x="346.2" y="147.3" width="105.6" height="20.3" fill="#efefef"/><text x="399" y="164" font-size="11.8" text-anchor="middle" fill="#111">UCNP@g-C<tspan font-size="7.8" dy="2.6">3</tspan><tspan dy="-2.6">N</tspan><tspan font-size="7.8" dy="2.6">4</tspan><tspan dy="-2.6">-Ru</tspan></text><clipPath id="cb3"><rect x="346.2" y="167.4" width="105.6" height="103"/></clipPath><g clip-path="url(#cb3)"><rect x="346.2" y="167.4" width="105.6" height="103" fill="url(#b4bg)"/><g filter="url(#rough)" fill="#8e8e8e"><circle cx="351.7" cy="183" r="8.7"/><circle cx="376.7" cy="172.9" r="8.3"/><circle cx="373.5" cy="186.1" r="8.7"/><circle cx="390.7" cy="178.3" r="8.7"/><circle cx="399.3" cy="190.8" r="9.4"/><circle cx="414.1" cy="183" r="9.1"/><circle cx="421.2" cy="171.3" r="8.3"/><circle cx="443" cy="172.1" r="8.3"/><circle cx="446.2" cy="187.7" r="8.7"/><circle cx="359.5" cy="202.5" r="8.7"/><circle cx="385.3" cy="201.8" r="8.7"/><circle cx="372" cy="208.8" r="8.7"/><circle cx="391.5" cy="212.7" r="8.3"/><circle cx="419.6" cy="204.1" r="9.1"/><circle cx="409.5" cy="217.4" r="9.4"/><circle cx="379.8" cy="222.1" r="9.1"/><circle cx="364.2" cy="225.2" r="8.3"/><circle cx="379.8" cy="233" r="7.5"/><circle cx="397.7" cy="240" r="9.4"/><circle cx="417.3" cy="232.2" r="9.1"/><circle cx="369.6" cy="244.7" r="9.4"/><circle cx="360.3" cy="265.8" r="2.8"/><circle cx="430.5" cy="175.2" r="7.8"/><circle cx="405.6" cy="173.6" r="7.8"/><circle cx="361.8" cy="192.4" r="7.8"/><circle cx="429" cy="206.5" r="3.4"/><circle cx="427.4" cy="229.9" r="3.4"/><circle cx="427.4" cy="237.7" r="3.1"/><circle cx="355.6" cy="222.1" r="3.9"/><circle cx="385.3" cy="242.4" r="4.7"/></g><g filter="url(#bl12)" fill="#cfcfcf"><circle cx="363.4" cy="190.8" r="2.8"/><circle cx="404" cy="203.3" r="3.4"/><circle cx="393.1" cy="223.6" r="4.1"/><circle cx="407.1" cy="205.7" r="2.2"/></g><g filter="url(#bl09)"><circle cx="351.7" cy="183" r="7.3" fill="#4c4c4c" opacity="0.85" stroke="#2a2a2a" stroke-width="1.4" stroke-opacity="0.55"/><circle cx="376.7" cy="172.9" r="6.9" fill="#515151" opacity="0.85" stroke="#2d2d2d" stroke-width="1.4" stroke-opacity="0.55"/><circle cx="373.5" cy="186.1" r="7.3" fill="#5e5e5e" opacity="0.85" stroke="#343434" stroke-width="1.4" stroke-opacity="0.55"/><circle cx="390.7" cy="178.3" r="7.3" fill="#4c4c4c" opacity="0.85" stroke="#2a2a2a" stroke-width="1.4" stroke-opacity="0.55"/><circle cx="399.3" cy="190.8" r="8" fill="#313131" opacity="0.85" stroke="#1b1b1b" stroke-width="1.4" stroke-opacity="0.55"/><circle cx="414.1" cy="183" r="7.7" fill="#4c4c4c" opacity="0.85" stroke="#2a2a2a" stroke-width="1.4" stroke-opacity="0.55"/><circle cx="421.2" cy="171.3" r="6.9" fill="#282828" opacity="0.85" stroke="#161616" stroke-width="1.4" stroke-opacity="0.55"/><circle cx="443" cy="172.1" r="6.9" fill="#161616" opacity="0.85" stroke="#0c0c0c" stroke-width="1.4" stroke-opacity="0.55"/><circle cx="446.2" cy="187.7" r="7.3" fill="#3f3f3f" opacity="0.85" stroke="#232323" stroke-width="1.4" stroke-opacity="0.55"/><circle cx="359.5" cy="202.5" r="7.3" fill="#4c4c4c" opacity="0.85" stroke="#2a2a2a" stroke-width="1.4" stroke-opacity="0.55"/><circle cx="385.3" cy="201.8" r="7.3" fill="#4c4c4c" opacity="0.85" stroke="#2a2a2a" stroke-width="1.4" stroke-opacity="0.55"/><circle cx="372" cy="208.8" r="7.3" fill="#5a5a5a" opacity="0.85" stroke="#323232" stroke-width="1.4" stroke-opacity="0.55"/><circle cx="391.5" cy="212.7" r="6.9" fill="#5e5e5e" opacity="0.85" stroke="#343434" stroke-width="1.4" stroke-opacity="0.55"/><circle cx="419.6" cy="204.1" r="7.7" fill="#515151" opacity="0.85" stroke="#2d2d2d" stroke-width="1.4" stroke-opacity="0.55"/><circle cx="409.5" cy="217.4" r="8" fill="#5a5a5a" opacity="0.85" stroke="#323232" stroke-width="1.4" stroke-opacity="0.55"/><circle cx="379.8" cy="222.1" r="7.7" fill="#3f3f3f" opacity="0.85" stroke="#232323" stroke-width="1.4" stroke-opacity="0.55"/><circle cx="364.2" cy="225.2" r="6.9" fill="#5a5a5a" opacity="0.85" stroke="#323232" stroke-width="1.4" stroke-opacity="0.55"/><circle cx="379.8" cy="233" r="6.1" fill="#4c4c4c" opacity="0.85" stroke="#2a2a2a" stroke-width="1.4" stroke-opacity="0.55"/><circle cx="397.7" cy="240" r="8" fill="#5a5a5a" opacity="0.85" stroke="#323232" stroke-width="1.4" stroke-opacity="0.55"/><circle cx="417.3" cy="232.2" r="7.7" fill="#555555" opacity="0.85" stroke="#2f2f2f" stroke-width="1.4" stroke-opacity="0.55"/><circle cx="369.6" cy="244.7" r="8" fill="#3a3a3a" opacity="0.85" stroke="#202020" stroke-width="1.4" stroke-opacity="0.55"/><circle cx="372.4" cy="225.2" r="1.1" fill="#111"/></g><rect x="346.2" y="167.4" width="105.6" height="103" filter="url(#nG)" opacity="0.06"/></g><rect x="357.2" y="260.5" width="24.6" height="2.2" fill="#fff"/><text x="369.6" y="258.4" font-size="11.2" fill="#fff" text-anchor="middle">50 nm</text></g><g id="pc"><text x="0.1" y="297.3" font-size="16" text-anchor="start" fill="#000" font-weight="bold">c</text><clipPath id="cc1"><rect x="16.1" y="285.1" width="108" height="96.9"/></clipPath><g clip-path="url(#cc1)"><rect x="16.1" y="285.1" width="108" height="96.9" fill="#8a8a8a"/><g filter="url(#bl25)"><circle cx="82.5" cy="309" r="17.5" fill="#656565"/><circle cx="88" cy="310" r="9.5" fill="#555"/><circle cx="72" cy="304" r="8" fill="#646464"/><circle cx="54.5" cy="355.5" r="19.5" fill="#575757"/><circle cx="57" cy="358" r="10" fill="#6c6c6c"/><circle cx="47" cy="350" r="6" fill="#5e5e5e"/><circle cx="62" cy="368" r="6" fill="#606060"/><circle cx="76" cy="384" r="7" fill="#757575"/></g><rect x="16.1" y="285.1" width="108" height="96.9" filter="url(#nC1)" opacity="0.17"/></g><rect x="78.3" y="300.5" width="21.7" height="21.8" fill="none" stroke="#ee1c24" stroke-width="1.3"/><path d="M100.4 300.2L126 285.2M100.4 322.6L125.3 381.5" stroke="#ee1c24" stroke-width="1.2" stroke-dasharray="3.8 1.8" fill="none"/><rect x="25.2" y="374.9" width="28.3" height="2.2" fill="#fff"/><text x="39.5" y="371.4" font-size="11.2" fill="#fff" text-anchor="middle">20 nm</text><clipPath id="cc2"><rect x="126.3" y="285.1" width="107.7" height="96.9"/></clipPath><g clip-path="url(#cc2)"><rect x="126.3" y="285.1" width="107.7" height="96.9" fill="#1c1c1c"/><rect x="126.3" y="285.1" width="107.7" height="96.9" fill="url(#c2l)"/><rect x="126.3" y="285.1" width="107.7" height="96.9" fill="url(#fr)" opacity="0.3" mask="url(#frmask)"/><rect x="126.3" y="285.1" width="107.7" height="96.9" fill="url(#fr2)" opacity="0.2" mask="url(#frmask)"/><rect x="126.3" y="285.1" width="107.7" height="96.9" filter="url(#nC2)" opacity="0.17"/><rect x="126.3" y="285.1" width="107.7" height="96.9" filter="url(#nC3)" opacity="0.14"/></g><path d="M158.7 318.5L183.7 335.4M160.0 316.6L185.0 333.5" stroke="#fff" stroke-width="1.3" fill="none"/><path d="M178.8 318.5L175.6 322.0M165.2 336.3L168.6 332.2" stroke="#fff" stroke-width="1.1" fill="none"/><path d="M172.9 325.0L174.0 319.4L178.4 323.4zM171.4 328.9L170.4 334.5L166.0 330.7z" fill="#fff"/><text x="198.7" y="352.2" font-size="12" fill="#fff" text-anchor="middle">0.343 nm</text><rect x="134.7" y="374.9" width="35" height="2.2" fill="#fff"/><text x="152.4" y="371.4" font-size="11.2" fill="#fff" text-anchor="middle">5 nm</text><clipPath id="cc3"><rect x="236.2" y="285.1" width="106.8" height="96.9"/></clipPath><g clip-path="url(#cc3)"><rect x="236.2" y="285.1" width="106.8" height="96.9" fill="url(#haadf)"/><g filter="url(#wisp)" fill="#909090" opacity="0.45"><circle cx="285.8" cy="303.1" r="10.5"/><circle cx="301.2" cy="312.9" r="10.5"/><circle cx="283.4" cy="320.9" r="10.5"/><circle cx="299.6" cy="329.5" r="10.5"/><circle cx="294.1" cy="354.8" r="10.5"/><circle cx="279.1" cy="361.2" r="10.5"/><circle cx="298.2" cy="341.1" r="5"/><circle cx="302.2" cy="371.1" r="6"/><circle cx="276.2" cy="351.1" r="4"/><circle cx="309.2" cy="321.1" r="4"/><circle cx="274.2" cy="315.1" r="4"/><circle cx="294.2" cy="369.1" r="5"/><circle cx="311.2" cy="369.1" r="3"/></g><g filter="url(#bl07)"><circle cx="285.8" cy="303.1" r="8.2" fill="#e2e2e2"/><circle cx="286.2" cy="303.5" r="6.4" fill="#d0d0d0"/><circle cx="285.2" cy="303.6" r="4.4" fill="#e6e6e6"/><circle cx="301.2" cy="312.9" r="8.2" fill="#e2e2e2"/><circle cx="301.6" cy="313.3" r="6.4" fill="#d0d0d0"/><circle cx="300.6" cy="313.4" r="4.4" fill="#e6e6e6"/><circle cx="283.4" cy="320.9" r="8.2" fill="#e2e2e2"/><circle cx="283.8" cy="321.3" r="6.4" fill="#d0d0d0"/><circle cx="282.8" cy="321.4" r="4.4" fill="#e6e6e6"/><circle cx="299.6" cy="329.5" r="8.2" fill="#e2e2e2"/><circle cx="300" cy="329.9" r="6.4" fill="#d0d0d0"/><circle cx="299" cy="330" r="4.4" fill="#e6e6e6"/><circle cx="294.1" cy="354.8" r="8.2" fill="#e2e2e2"/><circle cx="294.5" cy="355.2" r="6.4" fill="#d0d0d0"/><circle cx="293.5" cy="355.3" r="4.4" fill="#e6e6e6"/><circle cx="279.1" cy="361.2" r="8.2" fill="#e2e2e2"/><circle cx="279.5" cy="361.6" r="6.4" fill="#d0d0d0"/><circle cx="278.5" cy="361.7" r="4.4" fill="#e6e6e6"/></g><rect x="236.2" y="285.1" width="106.8" height="96.9" filter="url(#nC1)" opacity="0.06"/></g><rect x="247.2" y="374.9" width="25.5" height="2.2" fill="#fff"/><text x="260.5" y="371.4" font-size="11.2" fill="#fff" text-anchor="middle">50 nm</text><clipPath id="cc4"><rect x="345.3" y="285.1" width="106.7" height="96.9"/></clipPath><rect x="345.3" y="285.1" width="106.7" height="96.9" fill="#04061e"/><g clip-path="url(#cc4)"><g filter="url(#bl25)" fill="#1c34b0" opacity="0.6"><circle cx="394.9" cy="303.1" r="8"/><circle cx="410.3" cy="312.9" r="8"/><circle cx="392.5" cy="320.9" r="8"/><circle cx="408.7" cy="329.5" r="8"/><circle cx="403.2" cy="354.8" r="8"/><circle cx="388.2" cy="361.2" r="8"/></g></g><g clip-path="url(#cc4)"><g filter="url(#dF)"><rect x="345.3" y="285.1" width="106.7" height="96.9" fill="#fff" fill-opacity="0"/><g filter="url(#bl12)" fill="#fff" fill-opacity="1.00"><circle cx="394.9" cy="303.1" r="8"/><circle cx="410.3" cy="312.9" r="8"/><circle cx="392.5" cy="320.9" r="8"/><circle cx="408.7" cy="329.5" r="8"/><circle cx="403.2" cy="354.8" r="8"/><circle cx="388.2" cy="361.2" r="8"/></g></g></g><g clip-path="url(#cc4)"><g filter="url(#dF2)"><rect x="345.3" y="285.1" width="106.7" height="96.9" fill="#fff" fill-opacity="0"/><g filter="url(#bl12)" fill="#fff" fill-opacity="1.00"><circle cx="394.9" cy="303.1" r="8"/><circle cx="410.3" cy="312.9" r="8"/><circle cx="392.5" cy="320.9" r="8"/><circle cx="408.7" cy="329.5" r="8"/><circle cx="403.2" cy="354.8" r="8"/><circle cx="388.2" cy="361.2" r="8"/></g></g></g><rect x="346.1" y="286.1" width="6.6" height="5.8" fill="#2a48f5"/><text x="349.4" y="290.3" font-size="3.6" fill="#fff" text-anchor="middle" font-weight="bold">F</text><rect x="356.2" y="374.9" width="26" height="2.2" fill="#fff"/><text x="370.4" y="371.4" font-size="11.2" fill="#fff" text-anchor="middle">50 nm</text><clipPath id="cc5"><rect x="16.1" y="384.1" width="107.7" height="96.5"/></clipPath><rect x="16.1" y="384.1" width="107.7" height="96.5" fill="#000"/><g clip-path="url(#cc5)"><g filter="url(#bl25)" fill="#7a1480" opacity="0.55"><circle cx="65.7" cy="402.1" r="6.8"/><circle cx="81.1" cy="411.9" r="6.8"/><circle cx="63.3" cy="419.9" r="6.8"/><circle cx="79.5" cy="428.5" r="6.8"/><circle cx="74" cy="453.8" r="6.8"/><circle cx="59" cy="460.2" r="6.8"/></g></g><g clip-path="url(#cc5)"><g filter="url(#dY)"><rect x="16.1" y="384.1" width="107.7" height="96.5" fill="#fff" fill-opacity="0"/><g filter="url(#bl12)" fill="#fff" fill-opacity="1.00"><circle cx="65.7" cy="402.1" r="6.8"/><circle cx="81.1" cy="411.9" r="6.8"/><circle cx="63.3" cy="419.9" r="6.8"/><circle cx="79.5" cy="428.5" r="6.8"/><circle cx="74" cy="453.8" r="6.8"/><circle cx="59" cy="460.2" r="6.8"/></g></g></g><g clip-path="url(#cc5)"><g filter="url(#dY2)"><rect x="16.1" y="384.1" width="107.7" height="96.5" fill="#fff" fill-opacity="0"/><g filter="url(#bl12)" fill="#fff" fill-opacity="1.00"><circle cx="65.7" cy="402.1" r="6.8"/><circle cx="81.1" cy="411.9" r="6.8"/><circle cx="63.3" cy="419.9" r="6.8"/><circle cx="79.5" cy="428.5" r="6.8"/><circle cx="74" cy="453.8" r="6.8"/><circle cx="59" cy="460.2" r="6.8"/></g></g></g><rect x="16.9" y="385.1" width="6.6" height="5.8" fill="#f21ae0"/><text x="20.2" y="389.3" font-size="3.6" fill="#fff" text-anchor="middle" font-weight="bold">Y</text><rect x="25.7" y="471.2" width="25.8" height="2.2" fill="#fff"/><text x="38.3" y="468" font-size="11.2" fill="#fff" text-anchor="middle">50 nm</text><clipPath id="cc6"><rect x="125.9" y="384.1" width="108.1" height="96.5"/></clipPath><rect x="125.9" y="384.1" width="108.1" height="96.5" fill="#000"/><g clip-path="url(#cc6)"><g filter="url(#bl25)" fill="#14508c" opacity="0.3"><circle cx="175.5" cy="402.1" r="7.5"/><circle cx="190.9" cy="411.9" r="7.5"/><circle cx="173.1" cy="419.9" r="7.5"/><circle cx="189.3" cy="428.5" r="7.5"/><circle cx="183.8" cy="453.8" r="7.5"/><circle cx="168.8" cy="460.2" r="7.5"/></g></g><g clip-path="url(#cc6)"><g filter="url(#dTm)"><rect x="125.9" y="384.1" width="108.1" height="96.5" fill="#fff" fill-opacity="0"/><g filter="url(#bl12)" fill="#fff" fill-opacity="1.00"><circle cx="175.5" cy="402.1" r="7.5"/><circle cx="190.9" cy="411.9" r="7.5"/><circle cx="173.1" cy="419.9" r="7.5"/><circle cx="189.3" cy="428.5" r="7.5"/><circle cx="183.8" cy="453.8" r="7.5"/><circle cx="168.8" cy="460.2" r="7.5"/></g></g></g><g clip-path="url(#cc6)"><g filter="url(#dTm2)"><rect x="125.9" y="384.1" width="108.1" height="96.5" fill="#fff" fill-opacity="0"/><g filter="url(#bl12)" fill="#fff" fill-opacity="1.00"><circle cx="175.5" cy="402.1" r="7.5"/><circle cx="190.9" cy="411.9" r="7.5"/><circle cx="173.1" cy="419.9" r="7.5"/><circle cx="189.3" cy="428.5" r="7.5"/><circle cx="183.8" cy="453.8" r="7.5"/><circle cx="168.8" cy="460.2" r="7.5"/></g></g></g><rect x="126.7" y="385.1" width="8" height="5.8" fill="#1e90ff"/><text x="130.7" y="389.3" font-size="3.6" fill="#fff" text-anchor="middle" font-weight="bold">Tm</text><rect x="137.2" y="471.2" width="25.8" height="2.2" fill="#fff"/><text x="149.8" y="468" font-size="11.2" fill="#fff" text-anchor="middle">50 nm</text><clipPath id="cc7"><rect x="236.2" y="384.1" width="106.7" height="96.5"/></clipPath><rect x="236.2" y="384.1" width="106.7" height="96.5" fill="#000"/><g clip-path="url(#cc7)"><g filter="url(#dN)"><rect x="236.2" y="384.1" width="106.7" height="96.5" fill="#fff" fill-opacity="0"/><g filter="url(#bl12)" fill="#fff" fill-opacity="1.00"><circle cx="285.8" cy="402.1" r="13"/><circle cx="301.2" cy="411.9" r="13"/><circle cx="283.4" cy="419.9" r="13"/><circle cx="299.6" cy="428.5" r="13"/><circle cx="294.1" cy="453.8" r="13"/><circle cx="279.1" cy="460.2" r="13"/></g></g></g><g clip-path="url(#cc7)"><g filter="url(#dN2)"><rect x="236.2" y="384.1" width="106.7" height="96.5" fill="#fff" fill-opacity="0"/><g filter="url(#bl12)" fill="#fff" fill-opacity="1.00"><circle cx="285.8" cy="402.1" r="13"/><circle cx="301.2" cy="411.9" r="13"/><circle cx="283.4" cy="419.9" r="13"/><circle cx="299.6" cy="428.5" r="13"/><circle cx="294.1" cy="453.8" r="13"/><circle cx="279.1" cy="460.2" r="13"/></g></g></g><rect x="237" y="385.1" width="6.6" height="5.8" fill="#8a2be2"/><text x="240.3" y="389.3" font-size="3.6" fill="#fff" text-anchor="middle" font-weight="bold">N</text><rect x="246.9" y="471.2" width="25" height="2.2" fill="#fff"/><text x="259.4" y="468" font-size="11.2" fill="#fff" text-anchor="middle">50 nm</text><clipPath id="cc8"><rect x="345" y="384.1" width="106.7" height="96.5"/></clipPath><rect x="345" y="384.1" width="106.7" height="96.5" fill="#000"/><g clip-path="url(#cc8)"><g filter="url(#dRu)"><rect x="345" y="384.1" width="106.7" height="96.5" fill="#fff" fill-opacity="0"/></g></g><g clip-path="url(#cc8)"><g filter="url(#dRu2)"><rect x="345" y="384.1" width="106.7" height="96.5" fill="#fff" fill-opacity="0"/></g></g><rect x="345.8" y="385.1" width="7.6" height="5.8" fill="#ff2a8a"/><text x="349.6" y="389.3" font-size="3.6" fill="#fff" text-anchor="middle" font-weight="bold">Ru</text><rect x="353.2" y="471.2" width="25.1" height="2.2" fill="#fff"/><text x="365.8" y="468" font-size="11.2" fill="#fff" text-anchor="middle">50 nm</text></g><g id="pd"><text x="459.6" y="157.2" font-size="16" text-anchor="start" fill="#000" font-weight="bold">d</text><path d="M494.1 170.1l.5 .1 .3-.1 .9 .3 .6 0 .5 .2 1 0 .2 .2 .2-.1 .1 .1 .2-.2 .1 .2 .2-.2 .3 .2 .4-.2 .5 .4 1-.2 1.3 .2 .2-.1 .1 .1 .7-.1 .7 .3 .8-.2 .7 .2 1.1-.1 .4 .1 .6-.2 .5 .3 .3-.2 .2 .1 1.7-.1 1 .2 .8-.1 .2 .1 .3-.2 .7 .2 .1-.1 .7 .1 .3-.2 .7 .1 .3-.2 .2 .2 .3-.1 .3 .1 .5-.1 1.2-.6 .5-1.1 .7-5.9 .1 .5 .4 4 .3 1.7 .3 .7 .5 .5 .2-.1 .7 .3 .5-.1 .5 .3 .5-.1 .1 .2 .5-.3 .4 .2 1-.1 .1 .1 .2-.2 .5 .2 1.1-.1 .7 .2 .5-.2 .2 .2 .1-.2 .4 .2 .1-.2 .5 0 .4 .1 .1-.2 .2 .2 .7-.1 .6 .2 .4-.2 .1 .1 .2 0 .3 .1 .5-.2 1.5 .2 .2-.3 .1 .2 .4-.1 .5 .2 .5-.2 .1 .1 .2-.1 2.2 .1 .3-.2 .3 .2 .4-.1 .1 .1 .2-.2 .5 .1 .3-.1 .2 .2 .2-.2 .3 .2 .3-.4 .2 .4 .3-.2 .2 .1 .2-.2 .1 .1 .8-.3 .7-.5 .5-1.3 .3-2.3 .5-9 .5 7 .4 2.1 .1-.4 .4-3.1 .3-6.3 .7 10.3 .5 2.4 .3 .6 .3 .1 .2 .3 1 .4 .2-.2 1 .3 .9-.1 1 .1 .2-.1 .3 .1 .4-.2 .3 .1 .7-.6 .3-.7 .7 1 .3 .3 .5-.1 .2 .2 .3-.2 .3 .2 .4-.2 .5 .2 .1-.1 .4 .2 1.4 0 .4-.1 .6 .1 .2-.2 .5 .2 1.7-.2 .1-.2 .5-.1 .5-1 .5-2.9 .2 0 .5 2.9 .5 .9 1.3 .5 .2-.2 1 0 .2 .2 .4-.2 .9 0 .8-.4 .7-.8 .5-2.1 .3-3.6 .5-11.7 .5 11.6 .5 4.8 .7 1.5 .5 .2 .1 .3 .7 .1 .2-.1 .5 .3 .5-.1 .9 0 .4-.3 .5-1 .1-.7 .2 0 .5 1.4 .5 .6 .7 0 .3 .2 .2-.2 .6 .3 .7-.2 .2 .2 .5-.1 .1 .1 .5-.2 1.2 .1 .2-.1 .3 .2 .2-.2 .1 .2 .2-.2 .2 .1 .4-.1 .5 .1 .4-.2 .6 .1 .5-.3 .4 .1 .8-.9 .7-2.1 .1-.2 .5 1.4 .5 .1 .4-1 .6-5.5 .5 3.3 .2 .3 .2-.5 .6-9.2 .2 .7 .5 8.7 .3 2.3 .3 1.1 .5 .7 .5 0 .4-.4 .3-1 .2 .1 .3 1.1 .5 .7 .5 .4 .2-.1 .8 .3 .5-.2 .2 .2 .5-.1 .1 .2 .4-.3 .6 .2 .2-.1 .5 .1 .2-.1 1.9 .2 .4-.2 .5 .1 1.3-.2 .2 .1 .5-.3 .1 .2 .4-.5 .5-.1 .8-2 1 1.8 .2-.1 .1 .1 .5-.5 .4-.6 .3-.1 .3 .9 .5 .7 .8 .4 .9 0 .6-.3 .5-.6 .2 0 .2 .1 .1 .4 1.4 .6 .1-.3 .2 .3 .3 0 1-.1 .4 .1 .8-.1 .2 .2 1.6-.1 .2 .1 .1-.2 .5 .2 1.4-.2 .1 .2 1-.2 .4 .2 .6-.2 .4 .1 1.1-.4 .2 .1 .8-.6 .9-1.8 .1 .1 1.2 1.9 .6 .2 .9-.8 .3 0 .2 0 .5 .7 .8 .4 .3-.1 .2 .3 .8-.1 .4 .1 .6-.1 .5 .2 .9-.3 .5 .3 .8-.1 .2-.1 .1 .1 .3-.2 .7 .2 1.5-.5 .7-.8 .6-1.6 1.2 2.1 .5 .4 1 .3 1.5 .2 .3-.2 1.3 .1 1.5 0 .2 .1 .3-.2 .5 .1 1.2-.1 .2 .2 .1-.2 1.4 .1 .5-.1 .6 .2 .2-.3 .5 .1 .8-.2 .2 .3 .5-.5 .5 .2 .1-.2 .2 0 1.2-.6 1.6-2.8 .4 .1 .5 1 .8 .7 .8-.6 1.4 1.8 .5 .2 .1 .3 .5-.1 .3 .4 .2-.1 .2 0 .1-.2 .5 .3 .2-.1 .3 .1 1-.1 1 .3 .5-.3 .4 .2 .6-.2 .9 0 1-.6 .1-.4 .7 0 .2 .3 .6 .5 .3 0 .2 .3 .2-.2 .1 .2 .2-.1 1 .3 .5-.1 .5 .1 1.2-.1 .3 .3" fill="none" stroke="#e0681c" stroke-width="1.1" stroke-linejoin="round"/><path d="M494.1 198.8l1.3 .3 .5-.1 .2 .1 .8 0 .2 .2 .2-.2 .3 .2 .3-.2 .2 .2 1.6 0 .9 .2 .1 .1 .2-.1 .3-.1 .2 .1 .3-.1 1 .3 .2-.3 .5 .1 .2 .2 .5-.1 .3 .1 .2-.2 .1 .2 .4-.1 1 .1 .3-.2 .2 .2 .3-.2 .5 .3 1.6-.2 .2 .3 .2-.2 .8 0 .2-.1 .3 .2 .5-.1 .7 .1 .3-.1 .7 .1 .3-.2 1.5 .1 .2-.1 .3 .2 .5-.2 .5 .1 .5-.2 .1 .1 .2-.2 .2 .1 .8-.6 .5-1.2 .7-6 .1 .6 .5 5.2 .4 1.1 .3 .5 .5 .4 .8 .1 .2 .2 .2-.3 .6 .3 .5-.1 .2 .1 .2-.1 .5 .1 .6-.2 .4 .3 .1-.2 .3 .2 .2-.2 .3 .1 .2-.1 .2 .2 .6-.2 .2 .3 .8-.3 1.9 .2 .3-.2 .7 .1 .1-.2 .9 .2 .1 .1 .4-.2 .1 .1 .2-.1 1.5 .1 .1-.1 .2 .1 .3-.1 .7 .2 .3-.2 1.2 .1 .8-.1 .2 .1 1-.1 .5 0 .2 .1 .3-.2 .2 .1 .1-.1 .5 .1 .4-.1 .1 .1 1.5-.2 1-.4 .3-.3 .5-.9 .4-1.4 .6-11 .5 7.4 .2 1.5 .2 .6 .1-.2 .4-3.4 .3-6.8 .7 10.9 .3 2.2 .8 1.4 .9 .4 1.1 0 .4 .2 .6-.2 .5 .3 .3-.2 .9 .1 .8-.2 .2 0 .8-1.3 .5 .9 .7 .6 1.5-.1 .1 .2 .4-.2 1 .1 .1 .2 .2-.2 .5-.1 .5 .2 .1-.1 .9 0 .1-.2 .2 .2 1.5-.2 .3 .1 .4-.4 .3-.1 .5-1.6 .3-2.2 .2-.1 .5 3 .2 .6 .3 .5 .5 .2 .3-.1 .5 .3 .7-.2 .2 .1 .5-.2 .1 .2 .3-.2 .2 .3 .2-.3 .1 .2 .5-.3 .2 .1 .8-.7 .5-.9 .2-.7 .5-5 .5-12 .5 12.1 .3 3.9 .2 1 .5 1.4 .3 .4 1 .6 .5-.1 .2 .1 .2-.1 .3 .2 .2-.2 .1 .2 .2-.2 .2 .1 .3-.2 .3 .1 .5-.8 .3-1.3 .2 .1 .5 1.5 .3 .5 .5 .2 .2-.1 .8 .1 .7 .2 .5-.2 .2 .1 .1-.1 .2 .2 1.3-.2 .4 .2 .1-.3 1.4 .2 .1-.1 .3 .1 .4-.2 .6 .2 .2-.2 .3 0 .2-.2 .3 .2 .4-.3 .1 .1 .2-.1 .7-1.1 .5-1.9 .1-.1 .2 .3 .5 1.3 .3-.2 .5-2.1 .5-4.7 .5 3.5 .2 .2 .2-.4 .6-9.5 .2 .6 .5 9.1 .5 3.2 .6 1.2 .5 0 .4-.5 .3-1 .2 .1 .6 1.8 .4 .3 .6 .1 .2 .2 .3-.1 .9 .2 .3-.2 1.5 .3 .3-.2 .4 .1 1.8-.1 .3 .1 .3-.1 .2 .1 .2-.1 .8 .2 .8-.4 .2 .1 .3-.3 .2 .1 .5-.3 1-2.1 .2 0 .5 1.2 .3 .4 .7-.1 .5-1.1 .3 .2 .3 .8 .7 .9 1 .3 1-.2 .6-.7 1.2 .8 .5 .2 .2-.1 .1 .2 .4-.1 .1 .4 .5-.4 .5 .1 .9 0 .3 .1 .2-.2 .3 .3 .2-.1 .8 0 .2-.2 .1 .2 .8-.2 .9 .2 .8-.1 .2-.2 .3 .3 .5-.2 .5 .2 .8-.4 .4 .2 .1-.2 .2 .1 1-.4 1.3-2.2 .9 1.6 .3 .4 .5 .2 .3-.2 .2 .1 .6-.6 1.5 1.1 1.4 .2 .3-.2 .7 .2 .1-.2 .5 .3 .2-.2 .3 .1 .4-.2 .1 .2 .5 0 .5-.2 .4 .2 .3-.2 .8 .1 .5-.2 .2 .1 .8-.4 .5-.5 .5-1.4 .5-.5 1 2.2 1.3 .8 .5-.2 .4 .2 .3-.1 .3 .2 .2-.2 1.3 .1 .3-.1 .2 .2 .2-.2 .1 .2 .7-.2 .2 .1 .1-.1 .2 .2 .3-.2 .2 .1 .2 0 .1-.2 .5 .2 .4-.1 .1 .2 1.2-.2 .8 .1 .4-.2 .1 .2 .5-.2 .2 .1 1-.2 .5 .2 .6-.3 .4 .1 1.5-.8 1.3-2.5 .2-.3 .3-.1 1.2 1.6 .3 .1 .8-.7 1 1.7 1 .8 .5 0 .2 .2 1.8 .2 .8-.1 .5 .2 .2-.2 .3 .2 .9 0 .3-.3 .7 .2 .5-.3 .1 .1 .2-.2 .2 .1 .8-.9 .3 0 .7 .8 .2-.1 .8 .5 .3-.1 .2 .1 .1-.1 .2 .2 .3-.2 .5 .3 .7-.2 .2 .3 .1-.2 .4 .1 .1-.1 .7 .1" fill="none" stroke="#1ea27c" stroke-width="1.1" stroke-linejoin="round"/><path d="M494.1 223.7l.8-.3 .2 .3 .3-.1 .4 .1 .1-.2 .2 .2 1-.1 .2 .2 .5-.2 .3 .2 .5-.1 .1 .2 .2-.4 .8 .4 .4-.3 .6 .3 .7-.3 .2 .2 .3 .1 .2-.2 .1 .1 .5-.1 .5 .1 .2-.2 .2 .2 .1-.3 .2 .2 .2-.1 1.3-.2 .7-.3 .3 0 1.6-.8 .2 .1 .8-.5 .2 .2 .7-.5 1.6 .1 .2 .2 .2-.2 1 .5 .1-.1 .4 .3 .8 .2 .3 .3 .5 .1 .2 .2 .2-.2 .3 .4 .5-.2 .1 .3 .2-.2 .3 .3 .9 0 .8 .2 .3-.2 .9 .2 .1-.1 .4 .1 .3-.3 .3 0 .4 .3 .1-.2 .2 .2 .2-.2 .5-.1 .3 .1 .2-.1 .6 .1 .2-.2 .2 .2 .5-.2 .1 .1 .4-.1 .5 .1 .3-.2 .5 .1 .3-.2 .2 .2 .1-.2 .2 .2 .2-.3 .3 .2 .5 0 .2-.3 .3 .1 .5-.2 .5 .1 .2-.2 .3 .2 .5-.2 .2 0 .6-.3 .4 .2 .5-.3 .1 .1 .2-.2 .3 0 .4-.2 1.3-.5 .8-.7 1.5-2.2 1.7-5.3 1.5-5.8 .3-.9 .5-.3 .2 .1 .6 1.1 2 7.7 1 3 .8 1.6 .7 .9 1.3 1.1 .7 .4 .3-.2 .2 .3 .2-.1 .5 .4 .6 .1 .2-.1 .2 .3 .1-.2 .4 .1 .1 .3 .2-.3 .2 .2 .1-.1 .2 .2 .5 0 .5 .2 .6-.1 .4 .1 2.3 .2 .2 .3 .5-.3 .3 .4 .3-.2 .4 .3 .1-.2 .9-.1 .1 .2 1 0 .7 .3 .2-.2 .1 .2 .2-.1 .3 0 .3 .3 .2-.2 .3 0 .2 .2 .2-.4 .6 .4 .4-.2 .1 .2 .4-.3 .1 .2 1.9 .3 .1-.2 .4 .2 .1-.1 .9 .2 .3-.3 .2 .2 .3 0 .3 .2 .2-.1 .3 .2 .2-.2 .7 .2 .3-.2 .1 .3 1-.1 .4 .2 .1-.2 .5 .1 .2-.1 .8 .3 .5-.2 .5 .2 .4-.1 .5 .2 .3-.2 .2 .1 .8-.2 .2 .2 .5-.1 .1 .1 .2-.1 .3 .2 .2-.3 .2 .3 .6-.2 .2 .2 .3-.2 .5 .1 .2-.1 .3 .1 .5-.2 .3 .2 .7-.1 .2 .2 .3-.2 .2 .2 .1-.3 .2 .2 .5-.1 .2-.2 .1 .3 .2-.2 .5 .2 .5-.2 .3 .2 .2-.2 .3 0 .2 .2 .2-.2 .6-.1 .5 .3 .2-.2 .2 .2 .3-.2 .5 .1 .5-.1 .1 .1 .7-.2 .2 .1 .1-.1 .4 0 .3 .3 .5-.3 .2 .2 .8 0 1.5-.2 .7 .2 1.1-.1 1 .2 1-.1 .2 .1 .5-.3 .1 .3 .2-.2 .3 .2 .7 0 .2-.1 .1 .1 .4-.2 .1 .2 .5 0 .5-.2 .7 .3 .3-.3 .9 .3 .3-.3 .3 .2 .2-.2 .8 .3 .2-.3 .3 .3 .2-.2 .3 0 .2 .2 .1-.2 .2 .2 .8 .1 .5-.2 .2 .1 .7-.1 .5 .1 .6-.2 1 .3 .2-.2 .2 .1 .1-.3 .2 .2 .5 .1 .2-.1 .1 .2 .4-.2 .6 .2 .2-.3 .5 .3 .5-.2 1.5 .2 .5-.1 .1-.2 .2 .2 1 0 .3 0 .2 .2 .3-.3 .5 .3 .2-.2 1.3 .1 .5-.2 .4 .3 .1-.3 .2 .3 .5-.2 .7 .3 .1-.3 1.2 .1 .3 .2 .2-.3 .3 .1 .2-.1 .1 .3 .2-.2 .8 .1 .2-.1 .2 .2 .8-.2 .2 .2 .3-.2 .3 0 .2-.1 .2 .3 .5 0 .3-.2 .3 .2 .7-.2 .5 .3 .2-.3 .5 0 .1 .2 .2-.1 .3 .1 .5-.1 .3 .2 .4-.2 .5-.1 .1 .2 .2-.2 .7 .3 .3-.1 .2-.1 .1 .1 .7-.2 .7 .3 .3-.2 .5 .1 .2-.1 .8 .2 .2-.2 .1 .1 .4-.1 .1 .2 .5-.2 .2 .3 .2-.2 .1 .1 .7-.2 .3 .2 .2-.2 .8 .2 .3-.1 .7 .2 .8-.2 .2 .2 .2-.3 .3 .1 .2 .3 .1-.2 .4 .1 .1-.2 .2 .2 .2-.2 .6 .2 .2-.2 .3 .2 .5-.2 .4 .3 .3-.4 .3 .3 .2-.3 .3 .3 .2-.1 .2 .1 .1-.1 .3 .2 .5-.3 .4 .2 .8-.1 .7 .1 .6-.2 .2 .3 .3 0 .2-.3 .3 .3 .7-.2 .5 .1 .2 .2 .3-.3 .5 .2 .7-.2 .3 .2 1-.1 .2 .1 .1-.2 1 .2 .2-.1 .3 0 .2 .2 .5-.2 1.1 .1 .4-.1 .3 .2 .7-.2 .1 .2 .2-.2 .3 0 .5 .1 .2 .2 .2-.3 .1 .2 .2-.2 .3 .2 .9-.2 .1 .2 .2-.2 .3 .2 .4-.2 .1 .2 .7-.2 .1 .2 .4-.1 .1 .2 .2-.2 .2 .1 .1-.1 .7 0 .3 .3 .7-.3 .3 .2 .2-.3 .7 .3 .5-.2 1.1 .1 .2 .1 .2-.2 .3 .2 1-.2 .5 .2 1-.2 .1 .2 .4-.3 .8 .3 .8-.2 .5 .2 .2-.2 .2 .2 .1-.1 .4 .2 .1-.1 .7 0" fill="none" stroke="#f0a51e" stroke-width="1.1" stroke-linejoin="round"/><path d="M494.1 243.4l.2 0 .1 .2 1.4 .2 .1 .2 .2 0 .3 .2 .2-.1 1.2 .2 .6 .3 .7-.1 .5 .3 .3 0 .2 .1 1.6 .1 .9 .3 .5-.2 .1 .3 .4-.1 .6 .2 .2-.2 .3 .3 .2-.2 2 .2 .2-.1 .8 .3 1-.3 .5 .2 .1-.1 .4 .2 .1-.2 .9 .2 .1-.2 .4 .2 .1-.2 .5 .1 .5-.3 .2 .2 .5-.1 .2 .1 .6-.3 .7 0 .2 .1 .3-.2 .5 .1 .6-.3 .7 .1 .2-.2 1 0 3.3-1.1 .5 .1 .3-.3 1.9-.4 1.3-.5 .1 .2 1-.4 .2 .1 .7-.2 1.5-.1 .1 .1 .2-.2 .3 .2 .9-.2 .6 .3 .5-.1 1.2 .3 .2-.1 .3 .2 .3-.1 .4 .2 .1-.2 .2 .3 2.5 .7 .5 0 2.1 .8 .5 0 .2 .2 .8 .2 .2 .2 .2-.2 .5 .3 1.4 .4 .5 0 .2 .2 1.2-.1 .6 .4 .4-.1 .3 .2 .3-.1 .4 .2 .5 0 .8 .2 .2-.2 1 .3 .5-.1 1.5 .2 .4-.1 1 .2 .2-.1 .3 .2 .7-.2 .2 .2 .1-.2 .2 .1 .3-.1 .4 .1 .8 0 .3 .2 .9-.2 .5 .1 .5-.1 1.1 .1 .2-.1 1 .2 .3-.1 .3 .1 .2-.2 .2 .1 1.3-.1 1.3 .2 .4-.2 .5 .1 1.3 .1 .2-.1 .3 .1 .5-.1 .2 .1 .8-.1 .3 .1 .4-.1 .9 .2 1.2-.1 .2 .1 .1-.2 .4 .3 .6-.2 .4 .1 1.1-.1 .7 .2 .2-.2 .5 .1 .1-.2 .7 .2 .2-.1 1.3 .2 .3-.3 .2 .2 1.3-.1 .5 .1 1.7-.1 .1 .2 .7-.2 3 .2 1 0 .2-.2 .3 .2 .6-.2 .2 .2 .2-.1 .3 .1 1-.1 .8 .1 .4-.1 .1 .3 .2-.3 .3 0 .2 .2 .5-.2 1.7 .1 .1-.1 1.5 .2 1-.2 .2 .2 .3-.2 .3 .2 .2-.2 .2 .2 .6-.1 .4 .2 .3-.2 .2 .2 .1-.2 .5 .3 .2-.3 .3 0 .2 .1 .8-.1 1.5 .2 .2-.1 .2 .1 .1-.1 .4 .1 .3-.2 .5 .2 .5-.1 .2 .1 .1-.2 1.5 .2 .2-.1 2.5 .1 1.3-.1 .7 .1 .8-.2 .2 .2 .6-.1 .2 .1 .2-.1 .8 .2 2.5-.2 .3 .2 .7-.2 .6 .2 .2-.2 .7 .2 1.6-.1 .2 .1 .3-.1 .7 .2 .3-.2 .4 0 .1 .2 .7-.2 .8 .2 .5-.2 .5 .2 .7-.2 1.5 .2 .3-.2 .7 .2 1-.2 .5 .3 .5-.2 .3 .2 .3-.2 .4 0 .1 .1 .7-.2 .5 .2 1.8-.1 .3 .1 .9-.1 .1 .1 1.2 0 .2 .1 .3-.2 .2 .2 .5-.2 .3 .1 .3-.1 .4 .2 .3-.1 1.3 .1 .7 0 .1-.2 .5 .3 1-.2 2.4 .1 .3-.2 .3 .3 .5-.2 .2 .1 .2-.2 .6 .3 .2-.2 .8 0 .5 .2 1.2-.2 .3 .2 .2-.1 .8 .1 .5-.2 1.7 .2 .1-.1 .4 .2 .8-.1 .2-.2 .3 .2 .8-.1 .2 .1 .2-.1 .1 .1 1.5 0 .4-.1 .1 .2 .3-.2 .4 .2 .3-.1 .7 .1 .1-.2 .4 .1 .1-.1 .2 .1 .3-.1 .2 .2 1-.1 .3 .1 1-.1 .2 .1 .2-.2 .1 .2 .2-.2 .5 .2 .8-.1 .2 .2 .7-.2 .3 .1 .8-.1 .3 .2 3.2-.1 .2 .2 .1-.3 .4 .3 .6-.3 1 .2 1.4-.1 .1 .1 .4-.1 .3 .1 1 0 1.1-.1 .9 .1 .1-.1 1.2 .3 .5-.2" fill="none" stroke="#4aa8ee" stroke-width="1.1" stroke-linejoin="round"/><path d="M494.1 266.9l1.5 .2 .2 .2 .3-.2 1 .4 .8-.1 .8 .3 .4-.2 .5 .2 1.6 0 .2 .2 .5 0 .3-.1 1.2 .2 .7-.1 .1 .1 .2-.2 .3 .2 .4-.1 .1 .1 1.2 .1 .2-.2 .5 .2 .9-.1 .4 .2 .8-.2 .7 .2 .3-.2 .8 .1 .4 .2 .1-.3 .7 .2 .2-.1 1 .1 .5-.2 .6 .2 .5-.2 .4 .2 .1-.2 .8 0 .5 .1 .4-.2 .3 .1 .3-.3 .7-.9 .7-4.4 .1 .3 .4 3 .3 1.3 .5 .7 .7 .3 1 0 .3 .2 .5-.2 .7 .3 .1-.3 .7 .2 .3-.2 .4 .2 .3-.2 .5 .1 .1 .2 .2-.1 .7-.1 1.1 .2 .7-.2 .2 .1 .3-.1 .2 .2 .1-.2 .2 .2 .3-.2 .5 .2 .9-.3 .5 .2 .5-.1 .3 .2 .5-.2 .5 .1 .5-.1 1 .1 .1-.2 .4 .2 .8-.2 .2 .2 .1-.1 .7 .1 .2-.2 .1 .3 .5-.2 1 .1 .2-.2 .2 .1 .6-.1 .9 .2 .5-.2 .6 .1 .2-.1 .5 0 1.1-.5 .4-.3 .5-1.4 .6-8 .5 5.4 .2 1.1 .2 .4 .1-.1 .4-2.5 .3-4.9 .5 6.5 .3 2.3 .5 1.2 .9 .6 .6 .2 .4-.1 .3 .2 .3-.1 .2 .1 .6-.1 .4 .2 .3-.2 .2 .2 .3-.1 .2 .1 .1-.2 .9 .1 .6-.2 .7-.9 .5 .7 .7 .4 .5-.1 .1 .2 .2-.2 .5 .2 .2-.1 .3 .1 1.5-.1 .2 .1 .6-.1 .3 .1 .2-.2 .2 .2 .3-.1 .5 0 .3-.1 .7 .2 .5-.2 .2 .1 .1-.2 .5 0 .4-.4 .6-2.6 .2 0 .5 2.2 .8 .9 .4-.2 .8 .3 .5-.2 .5 .2 1.8-.2 1-.6 .3-.6 .4-1.2 .3-2.9 .5-8.6 .5 8.7 .5 3.6 .8 1.3 .5 .2 1 .2 .5-.1 .4 .2 .5-.3 .3 .3 .6-.6 .7-1.1 .5 1.2 .7 .4 1.5 0 1.3 .2 .3 0 .2-.2 .3 .2 .5-.2 .2 .2 .8-.1 .7 .1 .2-.2 .8 .2 .5-.3 .1 .1 1.2-.1 .5-.3 .7-.7 .5-1.3 .1 0 .7 1.1 .3 0 .5-1.7 .5-3.4 .5 2.6 .2 .1 .2-.3 .6-7 .2 .5 .5 6.7 .5 2.3 .6 .8 .7 0 .5-1.1 1 1.6 .5 .2 1.3 .1 .2-.2 .8 .3 1-.2 1.4 .2 .3-.2 .2 .2 .6-.2 .8 .2 .4-.3 .5 .2 .1-.1 .5 .1 .7-.1 .3-.2 .2 .1 .2-.2 .5-.1 .8-1.5 .8 1.1 .7 .2 .8-1 .7 1 .7 .5 .3-.2 .3 .3 .5-.2 .3 .2 1-.7 1.7 .8 .2-.1 .3 .2 3-.1 .3 .1 .4-.1 .3 .1 .2-.2 .3 .2 1.1-.2 .2 .2 .5-.1 .7 .1 .5-.2 1 .2 .5-.2 .1 .1 .9-.1 .3-.2 .2 .1 .8-.6 .5-1 .3-.1 .9 1.1 .4 .3 .5-.1 .2 .1 1-.4 1 .7 1 .2 1.3-.1 .4 .2 .3-.1 .7 .1 .1-.1 .4 .1 .1-.1 .7 .1 .5-.2 .2 .2 .1-.2 .2 .2 .3-.1 .2 .1 .5-.2 1-.2 .1-.2 .4 .1 1.1-1.7 .2 .1 .8 1.2 1.2 .8 .7-.1 .3 .1 .3-.1 .2 .2 .5-.2 .3 .2 .5-.1 .5 .1 .8-.1 .4 .1 .1-.1 .2 .1 .8-.2 .5 .2 .2-.2 .5 .2 1-.2 .7 .2 .3-.2 .5 .1 .8-.1 .4 .1 .3-.1 .3 .1 2-.3 .7-.3 1-.8 1.1-1.6 .2 .2 .2-.1 .3 .6 .7 .6 .6-.1 .5-.2 1.2 1.2 1.6 .7 .4-.1 .5 .1 2.3 0 1.2 .2 .3-.2 1 0 1.8-.8 .4 .1 .1 .3 .8 .4 2.2 .2 .7-.1 .3 .2 .2-.2 .8 .1" fill="none" stroke="#111" stroke-width="1.1" stroke-linejoin="round"/><text x="678.6" y="163.4" font-size="7.8" text-anchor="end" fill="#e0681c">UCNP@g-C<tspan font-size="5.1" dy="1.7">3</tspan><tspan dy="-1.7">N</tspan><tspan font-size="5.1" dy="1.7">4</tspan><tspan dy="-1.7">-Ru</tspan></text><text x="677.9" y="191.9" font-size="7.8" text-anchor="end" fill="#1ea27c">UCNP@g-C<tspan font-size="5.1" dy="1.7">3</tspan><tspan dy="-1.7">N</tspan><tspan font-size="5.1" dy="1.7">4</tspan></text><text x="678.6" y="219.8" font-size="7.8" text-anchor="end" fill="#f0a51e">g-C<tspan font-size="5.1" dy="1.7">3</tspan><tspan dy="-1.7">N</tspan><tspan font-size="5.1" dy="1.7">4</tspan></text><text x="678.6" y="241.9" font-size="7.8" text-anchor="end" fill="#4aa8ee">SiO<tspan font-size="5.1" dy="1.7">2</tspan></text><text x="678.6" y="261.2" font-size="7.8" text-anchor="end" fill="#111">UCNP</text><rect x="494.1" y="146" width="186.8" height="126.9" fill="none" stroke="#111" stroke-width="1.2"/><path d="M514.9 272.9v2.4M546 272.9v2.4M577.1 272.9v2.4M608.3 272.9v2.4M639.4 272.9v2.4M670.5 272.9v2.4M499.3 272.9v1.7M530.4 272.9v1.7M561.6 272.9v1.7M592.7 272.9v1.7M623.8 272.9v1.7M655 272.9v1.7" stroke="#111" stroke-width="1" fill="none"/><text x="514.9" y="285.3" font-size="9.8" text-anchor="middle" fill="#111">15</text><text x="546" y="285.3" font-size="9.8" text-anchor="middle" fill="#111">30</text><text x="577.1" y="285.3" font-size="9.8" text-anchor="middle" fill="#111">45</text><text x="608.3" y="285.3" font-size="9.8" text-anchor="middle" fill="#111">60</text><text x="639.4" y="285.3" font-size="9.8" text-anchor="middle" fill="#111">75</text><text x="670.5" y="285.3" font-size="9.8" text-anchor="middle" fill="#111">90</text><text x="587.6" y="298.9" font-size="12.9" text-anchor="middle" fill="#111">2θ (degree)</text><text transform="translate(487.4 210.4) rotate(-90)" font-size="12.7" text-anchor="middle" fill="#111">Intensity (arb. units)</text></g><g id="pe"><text x="464.6" y="320.6" font-size="16" text-anchor="start" fill="#000" font-weight="bold">e</text><path d="M498.3 322.1l2.9-.2 1.6 .2 .9-.3 .6 .2 1.2-.2 .6 .3 1.3-.3 .6 .3 1.6-.2 .6 .2 .7-.2 .4 .2 .6-.2 1.4 .3 1.1-.2 .6 .1 .6-.1 .8 .2 1-.2 .7 .2 .6-.2 1 0 .6 .3 .6-.2 3.5 .3 2.1-.1 .6 .3 .6-.1 1.5 .1 .8 .4 .6-.1 .2 .2 1.7 0 .6-.1 1.4 .4 .6-.1 .9 .2 .4-.2 .6 .3 1.4-.1 .6 .2 1.1-.3 .6 .3 .6-.2 2.3 .1 .6-.2 2.5 0 1-.3 .6 .1 1-.3 1.3 0 .6-.2 .6 .2 .4-.2 1.9-.1 2-.4 .8 .2 .5-.2 .8 .1 .6-.1 .6 .2 .8-.3 1.1 .1 .6-.3 1.4 .3 1.3-.2 1.2 .1 1.2-.2 .9 0 .2 .2 .8-.2 .8 .3 .8 0 .4-.3 1.7 .2 1.8-.3 .7 .3 .4-.2 .6 .2 .6-.1 .6-.3 .6 .3 .7 0 .6-.1 1 .2 .6-.2 1.9-.2 .6-.2 .4 .2 1-.1 .2 .2 2.3 .3 1.4-.1 .4 .1 .7-.1 .6 .4 .2-.1 .4 .4 1 1.9 .4-.1 .5-.4 .8-1.4 1-.7 1-.1 .7 .1 .4-.1 .8 .2 .6-.2 1.4 .2 .5-.2 .4 .2 .4-.2 1.4 0 .6 .2 .9-.3 .6 .2 .4-.2 .6 .2 .6-.1 .4 .3 1.9-.3 .2 .1 .8-.1 .4 .1 .6-.1 1.1 .2 1.8 0 .4 .2 .4-.1 .7 .4 1 .2 1 1.2 .8 2.3 1.7 6.4 .2 .5 .4 .2 .4-.3 .8-1.8 .9-1.3 .4-.2 .8 .8 .4-.2 1.5-3.2 .4-.4 .4 .1 .6 .6 1.2 2.3 .6 .6 .5 0 1.8-2.6 .2 0 .6 1.1 .2 .1 .2-.1 1.3-4.2 .4-.8 .4-.1 .4 .4 1.5 5.6 .4 .8 .2 0 .2-.2 1-3.5 .4-.7 .2 0 .4 .7 1.3 4.2 .4 .3 .4-.4 1.4-3.3 2.5-3.5 .6-.1 .8-.6 .7 0 .2-.2 1.2 .1 .6-.3 .6 0 2.3-1.2 .4 .2 1 0 .5-.2 2.6 .2 .4-.2 2.3 .2 1.4-.2 1.1 .3 .4 .4 .6 2.8 .2 .7 .2 0 .8-3.5 .2-.4 .7-.3 2.2 .2 1-.2 .9 .1 .6-.2 2 .3 .7-.1 .6 .2 2.5-.3 .6 .3 .8-.1 .6-.3 .6 .2 .6-.1 2.3 .2 .6-.3 2.7 .3" fill="none" stroke="#e0741c" stroke-width="1.1" stroke-linejoin="round"/><path d="M498.3 341.3l.2-.1 .6 .4 .6-.4 .5 .5 .8-.3 .2-.2 .4 0 .8 .7 .8-.8 .7 .4 .8-.2 .4 .3 .2 0 .4-.5 .8 .7 .9-.1 .6-.5 .4 .4 .4-.2 1 .4 .2-.3 .4 0 .7 .3 .4-.1 .2-.3 .6 .2 .6-.4 .8 .2 .7 .5 .6-.5 .8 .7 .8-.8 .4 .5 1.3-.4 1.2 .5 .8-.4 1 0 .5 .4 .2-.2 .6 .2 .2-.3 .2-.1 .6 .4 .6 0 .6 .5 .5-.3 .6 .3 .2-.4 .6 0 .2-.3 .4 .1 1.5-.1 .8 .6 1-.3 .6 .5 .6-.3 .2 .3 .3-.2 .2 .1 .2-.2 .2 .5 .6-.4 .4 .3 .6-.5 .2 .2 .2-.2 .4-.1 .9 .4 .4-.1 .4 .5 .6 0 .4 .3 .6-.4 .4 .4 .7-1.2 .6 .8 .2-.1 .6 .2 .8-.1 .2-.2 1.1 .2 .6-.4 1 0 .6 .5 .4-.2 .2-.4 .7 .5 .4-.3 .6 .2 .2-.3 .6 .3 .6-.5 .2 .1 .7-.1 .2 .2 .6-.8 .4 .1 .6 .5 .4-.2 .4 .2 .4-.1 .2-.2 .2 .2 .3-.5 .2 .1 .2-.3 .2 .5 .2-.2 .2 .4 .2-.3 .2 .4 .2-.2 .2 .2 .2-.2 .4 .3 .4-.5 .7 0 .2-.2 .2 .2 .6 0 .6-.2 .6 .3 .6-.4 .7 .2 .4-.1 .4 .2 .6-.2 .4 .3 .6-.5 .4-.1 .4 .5 .7-.4 1.2 .4 .6-.2 .6 .2 .4-.2 .5 .4 .8-.5 .6 .1 .2-.2 .4 .4 .2 0 .2-.2 .4 .1 .2-.2 .7 0 .2-.1 .6 .4 .2 0 .2-.3 .4 .1 .4-.2 1.5-.1 .2 .3 .6-.1 .2 .3 .4 0 .8-.8 .4 .5 .9-.4 .6 .8 .4-.2 .2-.4 .6 .3 .2-.2 1.2 0 .7-.5 .4 .1 .6-.4 .6 .5 .2-.2 .4 .5 .4-.1 .2-.3 .2 .4 .5 0 .2-.2 .6 .8 .4-.5 .6 .1 .4-.4 .6 .6 .2-.1 .5 .2 .6-.6 .4 .1 .4-.2 .6 .5 .6-.4 .2-.1 .7 .3 .4-.3 .6 .4 .4 0 .6-.3 .8 .1 1.3-.2 .4 .2 .2-.2 .6 .5 .8-.4 .2 .4 .2-.1 .2 .2 .3-.5 .4-.2 .6 .6 .2-.3 .2 .1 .2-.2 .2 .4 .4 .3 .4-.4 .2 .2 .2-.1 .2 .2 .3-.4 .4-.2 .4 0 .4 .4 .4 .1 .2-.2 .2 .2 .2-.1 .2 .1 .2-.5 .4-.1 .7 .9 .6-.9 .4 .6 .2 .1 .6-1 .2 0 .4 .6 .4 0 .4 .2 1.7-.3 .6 .5 .6 .2 .4-.4 .2 .1 .5-.2 .2-.3 .6 .4 .6-.4 .4 .4 .4-.1 .4 .1 .4-.4 .5 0 .2 .1 .2 0 .2 .3 .2 0 .4 .4 .6 .1 .4 .5 .6 0 .2 .4 .5-.3 .4-.7 .6-.2 .4-.5 .6 .3 .2-.3 .2 .1 .4-.3 1.1 .4 1 1.6 .2 .1 .6-.6 .4-.9 .4-.1 .5 .3 .6 1.6 .4 .3 1.6-2.3 .6 .2 .5-.1 .4 .5 .2 0 .2 .1 .8-.4 .2 .2 .2-.4 .2 .1 .6-.1 .4 .2 .3 0 .2-.3 .2 .1 .2-.2 .2 .3 .4-.2 .8 .1 .6-.6 .6 1 .3 0 .2-.5 .4 .2 .6-.1 .2 .2 .2-.3 .4-.2 .6 .3 .2 .3 1.1 .1 .6 .8 .4-.2 .4 .3 .8 1.6 .6 3.6 .2 .4 .3-.1 .2-.7 .8-3.4 .6-1.1 .4-.3 .6-.8 .2 0 .2-.3 .5-.1 .2 .3 .4 0 1.2-.7 .6 .2 .2 .2 .4 0 .2-.3 .9-.5 .6 .7 .8-.6 .2 .3 .4 .3 .8 0 .7-.3 .4 .5 1-.4 .8 .5 .6-.6 .7 .3 .2-.1 1 .7 .2 .5 .4 .5 .2 .1 .6-1.2 .5 0 .4-.2 .6 .5 .4-.4 .6-1.1 .2 .4 .4 .1 .2-.3 1.1 .4 .4-.1 .6 .2 .2-.4 .4 .1 .2 .4 .2-.4 .4-.2 .2 .3 .4 .1 1.3 1.4 1.2-1.7 1.3 0 .4 .4 .6-.3 1 .2 .6-.2 .4 .2 .9-.4 .6 .5 .2-.3 .4 .1 .2 .3 .8-.5 .6 .1 .7 .3 .6-.6 .6 .7 .2 0" fill="none" stroke="#d868b0" stroke-width="1.1" stroke-linejoin="round"/><path d="M498.3 361.1l1.2 0 .7 .2 .8-.2 1.8 .2 .6-.3 .7 .2 .6-.1 .6 .2 .8-.1 .6 .1 .7-.1 .2 .2 .6-.2 .4 .1 .6-.3 .8 .3 .9 0 .6-.1 1 .2 .6-.3 1 .3 .5-.3 .6 .2 .4-.2 .6 .2 1.2-.2 .2 .2 1.3 0 1.4-.2 1.3 .4 .6-.2 .4 .1 .6-.2 .8 .3 1.5-.2 2.8 .4 2.3 0 .8 .3 .6-.2 .7 .2 .6 0 .2 .2 1-.4 1.9 .4 .6-.2 1.2 .4 .4-.2 1.1 0 .6 .2 .6-.4 1 0 .6 .3 1.3-.4 2.9 .2 .6-.3 .4 .1 .6-.1 1.2 .2 .2-.2 .9-.1 .8-.2 .6 .3 .6 .1 1.5 .5 .2 0 .6-.7 .8-.5 .6 .3 1.5-.2 .6 .2 .6-.2 2.7 .1 .6-.3 1.2 .3 1.9-.3 .6 .2 .4-.2 .8 .2 .7-.1 .2 .2 .8-.2 .2 .2 .6-.3 2.9 .2 .8-.2 .6 .2 .6-.2 1.3 .2 .6-.2 .6 .1 .4-.2 1.1 .3 .4-.1 .6 .1 .4-.3 1.6 0 .9 .4 1 0 1-.4 .8 .3 .7-.1 1 .2 .4-.2 .4 .1 .6 0 .2-.1 .7 .1 .8-.1 .6 .1 1.2 0 .9-.3 1.4 .2 .6-.1 .4 .2 .4-.1 .4 .1 .5-.1 .6 .1 .6-.2 .4 .2 .8-.3 .6 .4 3.1-.4 .6 .2 1.9 .1 .6-.2 1.3 .2 1-.2 .8 .3 1.4-.2 .7 .1 .4-.2 .6 .4 .6-.2 1.9 .4 .6-.1 .8 .6 .4 .7 .6 1.1 .6 1.9 1.7 7 .4 .9 .2 0 .6-.8 1.3-2.9 .2-.1 .6 .2 .6 .5 .4-.4 .4-.7 .8-2.2 .7-1 .2 0 .8 1 1.2 2.3 .6 .7 .5 0 .4-.3 1-2.1 .4-.3 .2 0 .6 1.1 .2 .2 .2-.2 1.5-5.3 .4-.5 .4 .4 .6 1.7 1.1 4.7 .4 1.1 .2-.1 .4-.9 1-3.7 .2-.4 .2-.1 .2 .2 .2 .6 1.1 4 .6 1.2 .4-.5 1.4-3.6 2.1-3.5 .4-.5 1.9-.8 1-.9 .8-.5 1.2 .1 .9-.3 2.2 .2 1.3-.3 .4 .1 .6-.1 .8 .3 .4-.1 3.1-.1 .4-.1 .8 .3 .9-.2 .4 .8 .8 4.3 .2-.1 .2-.8 .6-3.3 .2-.6 .5-.3 2 0 1-.1 1.5 .2 .4-.2 .6 .3 .4-.2 .4 .2 .6-.2 2.1-.1 .4 .2 1-.3 1.1 .3 1.2-.1 .4-.2 .4 .3 .4-.1 .7 .1 .6-.2 .6 .2 .6-.2 .6 .2 .6-.2 .5 0 .2 .2 .6-.3 .6 .2" fill="none" stroke="#2a7fc4" stroke-width="1.1" stroke-linejoin="round"/><path d="M498.3 382.2l.6-.2 .6 .2 .2 .2 .7-.2 .4 .2 .6-.2 .6 .2 .6-.3 .6 .3 1.1-.1 .6 .2 1-.1 1 .1 .9 0 .6 .4 .6-.2 .6 .3 .6-.1 1.1 .4 .6-.2 1 .6 .8 0 .7 .2 .2-.1 .6 .4 1.2 .5 1.2 .1 .2 .2 .7-.1 .6 .5 1.8 .6 1.1 .4 .2 .2 .6-.1 .2 .3 1.4 .3 .7-.1 .8 .4 .8 .1 .4-.2 .4 .2 .6-.1 1.5 .3 1-.1 1.4-.3 .5 0 .2 .1 .4 0 .2-.3 .4-.1 .2 .2 .8 0 .8-.5 .7 .1 .2-.2 1.2 0 1.2-.6 1.5-.2 .6-.3 .4 .3 .6-.6 .2 0 1.5-.1 2.2-1 .9-.2 .2 .1 .6-.1 .6-.4 .6-.2 .8 .2 1.1-.5 1-.1 .4 .1 .6-.3 .4 .2 .4-.4 .9 .1 .6-.3 .6 .4 2.1-.5 .8 .1 .4-.2 .6 .3 .4-.2 1.1 0 .6 .2 1-.3 1 .3 .9-.3 .6 .1 .8-.1 1.8 .2 1.1-.4 .4 .1 .2 .2 1.2-.1 .6 .2 .7-.2 .6 .1 .2-.1 .6 .1 .4-.1 3.5 .2 1-.1 .7 .1 .2-.2 .8 .2 .6-.2 .6 .1 .6-.3 .2 .2 1.1 .1 .2-.1 .6 .2 .4-.4 .6 .4 .6-.2 .5 .1 .4-.1 .4 .1 .8-.2 .6 .3 .4-.2 1.1 .2 .6 .4 .8 1.5 .6 1.8 .4 .7 .2 .1 .2 0 .5-.7 1.4-3.4 .6-.4 1.7-.2 2.6 .1 .6-.2 .7 .2 .2-.1 2 0 .2 .2 .4 0 .7-.3 .6 .1 .6 .4 .8-.2 .4-.2 .4 .2 1.3-.1 .4-.2 1 .3 .8-.3 .7 .3 .8-.2 .8 .3 .4-.1 1 0 .9 .4 .6 .1 .4 .2 .8 1 2.5 8.4 .2 .6 .4 .4 .4-.2 .2-.4 1.1-2.7 .4-.2 .4 0 .2 .3 .8 .3 .4-.5 1.3-2.8 .4-.5 .4 .2 .8 .9 1 2.1 .4 .3 1.1 0 .6-1.6 .2-.4 .6-.3 .8 .9 .2 .1 .2-.1 1.3-4.1 .6-.8 .4 .1 .4 .9 1.3 4.9 .4 1 .4-.6 1-3.3 .4-.8 .4 .4 1.3 4 .4 .6 .4 .2 1.6-3.3 .9-.8 .8-1.1 .4-.2 .6 .2 .2 .3 2.7 5.3 .6 .5 1-1 2.7-6.8 .6-.9 .9-.7 .8 .2 .8 .7 .4 .1 1.9-1.6 .8-.1 1.2 .3 1-.2 .9 .3 .6 0 .4 .6 .4 1.2 .4 .3 1.7-2.5 .4 .3 .6-.2 2.3-.1 1 .3 1-.3 .8 .2 .7-.1 .6 .1 1.2-.2 .6 .2 .6-.2 .7 .3 .6-.4 1 .1 .4 .1 1.3 .9 .6 1.1 .6 1.9 .4 .6 .4-.2 .2-.4 1-2.3 .7-1.1 1.2-.5" fill="none" stroke="#1ea27c" stroke-width="1.1" stroke-linejoin="round"/><path d="M498.3 404.2l3.1-.1 .4 .2 1-.2 .6 .2 2.5-.2 .6 .1 .4-.2 .7 .3 .6-.1 .4 .1 1-.2 .4 .2 2.3 0 .6-.3 1 .4 .7-.1 .8 .1 .6-.2 1.4 .2 1.1-.2 1.4 .3 2.3-.1 1.2 .2 1.4-.1 .7 .2 1.6 .1 1.7 .4 .8-.1 1.2 .3 .8 0 .9 .3 1.4-.1 2.7 .5 1.8 .1 .6-.1 1.1 .2 1.2-.2 .8 .1 .6-.2 .9-.1 1.4 .1 .6-.2 .6 .2 1.7-.4 .2 .1 .2-.2 1.2 0 .7-.2 .6 .1 .6-.3 1.2 0 3.7-.5 .4 .1 .7-.2 .4 .1 1-.2 1.9 0 3.2-.3 .7 .2 1.2-.1 1.4 .2 1.3-.3 1.2 .3 1.2-.4 .7 .3 1.2 .1 .2-.1 1.6-.2 .7 .2 .8-.2 1.4 .1 .6 .2 .5-.1 1 0 .4-.2 1.2 .1 .6 .2 .7-.2 .6 .1 .2-.2 .4 0 .8 .2 1.3-.1 .4-.1 1 .2 1.2-.2 2.1 .1 2.3-.1 .6 .2 .4-.2 1.2 .2 .4-.2 1.1 .2 .6-.2 1.8 .1 .8-.1 1.5 .3 .8-.3 .6 .2 1.1-.2 1 .2 .8-.3 .8 0 .7 .2 1.6-.1 .6 .2 .8-.2 2.1 .2 .2-.1 .6 .2 1.7 .2 1.2 .6 .6 .7 .8 2 1.7 6.6 .4 1.1 .2 .2 .4-.2 .4-.5 1.3-2.6 .4-.2 1 .5 .4-.2 .6-1.1 .6-1.7 .7-.8 .4 .1 .4 .3 1.4 2.7 .4 .5 .5 .2 .4-.1 1.2-2.2 .4-.3 .2 0 .6 1.1 .2 .1 .4-.7 1.1-3.9 .2-.5 .4-.3 .4 .3 .4 .9 1.3 5.1 .4 .9 .2-.1 .2-.3 1-3.4 .6-.9 .4 .7 1.1 3.7 .4 .9 .2 .1 .2-.1 .4-.8 1.2-2.9 2.3-3.5 1.4-.7 .7-.6 .4 .1 1-.6 1.6-.5 1.1 0 2.4-.2 .7 .1 1-.1 2.5 .2 .8-.1 .6 .1 1-.2 1.1 0 .6 .3 .4 .7 .8 4 .2 0 .2-.8 .6-3.3 .2-.5 .5-.3 .4 0 .4-.2 2.4 .3 .7-.1 .6 .2 1.6-.3 1.5 .3 .8-.3 .8 .1 .6-.2 1.3 .3 2.6 0 1.3-.2 .8 .2 .6-.2 .8 .2 .4-.2 .7 .2 1.2-.1" fill="none" stroke="#f0a51e" stroke-width="1.1" stroke-linejoin="round"/><path d="M498.3 424.1l.4 0 .6-.2 .6 .2 .5-.2 .6 .2 .8-.1 .4 .1 .4-.1 2.1 .1 .4-.1 3.7 .2 .6-.1 2.5 .3 1 0 .4-.1 1.1 .3 1.2-.1 1.6 .3 .6-.1 .7 .2 .6 0 1.8 .3 .7-.1 2.2 .4 2.3 0 1.4 .2 1.9-.2 1.8 .1 .6-.4 .5 .2 1.8 0 1.7-.3 3.4-.2 .9-.3 1.4 .1 1.2-.3 1.1 .1 .6-.2 .8 .1 2.1-.2 .6-.2 .6 .1 .8-.1 .9 .2 .6-.2 .6 .1 .6-.2 .6 .3 .8-.4 1.1 .3 1-.2 .6 .3 .6-.3 .7 .1 1.2-.1 .2 .2 .8-.2 .4 0 .4 .2 1.3-.1 1 0 .2 .1 2.5-.2 .6 .1 2.1-.1 1 .2 2.3-.2 .8 .2 1-.3 .6 .2 1.5-.1 .6 .3 .6-.2 2.1 .1 1-.3 .6 .4 1.9-.3 .6 .1 .4-.1 .8 .2 1.4-.1 .9 .2 .4-.2 .8 .1 .4-.2 3.5 .2 .8-.2 1.7 .1 1-.1 2.1 .2 1.8-.1 .8 .1 .7-.1 2 .1 .8-.2 .7 .3 1-.3 1.2 .2 1.9-.1 .6-.1 2.3 .2 .6-.2 .6 .2 1.2 0 1.1 0 .6-.2 .6 .1 1.2 0 .4 .2 .7-.2 .4 .2 .4-.1 .6 .5 .8 .3 1.2-.2 .7-.5 1-.3 2.7 .2 .6-.3 .2 .2 2.9-.1 1.2 .2 .6-.3 1.9 .3 .8-.1 .6 .1 .6-.2 1.1 .1 .8-.1 .6 .2 1 .1 1.1 .5 1.2 .9 1.9 .9 .4 .1 .8 .5 .8 .8 .6 .8 1.3 2.5 .8 1.3 .6 .6 .6 .2 1.3-1.7 2-4.5 1-1.7 .7-.4 1.6 .2 1.2-1.1 3.5-.2 1.5 .3 .6 .4 .8 1.1 .4-.1 1.5-1.5 .8-.3 2 .3 1.7-.2 .8 .2 .8-.2 .5 .1 .4-.1 .6 .1 2.2 0 .5 .1 .6-.2 .8 .2 1.2 0 .9 .8 1 2.3 .4 .6 .4 .3 .4-.4 1.5-3.1 .4-.3 1-.3" fill="none" stroke="#4aa8ee" stroke-width="1.1" stroke-linejoin="round"/><path d="M498.3 443.4l.4 .2 .6-.5 .4 .3 1.3 .1 .6-.2 2.3 .2 .6-.4 .4 .3 .6-.2 1.2 .4 1.1-.2 .2 .1 .6-.2 .6 .2 .4 0 .6-.2 .7 .2 .6-.1 .2 .1 .6-.2 1 .1 .2-.1 .9 .2 1.8-.3 .4 .1 .4 .3 .6-.3 1.1 .3 .8 0 1 .2 .6 .5 .7 .1 .6 .7 1.2 .7 1 1.1 .7 .4 .6 .7 .8 .4 1 .2 .6-.4 .5 .2 1-.6 1.2-1.5 .6-.3 .7-.7 1.4-1.1 .4 .1 .6-.5 .4 .1 1.5-.5 .6 .1 .4-.1 .6 .1 .6-.2 .4 .3 .7-.4 .6 .3 .4 0 .8-.3 .6 .3 1.5-.2 .6 .2 .6-.3 .6 .4 .6-.3 .7 .2 1 0 .6-.2 2.3 .1 .4 .2 .6 1.9 .4-.2 .2 .2 1 8 .3 .4 1-8.3 .4-1.6 .4-.6 .6 .5 .2 .8 .9 5.1 .2-.2 .8-5.3 .4-.8 .4-.3 1.4 .3 .7-.2 .6 .3 .6-.3 .6 .2 .8-.2 .7 .3 .6-.3 .6 .2 1-.2 .6 .2 .7-.3 .8 .3 .6-.2 .2 .1 .2-.2 .2 .1 .2-.1 .8 .3 .9-.4 1 .6 .4-.3 .6 .1 .6-.1 .2 .2 .7-.3 .4 .1 .4 .3 .6-.4 1 .2 .4-.2 .5 .2 1.2-.2 .8 .1 1-.1 .2-.3 .7 .1 .8-.3 .4 .1 .6 .4 .2-.1 .6 .3 .4-.2 .7 .2 1-.2 .4 .3 .6-.3 .4 .3 .7-.1 .2 .1 1-.4 .6 .3 .8-.2 1.7 .3 .6-.4 .6 .2 .8-.1 .2-.2 .7 .4 .8-.3 .6 .2 .6-.1 .4 .2 1.7-.3 .6 .3 .2-.1 .6 .2 1-.3 .7 .4 1.8-.4 1 .3 .5 0 .2-.3 .6 .3 1-.5 1.4 .4 1.7-.2 .6 .2 1-.3 2.1 .4 .6-.2 1 .1 1.7-.3 .8 .3 1-.1 .7 .5 .6 1.3 1.2 4.7 .4 1 .2 0 .2 0 .4-1 1.1-4.2 .6-1.4 .4-.5 .4 0 .6 .5 1.1 2.8 .4 .3 1.4-2.9 .2-.1 .6 .4 .4 .1 1.7-1.6 1.6 .2 .7-.3 .6 .3 .8-.2 1.8 .2 1.3-.3 .6 .2 1.2-.1 .7 .2 .6-.3 .6 .4 .6-.1 .8 .4 .4 .1 .7 .5 1 .1 1.2-.9 1-.4 1.1-.1 .4 .3 1-.3 .4 .3 1.1-.3 .4 .2 .6-.1 .8 .2 1-.2 .7 0 .2 .2 .8-.1 .2 .2 1.2-.3 1.5 .3 .4-.2 1.4 .1 .6-.2 2.1 0 1 .2 .4 .7 .2 0 .4-.5 .5-.2 .6 0 .6-.4 2.1 .3 .4-.2 .6 .3 .6 0 .2 .1 1.4-.3 2.5 .3 .8-.5 1.3 .3 .6-.3 .6 1.4 .6 3.6 .2 .8 .2 0 .9-3.8 .2 0 .4 2.2 .6-3.4 .2-.3" fill="none" stroke="#111" stroke-width="1.1" stroke-linejoin="round"/><path d="M592.4 321.3V388" stroke="#222" stroke-width="0.9" stroke-dasharray="2.6 1.6"/><path d="M645.5 320.3V370.4" stroke="#222" stroke-width="0.9" stroke-dasharray="2.6 1.6"/><path d="M648.4 361.2V433.6" stroke="#222" stroke-width="0.9" stroke-dasharray="2.6 1.6"/><path d="M661.6 321.3V417.9" stroke="#222" stroke-width="0.9" stroke-dasharray="2.6 1.6"/><text x="501.4" y="318.6" font-size="6.7" text-anchor="start" fill="#e0741c">UCNP@g-C<tspan font-size="4.4" dy="1.5">3</tspan><tspan dy="-1.5">N</tspan><tspan font-size="4.4" dy="1.5">4</tspan><tspan dy="-1.5">-Ru</tspan></text><text x="501.4" y="337.6" font-size="6.7" text-anchor="start" fill="#d868b0">Ru</text><text x="501.4" y="358.3" font-size="6.7" text-anchor="start" fill="#2a7fc4">UCNP@g-C<tspan font-size="4.4" dy="1.5">3</tspan><tspan dy="-1.5">N</tspan><tspan font-size="4.4" dy="1.5">4</tspan></text><text x="501.4" y="377.7" font-size="6.7" text-anchor="start" fill="#1ea27c">UCNP@hmSiO<tspan font-size="4.4" dy="1.5">2</tspan><tspan dy="-1.5">@g-C</tspan><tspan font-size="4.4" dy="1.5">3</tspan><tspan dy="-1.5">N</tspan><tspan font-size="4.4" dy="1.5">4</tspan></text><text x="501.4" y="400.3" font-size="6.7" text-anchor="start" fill="#f0a51e">g-C<tspan font-size="4.4" dy="1.5">3</tspan><tspan dy="-1.5">N</tspan><tspan font-size="4.4" dy="1.5">4</tspan></text><text x="501.4" y="419.8" font-size="6.7" text-anchor="start" fill="#4aa8ee">SiO<tspan font-size="4.4" dy="1.5">2</tspan></text><text x="501.4" y="438.9" font-size="6.7" text-anchor="start" fill="#111">UCNP</text><rect x="498.3" y="308.9" width="185.2" height="149.1" fill="none" stroke="#111" stroke-width="1.2"/><path d="M498.3 458v2.4M524 458v2.4M549.7 458v2.4M575.5 458v2.4M601.2 458v2.4M626.9 458v2.4M652.6 458v2.4M678.4 458v2.4M665.5 458v1.7M639.8 458v1.7M614 458v1.7M588.3 458v1.7M562.6 458v1.7M536.9 458v1.7M511.2 458v1.7" stroke="#111" stroke-width="1" fill="none"/><text x="498.3" y="469.2" font-size="9.3" text-anchor="middle" fill="#111">4000</text><text x="524" y="469.2" font-size="9.3" text-anchor="middle" fill="#111">3500</text><text x="549.7" y="469.2" font-size="9.3" text-anchor="middle" fill="#111">3000</text><text x="575.5" y="469.2" font-size="9.3" text-anchor="middle" fill="#111">2500</text><text x="601.2" y="469.2" font-size="9.3" text-anchor="middle" fill="#111">2000</text><text x="626.9" y="469.2" font-size="9.3" text-anchor="middle" fill="#111">1500</text><text x="652.6" y="469.2" font-size="9.3" text-anchor="middle" fill="#111">1000</text><text x="678.4" y="469.2" font-size="9.3" text-anchor="middle" fill="#111">500</text><text x="590.6" y="485.7" font-size="13.2" text-anchor="middle" fill="#111">Wavenumber (cm<tspan font-size="8.7" dy="-5">-1</tspan><tspan dy="5">)</tspan></text><text transform="translate(492.3 383) rotate(-90)" font-size="13" text-anchor="middle" fill="#111">Intensity (arb. units)</text></g><g id="pf"><text x="0.5" y="505.4" font-size="16" text-anchor="start" fill="#000" font-weight="bold">f</text><path d="M30.1 532.7l.4-1 .1 .6 .3-.1 .3 .2 .1-.3 .5 .3 .2-.4 .4 .6 .2-.5 .2 .4 .1-.3 .3 .4 .3-.3 .1 .2 .1-.3 .8 0 .6 .4 .1-.6 .2 .6 .2-.6 .4 .5 .2-.4 .2 .2 .2-.4 .2 .5 .3 .1 .4-.2 .2 .3 .1-.5 .3 .3 .1-.4 .1 .6 .2-.5 .2 .7 .2-.7 .2 .5 .2-.5 .2 .3 .4 0 .2 .2 .7-.7 .1 .6 .1-.6 .3 .8 .1-.6 .4 .4 .2-.4 .4 .1 .1 .4 .2-.5 .4 .4 .1-.5 .1 .5 .2-.1 .1 .1 .3-.6 .2 .6 .3-.2 .3 .5 .1-.5 .2 .4 .1-.8 .1 0 .2 .7 .1-.2 .5 .6 .3-.1 .4 1.6 .1-.4 .6 1.3 .3-.3 .2 .3 .2-.4 .2 .6 .4-.4 .2 .1 .1-.3 .1 .5 .4-.5 .3 .4 .3-.2 .3 .3 .1-.4 .4-.1 .1 .4 .3-.1 .1-.3 .3 .2 .3 0 .1-.1 .3 .5 .3-.1 .1-.3 .1 .2 .2-.3 .1 .3 .1-.3 .3-.1 .1 .3 .3-.1 .1-.3 .2 .2 .1-.3 .2 .6 .5-.7 .4 .7 .1-.6 .3 .2 .3-.4 .1 .3 .3 0 .1 .4 .1-.3 .5 .3 .1-.7 .3 .6 .1-.6 .4 0 .5 .6 .3-.7 .1 .4 .3 0 .3-.4 .1 .4 .2-.5 .5 .8 .1-.9 .3 .6 .1-.2 .2 .2 .1-.4 .1 .4 .3-.4 .3 .2 .1-.1 .2 .3 .1-.2 .1 .3 .6-.8 .2-.1 .2 .1 .1-.4 .1 .2 .3-.1 .4 .6 .2-.4 .4 .3 .1 .5 .1-.2 .3 .3 .1-.5 .4 .3 .2-.3 .4 .3 .4-.6 .1 .5 .3-.4 .3 .1 .1-.3 .1 .4 .2-.2 .2 .3 .2-.2 .1 .1 .4-.1 .2 .4 .1-.4 .1 .3 .2-.5 .1 .3 .4-.7 .1 .9 .2-.6 .5 .3 .3-.4 .1 .5 .2-.4 .4 .4 .5-.7 .1 .3 .3-.1 .1 .3 .2-.2 .1 .5 .3-.8 .1 .4 .1-.2 .2 .3 .5 0 .3-.7 .1 .3 .3 .1 .1-.1 .2 .6 .1-.4 .1 .3 .2-.4 .1 .4 .1-.6 .2 .4 .1-.4 .3 .6 .1-.7 .3 .4 .3-.4 .1 .6 .1-.3 .2 .3 .2-.6 .3 .6 .1-.6 .5 .5 .2-.6 .2 .8 .1-.5 .3-.1 .2-.3 .3 .2 .3-1.3 .1 .5 .3-.1 .1 .3 .2-.5 .5 1.1 .1-.3 .3 .3 .1-.3 .2 .6 .1-.3 .3-.1 .1 .5 .3-.5 .5 .4 .2-.4 .4 .3 .4-.4 .1 .2 .1-.3 .2 .4 .6-.4 .2 .4 .4-.6 .1 .4 .2-.8 .1 1.1 .4-.7 .3 .5 .1-.2 .3 .3 .2-.7 .5 .2 .1-.3 .5 .6 .2-.2 .1 .4 .1-.8 .3 .5 .3-.3 .2 .4 .2 .1 .1-.4 .6 .3 .1-.4 .1 .2 .2-.6 .2 .9 .2-.4 .1 .2 .1-.6 .2 .3 .1-.3 .3 .5 .1-.4 .3 .1 .1 .7 .2-.6 .4 .1 .2-.4 .3 .7 .4-.7 .1 .3 .3-.2 .1 .3 .2-.3 .5 .4 .3-.4 .4 .3 .3-.2 .2 .1 .2-.4 .4 .5 .1-.4 .2 .4 .1-.6 .3 .5 .1-.3 .1 .3 .2-.8 .1 .4 .4-1.1 .1 .1 .2-.9 .1 .6 .1 0 .2 .4 .2 .1 .5 .9 .1-.1 .4 .4 .1-.8 .3 .6 .3-.3 .4 .1 .4-.2 .3 .5 .1-.5 .3 .6 .1-.4 .1 .5 .2-.6 .1 .4 .3-.6 .2 .6 .2-.5 .1 .2 .3-.3 .1 .3 .2-.2 .2 .3 .2-.5 .4 .8 .2-.7 .3 .6 .1-.6 .6 .6 .1-.8 .1-.1 .3 .5 .2-.6 .2 .7 .2-.4 .1 .2 .5 0 .2 .2 .1-.4 .3 .3 .1-.3 .4-.1 .2 .6 .1-.3 .1 .3 .4-.5 .4 .2 .2-.4 .2 .3 .3-.2 .3 .2 .4-.3 .1 .2 .3-.4 .3 .4 .2-.3 .2 .3 .2 0 .2 .2 .1-.4 .1 .2 .2-.2 .3 .3 .2-.1 .2-.4 .1 .3 .1-.4 .2 .7 .4-1 .1 .8 .1-.5 .2 .3 .1-.4 .4 .4 .1-.2 .2 .4 .1-.5 .2 .4 .5-.7 .1 .6 .2-.6 .1 .2 .3-.2 .1 .1 .3-.5 .1 .2 .3-1 .4-4.1 .5 4.8 1 .9 .1-.2 .1 .2 .2-.2 .1 .1 .2-.2 .1 .2 .4-.2 .3 .2 .1-.6 .1 .7 .2-.8 .1 .5 .3 .2 .4-.1 .2 .4 .3-.9 .4 1.1 .2-.9 .2 .3 .3-.4 .1 .5 .2-.5 .2 .5 .2-.5 .2 .6 .3-.6 .3 .4 .1-.5 .2 .2 .2-.2 .2 .6 .1-.3 .1-.1 .2 .2 .2-.4 .2 .5 .2-.5 .3 .5 .4-.6 .2 .3 .1-.4 .1 .6 .2-.3 .1 .4 .1-.5 .2 .3 .1-.5 .3 .4 .4-.5 .1 .7 .2-.2 .2 .1 .2-.3 .2 .6 .2-.7 .1 .2 .1-.2 .2 .5 .2-.6 .2 .1 .4-.5 .1 .4 .1-.1 .2 .3 .1-.2 .3 .5 .3-.6 .2 .7 .3-.9 .4 .5 .1-.4 .3 .2 .3-.3 .3 .4 .1-.3 .1 .5 .3-.2 .5 0 .3-.7 .1 .4 .3-.2 .1 .3 .2-.5 .1 .5 .3-.5 .3 .6 .2-.8 .3-.2 .4-4 .3-6.4 .4 10.4 .4 2.8 .1-.2 .4 .5 .3 0 .1-.4 .6 .8 .1-.9 .1 .5 .4 .2 .3-.4 .2 .6 .6-.6 .2 .5 .2-.4 .3 .6 .1-.2 .6 0 .1-.6 .2 .2 .2-.2 .3-.8 .1 .6 .3-.7 .1 .8 .2-.1 .4 .5 .2-.3 .3 .5 .3 .1 .3-.8 .1 .5 .3-.9 .2-.6 .2 .2 .1-.5 .1 .6 .2-.4 .2 .3 .2-.1 .4 1.1 .1-.2 .3 .9 .1-.4 .3 .2 .1-.2 .3 .4 .4-.6 .1 .9 .3-.9 .3 .5 .3-.6 .1 .8 .3-.4 .1 .2 .3-.2 .1 .2 .1-.6 .2 .6 .1-.1 .4 .2 .4-.4 .2 .2 .2-.4 .4 .4 .2-.7 .1 .5 .3-.2 .1 .2 .1-.6 .2 .1 .2-.6 .4-2.7 .5-10.8 .4 13.1 .1 1.8 .5 2.2 .4-.2 .3 .5 .3-.3 .4 .2 .1-.3 .2 .8 .1-.4 .3-.1 .2 .5 .2-.6 .4 .1 .1 .5 .4-.8 .3 .5 .3-.1 .1 .2 .5-.5 .2 .7 .1-.7 .1 .5 .3-.3 .1 .4 .2-.4 .1 .4 .2-.5 .2 .5 .2-.5 .1 .7 .3-.9 .2 .9 .2-.5 .2 .1 .2-.5 .1 .5 .1 .2 .2-.4 .2 .6 .2-.9 .4 .6 .3-.4 .2 .1 .2 .5 .1-.6 .3 .4 .2-.4 .2 .5 .2-.5 .3 .4 .2-.3 .4 .2 .1-.6 .1 .2 .6 .3 .2-.6 .2 .2 .1-.3 .1 .4 .5-.7 .4-1.7 .2-2.5 .6-23.9 .5 32.8 .3 3.3 .7 2 .2-.4 .3 .6 .3-.2 .1 .6 .1-.4 .3 .3 .1-.2 .4 .4 .2-.3 .4 .6 .3-.5 .2-.1 .4 .5 .3-.4 .1 .5 .2-.3 .2 .4 .3-.5 .3 .5 .4-.1 .1-.6 .2 .4 .1-.2 .5 .6 .4-.3 .2 .3 .3-.6 .2 .5 .2-.3 .2 .5 .2-.3 .2 0 .2-.2 .4 .2 .1-.1 .1 .4 .2-.2 .1 .2 .1-.5 .3 .5 .3-.3 .3 .2 .2-.1 .2 .2 .2-.5 .3 .5 .1-.6 .2 .8 .4-.4 .3 .6 .4-.4 .2 .3 .3-.5 .3 .5 .1-.5 .1 .4 .4-.1 .2 .2 .3-.5 .1 .7 .5-.5 .2-.6 .1 .4 .1-.1 .4-1.3 .4 1.5 .2-.4 .4 .9 .3-.7 .1 .7 .3 0 .1-.3 .3 .6 .1-.4 .3-.1 .1 .5 .1-.7 .3 .5 .4 0 .2 .3 .1-.4 .3 .1 .1-.4 .1 .7 .2-.5 .2 .5 .6-.7 .1 .6 .1-.2 .2 .5 .1-.5 .2 .2 .1-.2 .1 .2 .3-.1 .1-.4 .4 .8 .3-.6 .1 .7 .2-.3 .1 .2 .3-1 .1 .6 .2-.1 .1 .3 .1-.4 .2 .2 .1-.1 .1 .3 .2-.2 .1 .5 .4-.3 .3 .3 .1-.4 .1 .5 .2-.3 .2 .5 .3-.7 .2 .5 .1-.3 .3 0 .1-.2 .1 .3 .2-.2 .1 .4 .3-.8 .1 .4 .5 .3 .3-.3 .2 .4 .1 .1 .1-.2 .2 .3 .2-.4 .8 .4 .3-.5 .4 .5 .3 0 .1-.4 .2 .3 .1-.2 .3 .4 .1-.4 .3 .7 .1-.7 .4-.1 .1 .6 .2-.4 .2 0 .2-.5 .1 .8 .2-.2 .2 .4 .2-.3 .4 .3 .1-.5 .1 .1 .2-.3 .2 .6 .2-.2 .1 .5 .1-.2 .2 .3 .1-.4 .2 .3 .1-.5 .1 .3 .3-.2 .1 .5 .3-.5 .1 .3 .2-.2 .2 .1 .2-.2 .2 .2 .2-.2 .3 .3 .1-.2 .1 .5" fill="none" stroke="#e0741c" stroke-width="1" stroke-linejoin="round"/><path d="M30.1 590.3l.1-.5 .2 .2 .1-.5 .1 .3 .3-.1 .1-.2 .2 .5 .2-.3 .4 .5 .2-.6 .1 .6 .1-.6 .4 .6 .3-.2 .2 .2 .2-.4 .2 .4 .4-.7 .2 .8 .3-.4 .1 .2 .2-.5 .4 .6 .1-.5 .2 .4 .5-.2 .1 .3 .3-.7 .1 .7 .3-.2 .1 .2 .4-.7 .5 .5 .1-.4 .1 .1 .2 .5 .1-.4 .3-.1 .1 .5 .1-.1 .3 .1 .4-.2 .4 0 .1-.3 .2 .2 .3-.1 .2 .5 .3-.4 .3 .3 .1-.5 .4 .6 .4-.8 .6 .5 .1-.6 .3 .6 .1-.3 .8 .4 .3-.4 .4 .2 .1-.3 .4 .6 .3-.3 .1 .3 .2-.2 .6 .4 .2-.2 .1 .2 .1-.3 .3 .8 .2-.3 .1 .1 .3-.2 .4 .5 .1-.4 .1 .2 .3-.1 .1 .3 .3-.3 .1 .6 .2-.5 .2 .1 .2-.3 .1 .3 .2-.3 .6 .6 .3-.5 .1 .2 .3-.2 .3 .4 .1-.3 .6 .1 .1-.3 .1 .3 .3-.3 .4 .4 .4-.3 .1 .2 .4-.2 .2 .4 .5-.4 .2 .3 .1-.5 .4 .4 .1-.2 .2 .4 .1-.7 .1 .7 .4-.4 .2 .3 .1-.3 .1 .1 .2-.3 .1 .4 .3-.5 .1 .4 .3 .2 .1-.3 .3 .4 .1-.5 .2 .6 .5-.8 .1 .6 .3-.3 .2 .3 .5-.6 .1 .6 .3-.3 .1 .5 .2-.5 .2 .5 .4-.6 .2 .4 .1-.4 .3 .5 .1-.3 .2 .2 .1-.2 .1 .3 .3-.4 .1 .2 .4-.3 .2-.3 .2 .1 .2-.6 .5 1.1 .3-.3 .3 .4 .1-.5 .5 .7 .2-.5 .2-.2 .3 .3 .1-.7 .2 .7 .1-.1 .2-1 .5 .5 .1-.2 .2 .5 .1-.4 .1 .5 .3 0 .1-.2 .3 .7 .1-.4 .3 .1 .2-.2 .2 .3 .3-.5 .1 .7 .2-.3 .5-.3 .5 .6 .2-.4 .1 .4 .4-.5 .2 .3 .1-.3 .1 .3 .2-.3 .4 .3 .4-.2 .1 .3 .3-.3 .1 .3 .1-.3 .6 .3 .1-.6 .2 .6 .1-.6 .1 .6 .3-.5 .1 .3 .3-.3 .1 .4 .3-.2 .1 .3 .3-.5 .2 .3 .1-.4 .3 .3 .1-.2 .3 0 .2-.3 .2-.6 .1 .5 .1-.3 .2 .4 .1-.5 .4-.4 .2-.7 .1 .4 .4-.9 .1 .6 .2-.1 .2 .3 .2 .8 .2 .4 1.1 4.5 .2 .3 .4-.1 .1 .4 .4-.7 .3 .1 .1-.2 .1 .4 .3-.2 .3 .2 .1-.4 .2 .5 .1-.7 .1 .9 .2-.7 .1 .3 .3 0 .1-.2 .1 .2 .2-.4 .1 .4 .1-.2 .3 .3 .1-.5 .7 .3 .3-.2 .5 .4 .2-.6 .1 .2 .1-.3 .4 .4 .2-.3 .1 .1 .4-.1 .3-.5 .3 .5 .1-.1 .1 .4 .2-.4 .1 .2 .3-.5 .2 .6 .3-.5 .3 .2 .4-.4 .4 .1 .1-.2 .2 .6 .2-.5 .3 .6 .1-.5 .3 .1 .1-.4 .3 0 .2 .3 .1-.5 .1 .4 .4-.2 .2 .4 .1-.5 .1-.1 .2 .3 .1-.2 .1 .2 .4-.1 .3-.5 .2 .8 .1-.6 .1 .3 .2-.3 .2 .1 .2 .3 .4-.6 .5 .7 .1-.8 .2 .3 .1-.3 .3 .4 .1-.5 .2 .5 .4-.3 .1 .4 .3-.6 .2 .4 .2-.1 .1-.5 .4 .4 .3-.4 .1 .5 .3-.6 .3 .3 .1-.3 .1 .3 .3-.1 .3 .4 .1-.5 .1 .2 .2-.2 .1 .4 .4-.5 .2 .3 .2-.5 .3 .2 .1 .5 .2-.3 .5 .1 .1-.6 .2 .4 .4-.1 .1-.6 .2 .5 .1-.3 .1 .4 .2-.3 .2 .1 .2-.4 .1 .3 .1-.2 .2 .4 .2-.4 .2 .4 .2-.4 .4 .1 .2-.2 .1 .4 .2-.2 .1 .3 .3-.6 .1 .4 .1-.3 .2 .1 .1-.5 .3 .7 .2-.7 .2 .4 .2 .2 .3-.6 .2 .4 .4-.3 .1 .4 .1-.4 .2 .3 .2-.3 .3 .3 .3-.3 .1 .2 .1-.4 .3 .5 .3-.7 .1 .5 .2-.4 .5 .2 .1-.3 .4 .3 .2-.2 .2 .2 .3-.2 .2 .3 .1-.5 .1 .4 .3-.1 .1-.3 .2 .3 .2-.5 .2 .2 .1-.2 .3 .5 .2-.5 .6 .3 .1-.3 .2 .3 .1-.3 .1 .2 .2-.5 .4 .4 .4-.5 .1 .3 .4-.2 .1-.4 .2 .3 .4-.9 .3 .7 .4-.2 .1 .5 .3-.1 .1 .5 .1-.5 .4 0 .2 .2 .1-.3 .2 .1 .1 .4 .3-.7 .1 .2 .3-.1 .2 .2 .2-.5 .1 .3 .1-.4 .2 .6 .1-.4 .3 .5 .4-.8 .1 .8 .2-.5 .1 .2 .3-.2 .1 .3 .1-.6 .4 .5 .2-.8 .1 .8 .1-.4 .3 .6 .1-.4 .3 .1 .2-.3 .4 0 .4-.2 .1 .3 .1-.5 .3 .5 .3-.6 .1 .5 .1-.4 .3 .3 .6-.5 .6 .6 .2-.4 .1 .2 .3-.4 .1 .2 .4 0 .3-.3 .9 .3 .4-.6 .3 .4 .1-.2 .2 .3 .1-.4 .3 .1 .1-.3 .2 .5 .4-.7 .2 .6 .3-.6 .5 .3 .2-.3 .1 .6 .4-.5 .3 .3 .1-.5 .3 .3 .3-.4 .2 .2 .3-.4 .1 .2 .2-.6 .1 .4 .3 .1 .5-.8 .6-2.1 .4-6.4 .4-24.8 .5 34.4 .3 3.7 .4 1.9 .3 .8 .1-.6 .1 .6 .4-.2 .2 .8 .2-.8 .2 .7 .1-.2 .3 .1 .1-.2 .3 .3 .1-.4 .3-.1 .1 .5 .2-.3 .4 .3 .2-.3 .2 .5 .4-.4 .5 .2 .4-.1 .4 .3 .3-.5 .1 .3 .4 .1 .2-.2 .1 .1 .2-.5 .1 .8 .1-.3 .3 .1 .3-.3 .1 .3 .3-.3 .1 .3 .4-.2 .1 .3 .2-.4 .2 .5 .2-.5 .1 .2 .2-.4 .1 .4 .1-.4 .2 .1 .2 .5 .4-.4 .3 .6 .3-.7 .1 .1 .1-.1 .2 .4 .3-.5 .1 .3 .3-.2 .2 .4 .2-.4 .1 .2 .1-.3 .3 .6 .3-.4 .2 .3 .3-.3 .2 .3 .2-.4 .2 .2 .1-.4 .1 .2 .4-.1 .2 .4 .8-1.6 .2-2.1 .5-10.1 .5 14.4 .5 2.2 .2-.3 .1 .5 .3-.1 .1 .5 .4-.3 .3 0 .1 .4 .3-.5 .3 .3 .5-.5 .1 .9 .2-.5 .1 .4 .4-.6 .3 .3 .1-.2 .3 .4 .4-.6 .1 .9 .3-.8 .4 .1 .1 .2 .2-.2 .1 .2 .4-.3 .3 .3 .3-.3 .1 .3 .1-.4 .4 .6 .2-.3 .2 .3 .2-.4 .4 .4 .1-.5 .3 .5 .1 0 .2-.4 .2 .4 .3-.6 .3 .6 .1-.5 .1 .5 .3-.6 .1 .4 .2-.4 .1 .6 .2-.2 .1 .3 .1-.7 .3 .6 .4-.2 .4 .2 .1-.7 .4 .3 .7-.2 .6-1.9 .4-7.3 .4 9.2 .2 1.8 .6 1.1 .1-.3 .2 .4 .5-.4 .1 .5 .4-.3 .4 .5 .3-.5 .1 .4 .5-.4 .2 .6 .3-.5 .4 .4 .3-.4 .1 .4 .3-.1 .1 .1 .1-.3 .2 .2 .1-.2 .3 .5 .1-.6 .2 .4 .2 .1 .2 .3 .1-.3 .1 .4 .3-.6 .7 .6 .5-.5 .2 .3 .1-.3 .4 .3 .1-.3 .3 0 .1 .4 .2-.3 .1 0 .4 .6 .1-.4 .2 .2 .1-.5 .2 .5 .2 .1 .2-.3 .2 .4 .2-.3 .5 .1 .1-.3 .4 .2 .2 .3 .4-.6 .1 .3 .3-.2 .1 .7 .2-.8 .2 1.1 .2-.6 .1-.1 .1 .2 .2-.3 .2 .3 .2-.4 .1 .6 .2-.3 .2 .2 .2-.6 .2 .3 .4-.4 .4-1.3 .6-8.2 .4 7.6 .4 2 .3 .6 .1-.3 .4 .7 .1-.4 .3-.2 .1 .2 .2-.2 .1 .9 .1-.6 .6 .2 .1-.5 .2 .6 .2-.2 .2 .4 .2-.6 .3 .4 .4-.4 .1 .2 .3-.2 .2 .4 .2-.3 .3 .3 .1-.8 .2 .3 .4-1.3 .4-5.9 .5 6.5 .6 1.2 .2-.2 .2 .5 .2-.7 .3 .4 .1-.1 .7 .3 .3 .7 .4-.8 .1 .2 .2-.2 .1 .2 .1-.2 .3 .7 .1-.3 .2 .4 .1-.8 .1 .5 .4-.4 .2 .2 .3-.1 .1 .4 .3 0 .1-.3 .3-.1 .1 .4 .4-.3 .3 .3 .2-.2 .3 .4 .2-.5 .1 .3 .3-.3 .4 .5 .1-.4 .3 .1 .2-.2 .2 .4 .4-.4 .2-1 .3-.3 1.1 2.1 .4-.3 .5 0 .2-.1 .1 .2 .2-.2 .2 .1 .2 .6 .4-.8 .1 .4 .1-.2 .2 .3 .2-.4 .2 .4 .2-.5 .2 .3 .1-.2 .2 .3 .2 0" fill="none" stroke="#111" stroke-width="1" stroke-linejoin="round"/><text x="32.6" y="520.2" font-size="8.3" text-anchor="start" fill="#e0741c">UCNP@g-C<tspan font-size="5.5" dy="1.8">3</tspan><tspan dy="-1.8">N</tspan><tspan font-size="5.5" dy="1.8">4</tspan><tspan dy="-1.8">-Ru</tspan></text><text x="120.9" y="523.6" font-size="7.6" text-anchor="middle" fill="#e0741c">F1<tspan font-style="italic">s</tspan></text><text x="141.7" y="516.9" font-size="7.6" text-anchor="middle" fill="#e0741c">O1<tspan font-style="italic">s</tspan></text><text x="160.4" y="516.9" font-size="7.6" text-anchor="middle" fill="#e0741c">N1<tspan font-style="italic">s</tspan></text><text x="175.5" y="503.4" font-size="7.6" text-anchor="middle" fill="#e0741c">C1<tspan font-style="italic">s</tspan></text><text x="188.9" y="535.3" font-size="7.6" text-anchor="middle" fill="#e0741c">Y3<tspan font-style="italic">d</tspan></text><text x="131.8" y="542" font-size="7.6" text-anchor="middle" fill="#e0741c">Ru3<tspan font-style="italic">p</tspan></text><path d="M143.2 536.8L148.6 533.1" stroke="#e0741c" stroke-width="0.9" fill="none"/><path d="M151.4 531.2L149.4 534.2L147.8 532Z" fill="#e0741c"/><path d="M188 536.6L190 540.6" stroke="#e0741c" stroke-width="0.9" fill="none"/><path d="M191.6 543.6L188.8 541.2L191.2 540Z" fill="#e0741c"/><text x="32.6" y="580.7" font-size="8.3" text-anchor="start" fill="#111">UCNP@SiO<tspan font-size="5.5" dy="1.8">2</tspan><tspan dy="-1.8">@g-C</tspan><tspan font-size="5.5" dy="1.8">3</tspan><tspan dy="-1.8">N</tspan><tspan font-size="5.5" dy="1.8">4</tspan></text><text x="128.6" y="581.7" font-size="7.6" text-anchor="middle" fill="#111">F1<tspan font-style="italic">s</tspan></text><text x="141.9" y="553.8" font-size="7.6" text-anchor="middle" fill="#111">O1<tspan font-style="italic">s</tspan></text><text x="160.4" y="580" font-size="7.6" text-anchor="middle" fill="#111">N1<tspan font-style="italic">s</tspan></text><text x="175.5" y="587.7" font-size="7.6" text-anchor="middle" fill="#111">C1<tspan font-style="italic">s</tspan></text><text x="190" y="581.7" font-size="7.6" text-anchor="middle" fill="#111">Si2<tspan font-style="italic">s</tspan></text><text x="204.4" y="589.4" font-size="7.6" text-anchor="middle" fill="#111">Si2<tspan font-style="italic">p</tspan></text><path d="M126 583.4L122.6 588.2" stroke="#111" stroke-width="0.9" fill="none"/><path d="M120.6 591L121.5 587.4L123.7 589Z" fill="#111"/><path d="M189.2 584L190.9 589.5" stroke="#111" stroke-width="0.9" fill="none"/><path d="M191.9 592.8L189.6 589.9L192.2 589.2Z" fill="#111"/><path d="M201.6 590.8L200.8 592.4" stroke="#111" stroke-width="0.9" fill="none"/><path d="M199.2 595.4L199.6 591.8L202 593Z" fill="#111"/><rect x="30.2" y="494" width="184" height="115.7" fill="none" stroke="#111" stroke-width="1.2"/><path d="M50.4 609.7v2.4M77.4 609.7v2.4M104.4 609.7v2.4M131.5 609.7v2.4M158.5 609.7v2.4M185.6 609.7v2.4M212.6 609.7v2.4M199.1 609.7v1.7M172 609.7v1.7M145 609.7v1.7M118 609.7v1.7M90.9 609.7v1.7M63.9 609.7v1.7M36.8 609.7v1.7" stroke="#111" stroke-width="1" fill="none"/><text x="50.4" y="621.9" font-size="9.3" text-anchor="middle" fill="#111">1200</text><text x="77.4" y="621.9" font-size="9.3" text-anchor="middle" fill="#111">1000</text><text x="104.4" y="621.9" font-size="9.3" text-anchor="middle" fill="#111">800</text><text x="131.5" y="621.9" font-size="9.3" text-anchor="middle" fill="#111">600</text><text x="158.5" y="621.9" font-size="9.3" text-anchor="middle" fill="#111">400</text><text x="185.6" y="621.9" font-size="9.3" text-anchor="middle" fill="#111">200</text><text x="212.6" y="621.9" font-size="9.3" text-anchor="middle" fill="#111">0</text><text x="121.9" y="636.2" font-size="12.6" text-anchor="middle" fill="#111">Binding Energy (eV)</text><text transform="translate(23.8 552) rotate(-90)" font-size="12.6" text-anchor="middle" fill="#111">Intensity (arb. units)</text></g><g id="pg"><text x="233.2" y="504.9" font-size="16" text-anchor="start" fill="#000" font-weight="bold">g</text><path d="M267.8 551l6.1-.2 9.2-.6 3.5-.1 4.1 .2 9.2 .8 6.1 .3" fill="none" stroke="#d878a8" stroke-width="1.1" stroke-linejoin="round"/><path d="M309 551.4l4.6-.1 4.1-.3 4-.5 7.6-1.1 2.6-.3 2 0 2.1 .1 2.5 .3 7.6 1.3 4.1 .6 4.1 .3 4.5 .2" fill="none" stroke="#1ea27c" stroke-width="1.1" stroke-linejoin="round"/><path d="M319.7 551.5l5.1-.2 3.5-.5 1.6-.4 2-.6 5.1-2 1.5-.5 1.5-.3 1.5-.1 1.6 .1 1.5 .4 1.5 .5 5.1 2.1 2 .7 1.6 .4 3.5 .6 5.1 .3" fill="none" stroke="#a01e28" stroke-width="1.1" stroke-linejoin="round"/><path d="M323.2 551.6l5.6-.1 4.1-.1 3.6-.3 3-.5 2.6-.6 2.5-.8 7.6-3 2.6-.9 2.5-.5 2-.1 2.1 .1 2.5 .6 2.5 1 7.7 3.1 2.5 .8 2.6 .7 3 .5 3.6 .4 4 .2 5.6 .2" fill="none" stroke="#4aa8ee" stroke-width="1.1" stroke-linejoin="round"/><path d="M337 551.7l7.1 0 4.1-.2 3.5-.4 2.6-.7 2.5-1 2-1.1 2.1-1.4 4.5-3.6 1.6-1 1-.5 1-.4 1.5-.2 1 0 1 .3 1.1 .4 1 .5 1.5 1 4.6 3.7 2 1.4 2 1.2 2.6 1.1 2.5 .6 3.6 .6 4.1 .2 7.1 .2" fill="none" stroke="#2a7fc4" stroke-width="1.1" stroke-linejoin="round"/><path d="M357.3 551.9l3-.1 2.6-.1 2-.4 1.5-.4 1.6-.6 1.5-.7 4.1-2.6 1.5-.8 1.5-.5 1-.2 1.6 .2 1.5 .7 5.6 3.5 1.5 .7 1.5 .6 1.5 .4 2.1 .4 5.1 .3" fill="none" stroke="#f2d23a" stroke-width="1.1" stroke-linejoin="round"/><path d="M330.9 551.6l17.8 .1 8.6-.2 2.5-.2 2.1-.4 1.5-.5 1.5-.7 1.5-1.1 1.1-.9 1.5-1.8 1-1.5 1-1.7 1.5-3.1 4.6-10.7 1.5-3.1 1.1-1.7 1-1.1 .5-.4 .5-.2 .5-.1 .5 .1 .5 .2 .5 .4 1 1.2 1.1 1.6 1.5 3.2 4.6 10.8 1.5 3.1 1 1.7 1 1.6 1.5 1.8 1.1 1 1.5 1 1.5 .8 1.5 .5 2.1 .4 2.5 .3 8.7 .3 17.7 .4" fill="none" stroke="#f0a51e" stroke-width="1.1" stroke-linejoin="round"/><path d="M412.2 552.5l4.1-.3 1.5-.2 1.5-.4 1-.4 1.6-.8 4-2.7 1-.5 1.1-.5 1-.1 1 0 1.5 .6 1.5 .9 3.1 2.2 1.5 .8 1 .5 2.1 .6 2.5 .4" fill="none" stroke="#e0741c" stroke-width="1.1" stroke-linejoin="round"/><path d="M265.3 551.2l.5 .1 1-.7 .5 0 .5 .2 .5 0 1.6 0 .5-.2 1 .5 .5 .1 .5-.2 .5-.3 1-.3 .5 .2 .6 0 .5-.4 .5 .1 .5 .4 .5 .1 .5-.5 .5-.2 .5 .3 .5 0 .5-.2 .5-.1 1.1 .5 1-.8 .5 .1 .5-.3 .5-.1 1.5 .7 .5-.5 1 .3 .6-.3 .5-.1 .5 .2 1 .1 .5-.2 .5 0 .5 .5 .5 .3 1.5 .2 .6-.3 1.5-.3 .5 0 .5 .3 .5 .6 .5-.2 1 .1 .5-.2 .5 .1 .6-.1 .5 .1 .5 .5 1-.4 1.5 .5 .5-.2 1 0 .5-.3 .6 .2 .5 0 .5-.2 .5 .4 1-.3 .5 .3 .5 0 1-.8 .5 0 .5 .4 1.1-.1 1 .2 .5-.1 .5 .2 1-.4 .5 .5 .5 .1 .5-.6 .5-.2 1.1 .4 .5-.1 1-.6 1 .2 1-.4 1-.1 1.1-.3 .5 .1 .5-.1 .5-.5 1-.1 1-.5 .5-.6 1 .1 1.1-.5 1-.7 .5-.1 .5 .1 .5 0 .5-.7 1-.5 .5-.4 .5-.1 .5-.2 .6-.7 .5-.3 1.5 0 1-.5 .5 0 .5-.3 1 0 .5-.3 .6 0 1-.2 1 .2 1-.1 1 .4 1-.2 .5 .1 .6-.2 .5 .5 .5 .2 .5-.7 .5 .2 .5 .1 .5-.3 .5 .2 1-.6 1-.2 1.1-.8 1 .1 1-.3 .5-.3 2-2.2 1.6-.5 1.5-1.9 1-.6 .5-.4 .5-.8 1-.6 1-2 3.6-5.3 2-4.7 .5-.7 1.6-3.1 .5-1.3 2.5-4.5 1-1.1 1.6-.4 .5-.4 .5 0 .5 .8 .5 .5 .5 .7 1.5 2.8 .5 1.7 1.1 2.2 1.5 4.3 .5 1.5 1 4 1.5 4.5 1.6 4.3 1 2.3 1 1.4 .5 1.4 2 3.2 .5 1.2 .5 .8 .6 .1 .5 .6 2 1.5 1 .1 .5 .4 .5-.1 2.1 1 1 0 .5 .1 .5-.3 .5-.1 .5 .3 1 .2 .5 .1 .5-.1 .6 .2 .5 .5 1-.6 .5 .1 1 .4 1-.8 1.5-.2 1.6 .4 .5 .3 1-.9 .5-.1 .5 .2 .5-.2 .5-.6 1-.1 .6-.3 1-.3 1.5-1.5 .5-.2 .5-.7 1.5-.8 .5-.2 1.1 .3 .5-.2 .5 .1 1-.6 .5 .3 .5 .8 1 .6 .5 .5 .5 0 .6 .3 .5 .9 .5 .2 .5-.3 1.5 1.4 1 .4 .5 0 .5 .3 .5 .8 .6 .2 .5-.4 1-.2 .5 .1 .5 .5 .5-.1" fill="none" stroke="#111" stroke-width="1.2" stroke-linejoin="round"/><path d="M265.3 550.9l7.1-.1 10.2-.7 3.5-.1 4.1 .1 9.7 .8 5 .2 6.1 0 5.6-.3 2.6-.3 2.5-.4 2.6-.6 2-.6 2-.8 2.1-.8 6.6-3.2 1.5-.6 1.5-.4 1.5-.3 1.6-.1 4.5 .4 2.1 0 2-.3 2-.5 1.6-.7 1.5-.8 1.5-.9 1.5-1.1 1.6-1.2 1.5-1.4 1.5-1.6 1-1.2 2.1-2.8 2-3.5 1.5-2.9 3.6-7.4 1.5-2.8 1-1.6 1-1.1 .5-.4 .6-.2 .5-.2 .5 .1 .5 .2 .5 .3 .5 .6 1 1.4 1 2 1 2.5 1.1 2.9 3.5 10.9 1.5 4.4 1.6 3.9 1.5 3.2 1 1.8 1.5 2.1 1.6 1.7 1.5 1.1 1 .6 1.5 .6 1.6 .4 2 .3 2.5 .2 3.6 .2 3 0 2.1-.1 2-.4 1.5-.6 2.1-1 3-2 1.5-.9 1.1-.4 .5-.1 1-.1 1 .2 1.5 .8 4.1 2.8 2 1.1 1 .4 1.6 .5 2.5 .4" fill="none" stroke="#f7cf4a" stroke-width="0.8" stroke-dasharray="1 1.2"/><path d="M265.3 551.1l177.9 1.8" fill="none" stroke="#111" stroke-width="0.9" stroke-dasharray="2 1.6"/><path d="M284.1 603.3l16.8 .1 7.6-.1 2.5-.2 2.6-.3 2-.5 1.5-.5 1.6-.7 1.5-.9 1.5-1.1 1-.9 1.6-1.5 1.5-1.7 5.6-7.2 2-2.2 1-.9 1-.7 1.1-.5 1-.2 1 .1 1 .4 1 .6 1 .8 2.1 2.2 5.6 7.3 2.5 2.9 1.5 1.5 1.6 1.2 1.5 1 2 1 1.5 .6 2.1 .5 2.5 .4 2.6 .2 7.6 .4 16.8 .3" fill="none" stroke="#1ea27c" stroke-width="1.1" stroke-linejoin="round"/><path d="M313.6 603.7l10.2 0 6.1-.1 4.5-.4 3.6-.6 3.5-1.1 3.1-1.3 3-1.7 5.6-3.4 2.6-1.4 1.5-.5 1-.3 2-.3 1.1 .1 1.5 .2 1 .3 1.5 .7 2.6 1.4 5.6 3.6 3 1.7 3.1 1.4 3.5 1.2 3.6 .7 4.6 .5 6.1 .3 10.1 .2" fill="none" stroke="#4aa8ee" stroke-width="1.1" stroke-linejoin="round"/><path d="M319.2 603.8l22.3 .1 10.7-.1 3.1-.2 2-.3 2-.5 2.1-.8 1.5-.8 1.5-1.1 1.5-1.5 1.6-1.9 1.5-2.3 1.5-2.7 1.5-3.1 4.1-8.6 2-3.7 1.1-1.5 1-1.1 1-.7 1-.2 1 .3 1 .7 1.1 1.1 1 1.5 2 3.7 5.1 10.9 1.5 2.8 1.5 2.5 1.6 2.1 1.5 1.6 1.5 1.3 1.5 1 2.1 .9 2 .6 2 .4 3.1 .3 10.2 .4 21.3 .5" fill="none" stroke="#f0a51e" stroke-width="1.1" stroke-linejoin="round"/><path d="M265.3 603.1l.5 0 .5 .3 .5 0 .5-.3 .5 .3 .5-.2 .6-.4 1 .3 .5-.2 .5 0 1 .3 1-.5 1 1 .5-.5 .6-.2 .5 .1 .5-.2 1 .1 1 .5 1-.4 1.5 .2 1.1-.2 2 .2 .5 .2 1 0 .5-.1 .5-.3 1.6 .2 1 .4 1.5-.5 .5 .3 .5 0 .5-.4 .5-.2 .5 .1 .6 .4 1.5 .4 1-.6 1 .2 .5-.3 1.5 .4 .6 0 .5-.7 1.5 .4 .5 .6 1-.8 .5-.2 1 .5 .5-.2 .6 0 .5 .4 .5 .1 .5-.3 1.5 .1 1-.5 1-.2 .5 .3 .6-.1 .5-.2 1-.3 .5 .2 .5-.1 .5-.3 1 0 .5-.1 .5-.2 .5-.7 .6-.1 .5 .2 .5-.2 .5-.5 .5-.1 .5-.4 .5-.6 .5-.2 .5-.6 1-.7 .5-1 .6-.7 1-.1 1-1.9 .5-.1 .5-.5 1.5-3 1-1 1.1-1.9 .5-.3 .5-.4 .5-.8 1-1.3 .5-.3 .5-.2 .5-.3 1-1.2 2.1-.9 1-1 1 .6 1.5-.1 1.1 1.3 .5-.2 .5 .4 1 .9 .5 .8 .5 .2 .5-.2 2 1.9 .6 .3 2.5 1.4 .5-.1 2 1.2 1.6-.1 .5-.3 1 .5 1 0 .5-.2 .5 0 1-.2 .5 .2 .5-.1 .6-.4 .5-.1 1 .3 .5 0 1-.7 1-.1 .5-.5 1-.2 .6-.4 1.5-1.8 1-.6 .5-.4 .5-.6 .5-.8 .5-.4 .5-.8 .5-1.3 1.6-1.9 1-1.9 1-1.1 .5-1.2 1.5-1.8 .5-.2 1.1-1.1 1-.5 1 .2 1-.2 .5 .4 1 1.2 1.1 .9 1 1.9 .5 .5 1.5 3.6 2 4.2 3.1 7.3 1.5 3 .5 .6 .5 1 1 1.2 .6 1 1 1.2 1 .7 1.5 1.9 1 .4 1 .7 1.1 0 .5 .7 1 0 1 .5 .5 .1 1-.2 .5 0 .5 .6 .6-.1 1 .2 1-.4 1 .5 .5-.2 1-.1 .5 .5 .5 .1 2.6 0 .5 .5 .5 .1 1-.6 .5 .1 .5 .4 1.1-.9 .5 .6 .5 .4 .5-.4 1.5 .3 .5-.2 .5 .2 .5 .1 .5-.5 .5-.1 2.1 .3 .5-.5 .5-.2 .5 .8 .5 .2 1-.4 .5 .3 .5 .1 .6-.3 .5 .4 .5 0 .5-.2 .5 .1 1.5-.4 .5 .4 2.1-.3 .5 .2 .5-.2 1 .4 1-.1" fill="none" stroke="#111" stroke-width="1.2" stroke-linejoin="round"/><path d="M265.3 603.1l24.9 .2 14.2-.1 3.6-.1 2.5-.2 2.6-.3 2-.4 2-.7 2.1-1 2-1.3 1.5-1.3 1.6-1.5 2-2.4 5.1-6.9 1.5-1.9 1-1.1 1-1 1.6-1 1-.4 1-.2 1 .1 1.5 .4 1.1 .5 1 .7 4 3 2.1 1.4 2 1 1.5 .5 2.1 .3 2.5 .1 3-.2 2.6-.5 1.5-.5 1.5-.7 1.6-1 1.5-1.3 1-1.1 1.5-1.9 1.6-2.2 3.5-5.4 1.5-1.9 1.1-1 1-.7 1-.4 .5 0 .5 .1 .5 .2 1 .8 1 1.1 1.6 2.4 2 4 3.6 8 1.5 3.2 1.5 2.9 1.5 2.6 1.6 2.1 1.5 1.7 1.5 1.3 1.5 1 2.1 .9 2 .6 2 .4 3.1 .3 4.1 .3 6.1 .2 21.3 .5" fill="none" stroke="#f7cf4a" stroke-width="0.8" stroke-dasharray="1 1.2"/><path d="M265.3 603.2l177.9 2.3" fill="none" stroke="#111" stroke-width="0.9" stroke-dasharray="2 1.6"/><path d="M265.3 556.3H443.2" stroke="#8a8a8a" stroke-width="1.3"/><path d="M273.7 500.3H292.1" stroke="#111" stroke-width="1.3"/><text x="294.6" y="503.3" font-size="8.3" fill="#111">Original</text><path d="M329 500.3H347.5" stroke="#111" stroke-width="1.2" stroke-dasharray="2.1 1.7"/><text x="349.9" y="503.3" font-size="8.3" fill="#111">Background</text><path d="M398.9 500.3H416.4" stroke="#f5e28a" stroke-width="1" stroke-dasharray="1 1" opacity="0.8"/><text x="420.4" y="503.3" font-size="8.3" fill="#111">Fit</text><text x="284.7" y="546.3" font-size="6" text-anchor="middle" fill="#d878a8" stroke="#d878a8" stroke-width="0.18">C-F</text><text x="318" y="544.6" font-size="6" text-anchor="middle" fill="#1ea27c" stroke="#1ea27c" stroke-width="0.18">N-C=N</text><text x="332.4" y="537.9" font-size="6" text-anchor="middle" fill="#a01e28" stroke="#a01e28" stroke-width="0.18">O=C-O</text><text x="351.6" y="528.8" font-size="6" text-anchor="middle" fill="#4aa8ee" stroke="#4aa8ee" stroke-width="0.18">C-NH<tspan font-size="3.6" dy="1.5">x</tspan></text><text x="351.6" y="537.9" font-size="6" text-anchor="middle" fill="#4aa8ee" stroke="#4aa8ee" stroke-width="0.18">C≡N</text><text x="355.9" y="518.7" font-size="6" text-anchor="middle" fill="#2a7fc4" stroke="#2a7fc4" stroke-width="0.18">Pyridine C</text><text x="395.5" y="522.1" font-size="6" text-anchor="middle" fill="#f0a51e" stroke="#f0a51e" stroke-width="0.18">C-C</text><text x="383.8" y="542.2" font-size="6" text-anchor="middle" fill="#f2d23a" stroke="#f2d23a" stroke-width="0.18">Ru3<tspan font-style="italic">d</tspan><tspan font-size="3.6" dy="1.5">3/2</tspan></text><text x="428.8" y="541.6" font-size="6" text-anchor="middle" fill="#e0741c" stroke="#e0741c" stroke-width="0.18">Ru3<tspan font-style="italic">d</tspan><tspan font-size="3.6" dy="1.5">5/2</tspan></text><text x="338.1" y="575.8" font-size="6" text-anchor="middle" fill="#1ea27c" stroke="#1ea27c" stroke-width="0.18">N-C=N</text><text x="360.3" y="572.5" font-size="6" text-anchor="middle" fill="#4aa8ee" stroke="#4aa8ee" stroke-width="0.18">C-NH<tspan font-size="3.6" dy="1.5">x</tspan></text><text x="359.3" y="581.5" font-size="6" text-anchor="middle" fill="#4aa8ee" stroke="#4aa8ee" stroke-width="0.18">C≡N</text><text x="382.8" y="566.8" font-size="6" text-anchor="middle" fill="#f0a51e" stroke="#f0a51e" stroke-width="0.18">C-C</text><rect x="265.3" y="493.8" width="177.9" height="115.9" fill="none" stroke="#111" stroke-width="1.2"/><path d="M265.3 609.7v2.4M290.7 609.7v2.4M316.1 609.7v2.4M341.5 609.7v2.4M367 609.7v2.4M392.4 609.7v2.4M417.8 609.7v2.4M443.2 609.7v2.4M430.5 609.7v1.7M405.1 609.7v1.7M379.7 609.7v1.7M354.2 609.7v1.7M328.8 609.7v1.7M303.4 609.7v1.7M278 609.7v1.7" stroke="#111" stroke-width="1" fill="none"/><text x="265.3" y="621.5" font-size="9.3" text-anchor="middle" fill="#111">294</text><text x="290.7" y="621.5" font-size="9.3" text-anchor="middle" fill="#111">292</text><text x="316.1" y="621.5" font-size="9.3" text-anchor="middle" fill="#111">290</text><text x="341.5" y="621.5" font-size="9.3" text-anchor="middle" fill="#111">288</text><text x="367" y="621.5" font-size="9.3" text-anchor="middle" fill="#111">286</text><text x="392.4" y="621.5" font-size="9.3" text-anchor="middle" fill="#111">284</text><text x="417.8" y="621.5" font-size="9.3" text-anchor="middle" fill="#111">282</text><text x="443.2" y="621.5" font-size="9.3" text-anchor="middle" fill="#111">280</text><text x="354.4" y="635.3" font-size="12.2" text-anchor="middle" fill="#111">Binding Energy (eV)</text><text transform="translate(258.4 551.6) rotate(-90)" font-size="12.6" text-anchor="middle" fill="#111">Intensity (arb. units)</text></g><g id="ph"><text x="462.2" y="504.4" font-size="16" text-anchor="start" fill="#000" font-weight="bold">h</text><path d="M554.4 548.6l3.7-.1 3.2-.3 3.2-.5 6.4-1.1 3.2-.3 1.6 .1 2.1 .3 6.4 1.4 3.1 .6 3.2 .3 3.2 .2" fill="none" stroke="#1ea27c" stroke-width="1.1" stroke-linejoin="round"/><path d="M547.5 548.5l5.8 0 4.3-.1 3.7-.3 3.2-.4 2.6-.5 3.2-.8 8-2.5 2.7-.7 2.6-.5 2.7-.2 2.6 .3 2.7 .6 2.7 .8 7.9 2.8 3.2 .9 2.7 .6 3.2 .4 3.7 .4 9.6 .4" fill="none" stroke="#4aa8ee" stroke-width="1.1" stroke-linejoin="round"/><path d="M556 548.6l10.6 .1 4.8-.1 3.2-.4 1.6-.5 1-.5 1.6-1 1.1-.9 1.1-1.2 1-1.4 1.6-2.6 3.7-6.8 1.6-2.3 1.1-1.1 .5-.4 .6-.1 .5-.1 .5 .2 .6 .2 .5 .5 .5 .5 1.1 1.5 1.1 1.7 3.7 7 1 1.7 1.1 1.5 1.6 1.8 1.1 .9 1 .7 1.1 .6 1.6 .5 1.6 .4 1.6 .2 4.8 .3 11.1 .3" fill="none" stroke="#e0741c" stroke-width="1.1" stroke-linejoin="round"/><path d="M551.7 548.6l14.4 .1 7.4-.1 4.8-.4 2.1-.3 2.2-.5 2.1-.6 1.6-.7 1.6-.8 1.6-.9 3.2-2.3 6.3-5.3 2.7-1.8 1.1-.5 1-.4 1.1-.3 1.1 0 1 0 1.1 .3 1 .4 1.6 .8 2.7 2 5.8 5 3.2 2.4 1.6 1 1.6 .9 1.6 .7 2.1 .8 2.2 .6 2.1 .4 2.7 .3 2.6 .3 7.5 .3 14.3 .3" fill="none" stroke="#f0a51e" stroke-width="1.1" stroke-linejoin="round"/><path d="M572.5 548.9l13.3 .1 6.3-.1 2.2-.2 1.6-.2 1.5-.4 1.6-.7 1.6-.9 1.1-.8 1.6-1.7 1.1-1.3 2.1-3.3 4.2-7.7 1.6-2.4 1.1-1.2 .5-.4 .6-.3 .5-.2 .5 0 .6 .1 1 .6 .6 .5 1 1.3 1.6 2.6 4.3 7.8 1.6 2.6 1 1.4 1.1 1.2 1 1 1.1 .9 1.1 .6 1.6 .8 1.6 .4 1.6 .3 2.1 .3 6.4 .3 13.8 .4" fill="none" stroke="#2a7fc4" stroke-width="1.1" stroke-linejoin="round"/><path d="M496.4 547.5l1.1 .4 .5-.1 .6 .4 2.1 .1 1.1-1 .5 0 1.1 .6 1 .2 .6-.2 .5 .5 .5 .1 1.1-.9 1 .8 .6-.6 .5-.2 .5 .3 .6-.3 .5-.2 .5 .8 1.1-.5 .5 .8 .6-.3 .5-.5 1.1 .4 .5 .1 .5-.5 .5-.3 .6 .4 1 .4 .6 0 .5-.4 .5 .6 .6 0 .5-.6 .5 0 1.6 .5 1.1-.4 .5 0 1.1 1 1-.7 .6 .1 1-.4 .6 0 .5-.4 .5 0 1.1 1 1.1-.5 .5 .2 .5 .6 .6-.4 .5-.6 .5 .1 .6 .3 1-.1 1.6 .2 .5-.3 .6 .3 .5-.2 .5-.4 1.1 .9 .5-.2 .6-.7 .5 .2 .5 .6 .6-.3 .5-.5 .5 .3 .6 .8 1-.1 1.1-.6 .5 0 .5-.3 1.1 .1 1.1-.1 1.6 .3 .5-.3 .5 .1 1.1-.3 .5 .4 .6-.6 .5-.1 .5 .7 .5 .2 1.1-.8 1.6 .2 1.6-.2 1.1-1 .5-.1 .5 .1 .6-.2 .5-.1 1.1-.9 1.5-.2 1.6-1.4 .6-.1 .5 .2 1.1-.7 .5 .1 1.6-1.9 .5-.3 .6 .4 1-.9 .6 .1 .5-.4 2.1-2.3 .5 .2 .6-.6 .5-1.4 1.6-1.7 1.6-3.6 1.1-1.2 1-3 1.6-3.6 .5-.6 1.1-2.4 .5-.4 .6-1.1 .5-.8 .5-.3 .6-.8 1-.1 .6-.3 1 .1 .6 .4 .5 .5 .5 .9 1.6 1.5 2.1 2.6 .6-.2 .5 .2 1.1 1.1 .5 .2 1.1 .1 1-1 .6-.1 .5-.5 .5 .3 .6-.1 .5-1.6 .5-1.1 1.1-.6 1-1.9 1.1-.4 1.1-.8 .5-.2 .5-.6 .6-.3 .5 .2 .5-.3 .6 .6 1 .4 1.1 2 1.1 1.4 .5 1.5 2.1 4.5 1.1 2.6 1 3.8 .6 .8 1 2.9 .6 .6 .5 1.1 1.1 2.8 .5 .6 1.1 2.2 1 .9 1.1 2 1 .4 1.1 1.1 .5 .2 1.1 1.3 1.1 0 1 .8 .6-.7 .5 .2 .5 .5 .6-.4 .5 .1 1 .4 .6 .4 .5-.4 .5 0 .6 .7 .5-.7 .5 .1 .6 .7 .5 0 .5 .2 .6-.2 .5-.5 1.6 .3 .5-.4 .6-.2 .5 1.2 .5 .2 .5-.4 .6 0 .5-.3 1.1 .4 1-.4 .6 .2 .5-.1 .5-.3 1.1 .9 .5-.3 1.1 .4 1.1-.6 1 .2 .5-.2 .6 0 1 .5 .6-.3 .5 .1 .5 .6 .6 .2 .5-1 .5-.2 .6 .4 1-.4 1.1 1 1.1-.3 1 .1 2.1-.7 .6 .2 2.1 .2 1.1-.2 .5 .7 .5 .1 .6-.4 1 .3 .6-.3 .5 0 .5-.5 .5 .2 .6 .5 .5 .1 .5-.3 1.1 .1 .5-.5 .6-.1 .5 .4 .5 .1" fill="none" stroke="#111" stroke-width="1.2" stroke-linejoin="round"/><path d="M496.4 547.7l35.7 .4 17.5 .1 4.3-.1 3.1-.3 2.7-.4 2.7-.6 2.1-.7 2.1-.9 2.7-1.3 3.2-1.8 2.1-1.2 1.6-1.1 1.6-1.2 1-1.1 1.1-1.2 1.1-1.5 1.6-2.6 1.6-3.1 3.1-6.9 1.6-3 1.1-1.6 .5-.5 .6-.5 .5-.3 .5-.1 .6 0 .5 .1 .5 .2 .6 .4 1 .9 2.7 2.9 1.6 1.5 1 .6 .6 .2 1 .2 1.1-.2 .5-.2 1.1-.7 1.6-1.5 3.2-3.5 1-1 1.1-.8 .5-.3 .6-.1 .5-.1 .5 .1 .6 .2 .5 .4 .5 .4 1.1 1.4 1.1 1.8 1.5 3.5 3.8 9.6 1.6 3.8 1.6 3.4 1 1.9 1.1 1.6 1.6 2 1.6 1.5 1.6 1 1 .5 1.1 .4 2.1 .5 2.7 .4 3.7 .3 5.8 .3 8.6 .3 26.5 .6" fill="none" stroke="#f7cf4a" stroke-width="0.8" stroke-dasharray="1 1.2"/><path d="M496.4 547.8l188.2 3" fill="none" stroke="#111" stroke-width="0.9" stroke-dasharray="2 1.6"/><path d="M552.3 603.5l4.2-.2 3.2-.3 3.2-.6 6.4-1.6 2.1-.3 1.6 0 1.6 .1 1.6 .3 6.4 1.7 3.2 .7 3.7 .5 4.2 .3" fill="none" stroke="#1ea27c" stroke-width="1.1" stroke-linejoin="round"/><path d="M539 603.3l12.2 .1 6.4-.2 4.8-.4 3.7-.7 2.1-.6 1.6-.6 3.2-1.6 2.7-1.7 5.8-4.1 2.7-1.6 1.6-.6 1-.4 1.1-.1 1-.1 1.1 .1 1.1 .3 1 .3 1.6 .8 2.2 1.3 5.8 4.3 3.2 2.1 3.2 1.6 1.6 .7 2.1 .7 3.7 .7 4.8 .6 6.4 .3 12.2 .2" fill="none" stroke="#4aa8ee" stroke-width="1.1" stroke-linejoin="round"/><path d="M535.3 603.2l25.5 .2 12.2-.1 3.7-.2 2.7-.3 2.1-.4 2.1-.8 2.2-1 1.5-1.1 1.6-1.5 1.6-1.7 1.6-2.1 2.2-3.3 1.6-2.8 4.7-8.9 2.2-3.3 1.6-2 1-.8 1.1-.6 1-.1 1.1 .3 1.1 .6 1 1 1.6 2.1 2.2 3.5 5.8 10.9 2.1 3.5 1.6 2.2 1.6 1.8 1.6 1.5 1.6 1.2 2.1 1.2 2.2 .8 2.1 .6 2.7 .4 3.7 .3 12.2 .5 26 .5" fill="none" stroke="#f0a51e" stroke-width="1.1" stroke-linejoin="round"/><path d="M496.4 602.6l1.1 .2 .5-.2 .6 .1 1-.6 1.6 .5 .6 0 1 .4 .6 0 .5-.2 .5 0 1.6 .6 .5-.4 1.1-.4 1.6 .1 .5-.2 .6-.4 1 1.5 .6-.1 1-1.4 1.1 .1 1.1 .7 1-.1 .5-.2 .6 .6 .5 .4 .5-.7 1.1 .2 .5-.4 .6 .5 .5-.1 .5-.4 .6 .2 1 1 .6-.4 .5 0 1.1-.8 .5 .6 .5 0 .5-.2 1.6 .2 .6-.5 .5-.2 1.1 .4 1-.5 .6 .7 1 .6 .6-.1 .5-1.3 .5 .3 .6 .7 1-.7 .5 0 .6 .5 .5 .1 .5-.1 1.1 .1 .5-.4 .6 0 1 .8 .6-.1 .5-.7 1.1 .7 1-.9 .6 .5 .5-.1 .5-.5 .5 .4 1.1-.2 .5 .4 .6-.1 .5-.4 .5-.1 1.1 .7 .5-.2 1.6 0 .6 .7 .5-.1 .5-.6 .6 .1 .5 .2 1.6-1 .5-.1 .5 .6 .6 0 1-.9 1.1-.3 .5-.5 2.2-.6 .5-.4 1.1-.1 .5-1.1 .5-.5 .5 .4 .6-.4 .5 .1 .5-.3 1.1-1.3 .5 0 1.1-1.1 .5-.1 1.1-.6 1.1-1.1 .5 0 .5-.3 1.1 0 .5-.9 1.1-.3 .5-.4 .5 .1 .6-.2 .5-.9 .5-.5 1.6-.7 1.1-2.2 .5-.2 .6 .2 .5-.4 .5 .3 .6-.2 1-1.4 1.1-.9 .5-1 .5-.4 .6-.1 .5-.7 1.1-.3 1-2.4 .6 .1 .5 .2 .5-.6 1.1-1.9 .5-.3 .6-.4 .5-.8 1-.7 1.1-1.9 .5-.3 .6-.7 .5-.4 1.1-1.4 1.6-.8 .5-.9 1.1-.7 1 .2 .6-.2 1 .5 1.1-.1 1 1.7 .6 .3 1 1.3 1.1 1.8 .5 .5 2.7 5 1.6 3.8 .5 1 .6 .5 .5 .9 1 2.6 .6 .7 .5 1.1 .5 .8 .6 .4 1 2.2 .6 .7 1 2.3 1.1 .7 1.1 1.1 1 1.4 .6 .4 .5 .1 1-.1 .6 .7 .5 .4 .5 .1 .6 .8 .5 .4 .5 0 .6 .1 1 .6 1.1-.6 .5 .2 .6 .3 .5 .8 .5 .2 .6-.5 1 .6 .5-.4 .6-.7 .5 .8 .5 .5 .6-.7 .5 .4 .5-.1 .6-.3 .5-.1 1.1 .5 .5-.2 .5 .4 .6 0 .5 .4 .5 0 .6-.9 .5 .2 .5 .6 .5 .1 1.1-.7 .5 .1 .6 .4 1 .1 .6 .2 .5-.1 .5-.4 .6-.6 .5 .3 .5 .8 .6 .2 .5-.6 .5 0 .6 .3 .5-.1 1-.6 .6 .2 .5 .6 .5-.1 .6-.2 .5 .4 .5-.1 .6-.4 .5-.1 .5 .5 .6 0 .5-.6 .5 0 .6 .4 1.6 .6 .5-.1 1-.9 .6 .2 .5 .6 .5 .1 .6 0 .5-.3 .5 0 .6-.2 .5-.5 .5 0 1.1 1.1 .5 0 .6 .3 1-.8 .6 .2 .5-.2 .5 .3 .5 .1 .6-.5 1 .5 .6-.2 .5 .3 .5 0 .6-.3 .5 .2 .5 .4" fill="none" stroke="#111" stroke-width="1.2" stroke-linejoin="round"/><path d="M496.4 602.7l34.6 .4 18.1 0 3.7-.1 3.2-.3 2.6-.4 2.7-.6 2.7-1.1 3.1-1.6 5.9-3.7 6.4-3.8 3.7-2.5 4.2-3.4 2.2-1.8 2.1-2 2.7-2.7 5.3-6.1 2.1-2.1 1.1-.9 1-.6 1.1-.4 1.1-.2 1 .2 .5 .3 1.1 .7 1.1 1 1.6 2.1 1 1.8 1.6 2.9 4.3 8.6 2.1 4 2.1 3.5 1.6 2.3 1.6 1.8 1.6 1.6 1.6 1.2 2.1 1.2 2.2 .9 2.6 .6 2.7 .4 3.7 .3 5.3 .3 9.1 .3 28.1 .6" fill="none" stroke="#f7cf4a" stroke-width="0.8" stroke-dasharray="1 1.2"/><path d="M496.4 602.8l188.2 2.7" fill="none" stroke="#111" stroke-width="0.9" stroke-dasharray="2 1.6"/><path d="M497 554.6H684.3" stroke="#8a8a8a" stroke-width="1.3"/><path d="M507.7 500.3H527.2" stroke="#111" stroke-width="1.3"/><text x="529.6" y="503.3" font-size="8.3" fill="#111">Original</text><path d="M565.8 500.3H584.3" stroke="#111" stroke-width="1.2" stroke-dasharray="2.1 1.7"/><text x="587.6" y="503.3" font-size="8.3" fill="#111">Background</text><path d="M639 500.3H658.2" stroke="#f5e28a" stroke-width="1" stroke-dasharray="1 1" opacity="0.8"/><text x="661.5" y="503.3" font-size="8.3" fill="#111">Fit</text><text x="560.8" y="541.6" font-size="6" text-anchor="middle" fill="#1ea27c" stroke="#1ea27c" stroke-width="0.18">NH<tspan font-size="3.6" dy="1.5">x</tspan></text><text x="570.8" y="533.2" font-size="6" text-anchor="middle" fill="#4aa8ee" stroke="#4aa8ee" stroke-width="0.18">N-(C)<tspan font-size="3.6" dy="1.5">3</tspan></text><text x="577.6" y="522.1" font-size="6" text-anchor="middle" fill="#e0741c" stroke="#e0741c" stroke-width="0.18">N-Ru</text><text x="601" y="513" font-size="6" text-anchor="middle" fill="#f0a51e" stroke="#f0a51e" stroke-width="0.18">C-N=C</text><text x="638" y="525.5" font-size="6" text-anchor="middle" fill="#2a7fc4" stroke="#2a7fc4" stroke-width="0.18">Pyridine N</text><text x="560.8" y="595.3" font-size="6" text-anchor="middle" fill="#1ea27c" stroke="#1ea27c" stroke-width="0.18">NH<tspan font-size="3.6" dy="1.5">x</tspan></text><text x="575.9" y="583.6" font-size="6" text-anchor="middle" fill="#4aa8ee" stroke="#4aa8ee" stroke-width="0.18">N-(C)<tspan font-size="3.6" dy="1.5">3</tspan></text><text x="609.5" y="565.8" font-size="6" text-anchor="middle" fill="#f0a51e" stroke="#f0a51e" stroke-width="0.18">C-N=C</text><rect x="497" y="492.8" width="187.3" height="116.9" fill="none" stroke="#111" stroke-width="1.2"/><path d="M510.4 609.7v2.4M537 609.7v2.4M563.6 609.7v2.4M590.1 609.7v2.4M616.7 609.7v2.4M643.3 609.7v2.4M669.9 609.7v2.4M683.2 609.7v1.7M656.6 609.7v1.7M630 609.7v1.7M603.4 609.7v1.7M576.8 609.7v1.7M550.3 609.7v1.7M523.7 609.7v1.7M497.1 609.7v1.7" stroke="#111" stroke-width="1" fill="none"/><text x="510.4" y="621.9" font-size="9.3" text-anchor="middle" fill="#111">406</text><text x="537" y="621.9" font-size="9.3" text-anchor="middle" fill="#111">404</text><text x="563.6" y="621.9" font-size="9.3" text-anchor="middle" fill="#111">402</text><text x="590.1" y="621.9" font-size="9.3" text-anchor="middle" fill="#111">400</text><text x="616.7" y="621.9" font-size="9.3" text-anchor="middle" fill="#111">398</text><text x="643.3" y="621.9" font-size="9.3" text-anchor="middle" fill="#111">396</text><text x="669.9" y="621.9" font-size="9.3" text-anchor="middle" fill="#111">394</text><text x="590.3" y="635.5" font-size="12.8" text-anchor="middle" fill="#111">Binding Energy (eV)</text><text transform="translate(489.4 551.6) rotate(-90)" font-size="12.7" text-anchor="middle" fill="#111">Intensity (arb. units)</text></g><g id="pi"><text x="1.1" y="664.2" font-size="16" text-anchor="start" fill="#000" font-weight="bold">i</text><path d="M30.2 702.5l.3-.1 .4 2.2 .4-4.4 .3 3.9 .4-4.8 .4 2.9 .3-.1 .4 2.7 .4-2.2 .3-1.2 .4 3.9 .4 .4 .3-4.5 .4 2.7 .4-2.2 .3 1.2 .4 .2 .4-3 .3 2.6 .4-2.2 .4 .1 .3 1.1 .4-3 .4 1 .4 3.3 .3 .8 .4 .4 .4-2.6 .7 4 .4-.8 .3-5 .4-.7 .4 4.2 .3 1.6 .4-2.5 .4 1.9 .3-1.4 .4 0 .4 .1 .3-.2 .4-1.2 .4 4.4 .3-1.9 .4-2.9 .4 .6 .3-1.5 .4 2.9 .4-3.7 .7 4.2 .4-.4 .4 0 .3-3.5 .4 3.8 .4-1.8 .3 2.8 .4-3.2 .4 3.8 .3-2.5 .4 .6 .4-2.3 .7-.1 .4 2.6 .3-2.9 .4 .6 .4 2.4 .7-3 .4 .9 .3-3.4 .4-.4 .7 8 .4-1.7 .4 .8 .4-4 .3-2.4 .4 2.8 .7-8.3 .4 6.1 .4 .9 .3-1.1 .4 1.3 .7-3.2 .4-3.2 .4 1.3 .3-2.5 .4 1.1 .4 3.9 .3-3.8 .4-.2 .4-2.6 .3 5.9 .4-9.5 .4 1.6 .3 3.2 .4-3.7 .4-.5 .3 2.2 .4 .2 .4-.3 .4-3.1 .3 3.1 .4-3.8 .4 .6 .3 .1 .4 2.8 .7-1.8 .4 2.3 .4-1.6 .3 1.5 .4 .9 .4 0 .3-.3 .4 0 .4 5.1 .3-5.6 .4 5.1 .4-1.6 .3 .6 .4-1.6 .4 3.9 .3-.6 .4 3.6 .4-2.8 .3-.7 .4 .2 .4 4.5 .4-.5 .3-1.5 .4 4.2 .4-2.4 .3-.9 .4 1.8 .4-3 .3 2.6 .4-2.3 .4 3.5 .3 .3 .4-1.3 .4 2.4 .3-3.4 .4 2.6 .4-1.2 .3-2 .4 3.7 .7 4.8 .4-5.7 .4 .8 .3 2.4 .4-5.3 .4 5.1 .4-6.2 .3 1 .4 1.9 .4-.3 .3 2.7 .4-3.9 .4 1.8 .3-.4 .8 2 .3 .6 .4-1.2 .4 .2 .3-.6 .4-3.2 .4-.4 .3 4.2 .4-3.3 .4 1.1 .3 2 .8-1.9 .3-.2 .8 4.7 .3-6.2 .8 5.2 .7-3 1.1 3.2 .4-5.1 .7 3.7 .4 .3 .4-.3 .3 .3 .4 1 .4-.9 .3 4.2 .4-6.3 .4 .6 .3-2.1 .4 4 .7-1.5 .4-1.9 .4 6.1 .3-3 .4 .8 .4-4.2 .4 3.3 .3 .3 .4 2.4 .4-2.2 .3 .9 .4-5.1 .4 2.7 .3 .5 .8-.7 .3 0 .4 3.2 .4-3.4 .3 2.3 .4-.1 .4-2 .3 .9 .4-4.9 .7 6.8 .8-6.1 .3 5.9 .4-4.4 .4 5.1 .7-5.1 .4 1.2 .4 4.4 .3-2.7 .4-.5 .4 .5 .7-1.6 .7 4.1 .4-2.6 .4 2.9 .3-.9 .4-5.2 .4 4.4 .3 1.2 .4-6.5 .7 4.8 .4-2.6 .4 1.7 .3-.7 .4-1.2 .4 1.5 .3-.6 .4 .7 .4 0 .4-1.2 .3-.3 .4 .4 .4 2.1 .3-2.9 .4 4.6 .4-4.4 .3 5.5 .4-4.2 .4-.4 .3-.2 .4 2 .4-.6 .3-2.1 .4 2.1 .4 .6 .3-.6 .4 2.2 .4-7.4 .3 4.4 .4-.8 .7 5 .4-6.5 .7 2.2 .4 2.3 .4 .2 .4-3.4 .3 3 .4-1.8 .4 2.1 .3-1.9 .4 .9 .4-1.1 .3-1.8 .4-.1 .4 2.7 .3-2.4 .4-.6 .7 2.7 .4 .2 .4-2.7 .7 2.3 .4-2.5 .3 3 .8-4.2 .3 3 .4-2 .4 3.4 .4-3.6 .3 3 .4 1.2 .4-3.6 .3-.5 .4-2.1 .4 .5 .3 .9 .4 1.8 .4-2 .3-4.6 .4 3.5 .4-4.5 .3 4.2 .8-4.1 .3-4.2 .4 2.7 .4-3.5 .3-1 .4 .2 .4-3.9 .3 2.3 .4-.5 .4 0 .3-3.9 .4-.7 .4 2.6 .4-1 .3-6.5 .4 3.7 .4 .2 .3-3.7 .4 2.9 .4-2.6 .3-.3 .4-1.5 .4 5.3 .7-8.1 .4 4.2 .3 2.1 .4-.3 .4 6.3 .3-3.8 1.1 6.2 .4-3 .4 .3 .7 6.6 .4-.7 .4 2.7 .3-1.8 .4 4.2 .4-.5 .3 .3 .4 1.7 .7 .8 .4-2.8 .4 4.1 .3-.3 .4 1.6 .4 .1 .3-.9 .8 4.6 .3-1.6 .4-.7 .4 .5 .3 2 .4-3.1 .4 1.5 .3-.5 .4-2 .4 4.5 .3 .5 .4-2.2 .4 .4 .7 4 .4-3.5 .4 4 .3-1 .4-6.2 .4 3.5 .3 1.3 .4-1.4 .4 2.6 .3-1.3 .4 .4 .4-1.4 .3-2.9 .4 4.2 .4-2.8 .3 3.7 .4-1 .4 5.2 .7-9 .4 7.9 .3-3.3 .4 1.3 .4 .5 .4-4.5 .3-.1 .4 3.6 .4-3.6 .3-1.5 .4 2.3 .4 .9 .3 1.7 .4-2.1 .4-.4 .3 2.1 .4-.5 .4 1.3 .3-3.9 .4 6.5 .4-6.2 .3 4.3 .4-.2 .4-3.3 .3 1.4 .4-.8 .4 2.3 .3 .6 .4-1.8 .4 .4 .3-1.7 .4 2.8 .4-.1 .7-3.1 .4 3.9 .4-3.8 .3 .8 .4-.4 .4 2 .3-.6 .4-2.4 .4 1.6 .3-.2 .8 5.8 .3-1.3 .4 .1 .4-.2 .3-3.9 .4 .2 .4-1.6 .3 4.3 .8-3.7 .3 2.8 .4-1 .4 1.9 .4-2.2 .3-.8 .4 1.2 .4-.1 .3 1.9 .4-2.3 .4-.3 .3 1.2 .4-2.7 .4 1.4 .3 2.4 .4-3.1 .4 3.8 .3-3.2 .4 .7 .4 1.5 .3-.8 .4-2.6 .4-.7 .3 3.5 .4-2.3 .7 3.1 .4-1.6 .4-.6" fill="none" stroke="#111" stroke-width="1.3" stroke-linejoin="round"/><path d="M30.2 702.7l11-.1 7.3-.3 4.5-.5 1.8-.3 1.5-.5 1.1-.5 1.1-.6 1.1-.7 1.1-.9 1.1-1.2 1.1-1.3 3.3-4.5 1.1-1.4 1.1-.9 .8-.4 .3 0 .4 0 .7 .3 1.1 .9 1.1 1.4 3.7 5.1 1.5 1.7 1.1 1 1.1 .9 1.5 .9 1.4 .7 1.5 .4 1.8 .4 2.3 .4 6.9 .6 10 .5 21.3 .8" fill="none" stroke="#4aa8ee" stroke-width="1.1" stroke-linejoin="round"/><path d="M30.2 702.9l43 .4 50.8 .7 6.2 0 5.2-.1 3.7-.3 2.9-.4 2.6-.7 1.1-.5 1.1-.6 1.1-.8 .7-.7 1.5-1.8 1.5-2.4 1.4-3.1 1.1-2.7 2.6-6.9 1.1-2.6 .8-1.3 .3-.4 .4-.4 .4-.1 .3-.1 .4 .2 .7 .6 1.1 2 1.1 2.8 3.4 9 1.1 2.5 1.1 2.2 1.1 1.8 1.4 1.8 1.5 1.3 1.5 1 1.8 .8 2.6 .8 2.9 .6 4.1 .5 5.1 .5 6.3 .5 17.3 1" fill="none" stroke="#e0741c" stroke-width="1.1" stroke-linejoin="round"/><path d="M30.2 702.9l50.7 .7 18.1 .3 17.2 .4 33.2 1.2 65.1 2.7" fill="none" stroke="#2a7fc4" stroke-width="0.9" stroke-dasharray="2 1.6"/><path d="M30.2 753.5l.3-2.7 .4 .2 .4 2 .7 1.7 .4-.9 .3 4.6 .4-4.5 .4 1.1 .7-2.2 .4 1.3 .3 2.2 .4-4.5 .4-2.4 .7 6.4 .4-3.8 .7 5.3 .4-1.8 .3-5.8 .4 5 .4-2 .4 .8 .3-2.1 .4 3 .4 1.3 .7-4.7 .4 .4 .3 6.2 .4-4.1 .4-1.1 .3 3.1 .4-3.2 .4 .7 .3-1.5 .4 3.1 .4-.7 .3 2.9 .4-3.3 .7-2.1 .4 3.4 .4-2.7 .3 1.4 .4-1.1 .4 4.5 .3-5.4 .4-1.2 .4 3.4 .4-.7 .3-.3 .4 2.6 .7-.5 .4 2.7 .4-5.2 .3 3.6 .4-3.5 .4 2.2 .3-6.8 .4 4.5 .4 2.5 .3 .8 .8-4.3 .3 4.4 .4 1.4 .4-7.5 .3 4.2 .4 .8 .4-.2 .3-4 .4 3.8 .4-.4 .4-.8 .3 2.4 .4 .1 .4-2.8 .3 4.2 .4-5.6 .4 6.6 .3-6.7 .4 5.4 .4-5.4 .3 3.6 .4 .7 .4-3.3 .3 3 .4-3.6 .4 .8 .3 1.5 .4-.1 .4 .8 .3 .3 .4 4.4 .4-4 .3-1.6 .4-.3 .4 0 .3 .7 .4-2 .4 4.9 .7-5.5 .4 .2 .4 3.4 .3-1 .4-2.1 .4-.6 .3 0 .4 2.7 .4-1.5 .3-2.8 .4 4.4 .4-6.4 .7 8.6 .4-1.6 .3-6.3 .4 3.1 .4-.4 .3 3.9 .4-1.3 .4 2.2 .3-1.4 .4-.2 .4-3.6 .3 1.2 .4 0 .4-1.9 .4 5.8 .3-2.1 .4-4.8 .4 6 .3-3.9 .4 3.5 .4-2.9 .3-1.1 .4-.1 .4-1 .3 1.8 .4-2.2 .4 4.8 .3-2.9 .8 2.6 .3-3.5 .4-.8 .4 7.2 .3-7.6 .8 4.9 .3-.1 .8-3.6 .4 5.3 .7-2.7 .4-.1 .3 2.2 .4 .8 .4-2.5 .3-.1 .4 1.4 .4-6.7 .3 8.7 .4-6.2 .7 3.9 .4-1.6 .4 3 .3 1.7 .4-4.3 .4 1.4 .3-.3 .4 1.3 .4-2.5 .7-.6 .4 .8 .3 1.9 .4-4.6 .4 4 .4-2 .3-.3 .4-3.3 .4 1.9 .3 4.2 .4-3.5 .4 4.5 .3-5.3 .4-.9 .4 3.5 .3-2.8 .4 3.2 .4 1.2 .7-2.2 .4-2.1 .3 3.2 .4 0 .4-1.7 .3 .2 .4-.9 .4 1.7 .7-.9 .4 1.4 .4 .4 1.1-1.8 .3 2.3 .4-1.7 .4 2.2 .3-1.1 .4 2.4 .4-3.6 .3-.1 .4 1.1 .4-.2 .3-.8 .4 .2 .4 1.2 .3-1.3 .4-3 .4 1 .3 5.1 .4-4.6 .4 1 .3-.3 .4 0 .4 .6 .3 2.2 .4-2.1 .4-1 .7 2 .4-4.6 .4 6.9 .3-6.2 .8 5.7 .3-1.1 .4 .6 .4-1.1 .3-2.1 .4 5.2 .4 3.2 .3-6 .4-.8 .4-.2 .3-.1 .4-.3 .4 2.3 .3-3.6 .4 4.5 .4-5 .3-1.3 .4 2 .4 1.1 .4-1 .3 1.2 .4-1.4 .4-.5 .3 .6 .4-1.6 .7 1.4 .4-3.2 .4 7.4 .3-7.8 .4 3.8 .4 1.4 .3-.7 .4 2.2 .7-3.4 .4 1.7 .7 2.5 .4-3.4 .4 2 .3-1.5 .8-4.7 .3 2.7 .4-.7 .4-2.7 .4 5.2 .3 1.2 .4-.5 .4-3.9 .3 1.1 .4-1.4 .4 2.5 .3-.1 .4 .3 .4-.6 .3 3.6 .4-2.3 .4-.3 .3 .2 .4 3.6 .4-3.9 .3 1.9 .4-3.2 .4 3.9 .3-1.8 .4-3.8 .4 5.9 .3-5.1 .4 .5 .4 3.5 .4 .3 .3-1.4 .4-.2 .4-.5 .3 .5 .8-1.6 .3 4.3 .4-3 .4 3.3 .3 .5 .4-1.6 .4-.7 .3-3.4 .4 .5 .4-.1 .3 .4 .4 2.7 .4-4.1 .3 4.1 .4 1 .4-1.3 .3 .9 .4-7.6 .4 5.6 .3 .8 .4-.5 .4 .1 .4-.7 .3-.4 .4 .4 .4 2.3 .3-4.4 .4 1.5 .4 2.5 .3-2.2 .4 .3 .4-2.3 .3 .5 .4 2.3 .4-5.3 .7 5.3 .4-.2 .3 .1 .4 .7 .4-4.9 .3 0 .4 2.9 .4-2.1 .3-1.1 .4 3.4 .4 1.2 .4 .4 .7-2.1 .4 4.4 .3-4.3 .4-.2 .4 0 .3 .7 .4-.1 .4 1 .3-2.1 .4 2.4 .4 .9 .3-.4 .4-1.2 .4-.8 .3 4.4 .4-3.4 .4 3.2 .3 .8 .4-8 .4 6 .7-4 .4 3.3 .3 .1 .4-.8 .4 1 .4-1.8 .3 .1 .4 3.5 1.1-8.3 .4 3.2 .3-1.7 .4 1.1 .4 2.9 .3-2 .4-.2 .4 .6 .3 4.4 .4-.5 .4-2.9 .3-1.4 .4 1.7 .4-3.4 .3-.3 .4 2.5 .4-1.2 .3 .4 .4 .9 .4-.1 .4 1.3 .3-3.1 .4 1.8 .4 .5 .3 1.2 .4-1.7 .7-4.8 .4 3.8 .4-2.6 .3 2.7 .4 .5 .4-2.2 .3 2.6 .4 .5 .4-3.3 .3 1.7 .4-.4 .4-3.6 .7 5 .4-.6 .3 1.5 .4-3.9 .4 1.5 .3-.9 .4 .8 .4-.2 .4 1.6 .3 .5 .4 0 .4-1.9 .3 1.8 .4-2.2 .4 1.7 .3 2.6 .4 .3 .7-5.5 .8 6.3 .3-2 1.1-2.2 .4-2.1 .4 1.8 .3-1.3 .4 3.1 .4 .7 .3-2.3 .4-1.2 .4-.1 .7 3.2 .4-1.1 .4-6 .7 9.5 .4-3.7 .7 .3 .7-4.7 .4 5.8 .4-6.1 .3 5.3 .4-1.3 .4 .2 .3-3.2 .4 3.6 .4-2.7 .3-.1 .4 .5 .4 1.2 .3-.9 .4 1.5 .4 2.3" fill="none" stroke="#111" stroke-width="1.1" stroke-linejoin="round"/><path d="M30.2 716.7H214.2" stroke="#222" stroke-width="0.9"/><path d="M41 659.6H57.8" stroke="#111" stroke-width="1.3"/><text x="60.4" y="662.6" font-size="8.3" fill="#111">Original</text><path d="M98 659.6H113.5" stroke="#111" stroke-width="1.2" stroke-dasharray="2.1 1.7"/><text x="116.5" y="662.6" font-size="8.3" fill="#111">Background</text><path d="M172 659.6H188" stroke="#f5e28a" stroke-width="1" stroke-dasharray="1 1" opacity="0.8"/><text x="191.4" y="662.6" font-size="8.3" fill="#111">Fit</text><text x="71.2" y="681.5" font-size="6" text-anchor="middle" fill="#4aa8ee" stroke="#4aa8ee" stroke-width="0.18">Ru3<tspan font-style="italic">p</tspan><tspan font-size="3.6" dy="1.5">1/2</tspan></text><text x="176.3" y="680.8" font-size="6" text-anchor="middle" fill="#e0741c" stroke="#e0741c" stroke-width="0.18">Ru3<tspan font-style="italic">p</tspan><tspan font-size="3.6" dy="1.5">3/2</tspan></text><rect x="30.2" y="651.9" width="184" height="115.1" fill="none" stroke="#111" stroke-width="1.2"/><path d="M46.3 767v2.4M87.2 767v2.4M128.1 767v2.4M168.9 767v2.4M209.8 767v2.4M189.4 767v1.7M148.5 767v1.7M107.6 767v1.7M66.7 767v1.7" stroke="#111" stroke-width="1" fill="none"/><text x="46.3" y="779.5" font-size="9.3" text-anchor="middle" fill="#111">490</text><text x="87.2" y="779.5" font-size="9.3" text-anchor="middle" fill="#111">480</text><text x="128.1" y="779.5" font-size="9.3" text-anchor="middle" fill="#111">470</text><text x="168.9" y="779.5" font-size="9.3" text-anchor="middle" fill="#111">460</text><text x="209.8" y="779.5" font-size="9.3" text-anchor="middle" fill="#111">450</text><text x="122" y="794.9" font-size="12.7" text-anchor="middle" fill="#111">Binding Energy (eV)</text><text transform="translate(23.2 708.8) rotate(-90)" font-size="12.4" text-anchor="middle" fill="#111">Intensity (arb. units)</text></g><g id="pj"><text x="234.8" y="664.2" font-size="16" text-anchor="start" fill="#000" font-weight="bold">j</text><path d="M318.5 703.7l8.8-.1 6.8-.2 5.4-.4 4.8-.5 4.1-.6 4.1-.8 4-1 8.2-2.1 3.4-.8 4.1-.6 3.4-.2 3.4 .2 4.1 .6 4 .9 11.6 3 4.8 .9 4 .6 4.8 .5 5.4 .3 6.8 .2 8.9 .1" fill="none" stroke="#2a7fc4" stroke-width="1.1" stroke-linejoin="round"/><path d="M263.4 703.7l42.1 0 19.1-.2 10.9-.3 4-.3 3.4-.3 3.4-.5 2.8-.5 3.4-.8 2.7-.9 2.7-.9 3.4-1.4 10.9-5.2 4.1-1.7 2.7-1 2-.5 2.1-.3 2-.1 2 .1 2.1 .3 2 .5 2.1 .6 4 1.7 9.6 4.6 4 1.7 4.8 1.8 4.8 1.3 5.4 1 6.1 .6 6.8 .4 10.2 .2" fill="none" stroke="#e0741c" stroke-width="1.1" stroke-linejoin="round"/><path d="M263.4 703l2 1 2.1 .3 2-2.9 2 3.7 2.1-4 4.1 4.6 2-5.1 2 .7 2.1 .9 2-1 2.1 .5 4 3.7 2.1 1.1 2-4.4 2.1 5.2 2 0 2-1.9 2.1-6.5 2 1.2 2.1 2.6 2-2.9 2 6.7 2.1-7.5 4.1 3.3 2-1 2-1.4 2.1 6 2-10.2 2.1 5.9 2 3.1 2 1.5 2.1-5.7 2 .6 2.1-4.1 2 2.9 2-.8 2.1 2.2 2-.7 2.1 1.6 2-5.3 2 3.2 2.1-3.3 2-9.2 2.1 8.6 2-6 2-1.4 2.1 2.1 2-5 2.1 1.4 2-.7 2-1.1 2.1 1.6 2-12.7 2.1 4.4 2-1.6 2 4.6 2.1 5.5 2-8.8 2.1 9.2 2-6.9 2 2.8 2.1 3.1 2 6.2 2.1-4.5 2 6 2 2 2.1 1.4 2-1.6 2.1 2.2 2 1.3 2 1.6 2.1-1.3 2-.3 2.1-5.7 2 4.6 2 3.2 4.1 7 2.1-6.5 2-2.7 2 .1 2.1 6.8 2-6.8 2.1 .9 2 1.6 2-1.3 2.1 7 2-3" fill="none" stroke="#111" stroke-width="1.3" stroke-linejoin="round"/><path d="M263.4 703.7l40.1-.1 19-.2 5.5-.2 4.7-.3 4.1-.4 3.4-.5 3.4-.7 2.7-.8 2.8-.9 2.7-1.2 2.7-1.4 3.4-2 3.4-2.3 7.5-5.4 2-1.3 2.1-1.2 2.7-1.3 2-.7 2.1-.4 2-.2 2 .2 2.1 .4 2 .6 2.1 .9 2 1.1 2 1.2 9.6 6.5 4.7 3 2.7 1.4 2.1 1 2 .8 2.7 1 2.8 .8 2.7 .6 3.4 .6 3.4 .4 4.1 .3 4 .2 10.9 .3" fill="none" stroke="#f7cf4a" stroke-width="0.8" stroke-dasharray="1 1.2"/><path d="M263.4 703.8l185.6 0" fill="none" stroke="#111" stroke-width="0.9" stroke-dasharray="2 1.6"/><path d="M298.7 762.5l13.6-.1 6.8-.2 5.5-.5 2-.3 2.1-.5 2-.6 2-.8 1.4-.7 2-1.2 2.8-1.9 6.1-4.8 2.7-1.8 1.4-.7 1.3-.5 2.1-.3 .6 0 1.4 .2 1.4 .5 1.3 .6 2.7 1.8 6.2 4.8 3.4 2.4 2 1.1 1.4 .6 1.3 .6 2.1 .6 2 .5 2 .4 2.8 .3 2.7 .2 6.8 .2 14.3 .1" fill="none" stroke="#2a7fc4" stroke-width="1.1" stroke-linejoin="round"/><path d="M263.4 762.5l38.1-.1 19.7-.2 4.7-.2 3.4-.3 2.8-.4 2.7-.6 2.7-1.1 2-1.1 2.1-1.5 2-1.8 2.1-2.3 2-2.7 6.1-9.4 2.7-3.7 1.4-1.5 1.4-1.2 1.3-.7 1.4-.3 1.3 .2 1.4 .6 1.4 1.1 1.3 1.5 1.4 1.7 1.3 1.9 4.8 7.4 2 2.9 2.1 2.7 2 2.2 1.4 1.2 2 1.6 2.1 1.1 2 .9 2 .6 2.8 .5 3.4 .4 4 .2 15.7 .3 32.6 .1" fill="none" stroke="#e0741c" stroke-width="1.1" stroke-linejoin="round"/><path d="M263.4 762.5l1.3-.2 1.4 .2 1.4 0 .6 .4 .7 .1 1.4-.7 .7 .2 1.3-.5 .7 .4 1.4 .4 .6-.1 .7-.5 .7-.1 1.4 .3 .6 .4 .7-.1 .7-.3 .7 .2 1.3-.1 1.4 .1 .7-.3 .7 0 .6 .2 1.4-.1 .7 .2 .7-.3 .6 0 .7 .2 .7 0 .7 .3 1.3-.1 .7 .2 .7-.3 .7-.5 .7 0 .6 .3 1.4-.1 .7 .1 .7-.3 .6-.2 1.4 0 1.4 .6 .6 .1 1.4-.4 2 .2 .7-.1 .7-.4 .7-.1 .7 .4 2.7-.3 1.3 .6 1.4-.6 1.4-.1 2 .4 1.4-.3 .6 .1 1.4 0 .7-.4 1.3 .1 .7-.6 2.7-.2 2.1-.8 .7 0 .6-.3 1.4-.2 1.4-1.4 .6-.4 .7 .1 1.4-1.6 1.3-1.8 2.1-1.6 2-2.6 1.4-2.5 .7-.8 .6-1.2 2.1-4 .7-1.1 1.3-3.1 1.4-2.4 .7-.9 3.4-6.3 1.3-2.2 2.7-3.1 .7-.6 .7 .2 1.4-.4 1.3 .5 .7 .6 1.4 .7 1.3 1.5 1.4 2.6 1.3 1.2 .7 1.7 .7 1.3 .7 .9 1.3 3.5 .7 1 .7 1.4 2.7 6 1.4 1.9 2 4.2 .7 1.1 1.4 1.3 1.3 1.6 .7 .6 .7 .9 .7 .7 1.3 .4 1.4 1.3 .7 .5 .6 .3 .7 .1 1.4 1 1.3-.6 1.4 1 .7 0 .7 .3 .6 .5 1.4-.5 1.4 .3 .6-.1 .7 .1 1.4 .5 .7 .1 1.3-.7 1.4 .3 .7 0 1.3 .3 .7 0 2 .5 .7 0 .7-.6 1.4-.4 1.3 .8 2.1-.4 1.3 .2 .7-.4 .7 .2 1.3-.1 .7 .3 1.4-.1 1.3 .5 2.1-.4 2 .5 1.4-.4 1.3 0 .7-.2 2.1 .4 1.3-.3 1.4 .3 .7-.3 .6 .1 .7 .3 2.1-.7 .6 .3 .7 .1 1.4-.2 .7 .2 1.3-.3 .7 .4 1.4 .1 1.3-.4 .7 .1 1.4-.3 .6 .2 .7 .5" fill="none" stroke="#111" stroke-width="1.2" stroke-linejoin="round"/><path d="M263.4 762.5l34.7-.2 10.8-.1 6.8-.2 4.8-.3 3.4-.4 2.7-.6 2.7-.9 1.4-.6 1.4-.7 2-1.4 2-1.9 2.1-2.3 2-2.7 1.4-2.2 1.3-2.3 2.1-3.7 5.4-10.6 1.4-2.4 1.3-2.1 1.4-1.8 .7-.8 1.3-1.2 .7-.5 .7-.3 .7-.2 .7 0 .6 0 .7 .2 .7 .3 .7 .5 1.3 1.3 .7 .8 1.4 1.9 1.3 2.3 1.4 2.6 4.8 9.7 2 3.9 1.4 2.4 1.3 2.2 2.1 2.9 2 2.4 2 1.8 2.1 1.4 2 1.1 1.4 .5 1.3 .4 2.8 .6 3.4 .4 4 .3 6.2 .1 10.2 .2 31.9 .2" fill="none" stroke="#f7cf4a" stroke-width="0.8" stroke-dasharray="1 1.2"/><path d="M263.4 762.6l185.6 0" fill="none" stroke="#111" stroke-width="0.9" stroke-dasharray="2 1.6"/><path d="M263.6 713H448.3" stroke="#8a8a8a" stroke-width="1.4"/><path d="M275.3 658.6H293.8" stroke="#111" stroke-width="1.3"/><text x="296.5" y="661.6" font-size="8.3" fill="#111">Original</text><path d="M332.4 658.6H350.9" stroke="#111" stroke-width="1.2" stroke-dasharray="2.1 1.7"/><text x="353.6" y="661.6" font-size="8.3" fill="#111">Background</text><path d="M405.3 658.6H423.1" stroke="#f5e28a" stroke-width="1" stroke-dasharray="1 1" opacity="0.8"/><text x="426.4" y="661.6" font-size="8.3" fill="#111">Fit</text><text x="337.5" y="685.8" font-size="5.8" text-anchor="middle" fill="#2a7fc4" stroke="#2a7fc4" stroke-width="0.18">Si2<tspan font-style="italic">p</tspan><tspan font-size="3.5" dy="1.4">1/2</tspan><tspan dy="-1.4"> (Si-N)</tspan></text><text x="420.7" y="685.8" font-size="5.8" text-anchor="middle" fill="#e0741c" stroke="#e0741c" stroke-width="0.18">Si2<tspan font-style="italic">p</tspan><tspan font-size="3.5" dy="1.4">3/2</tspan><tspan dy="-1.4"> (Si-N)</tspan></text><text x="390.5" y="736.8" font-size="5.8" text-anchor="middle" fill="#e0741c" stroke="#e0741c" stroke-width="0.18">Si2<tspan font-style="italic">p</tspan><tspan font-size="3.5" dy="1.4">3/2</tspan><tspan dy="-1.4"> (SiO</tspan><tspan font-size="3.5" dy="1.4">2</tspan><tspan dy="-1.4">)</tspan></text><text x="319" y="750.2" font-size="5.8" text-anchor="middle" fill="#2a7fc4" stroke="#2a7fc4" stroke-width="0.18">Si2<tspan font-style="italic">p</tspan><tspan font-size="3.5" dy="1.4">1/2</tspan><tspan dy="-1.4"> (SiO</tspan><tspan font-size="3.5" dy="1.4">2</tspan><tspan dy="-1.4">)</tspan></text><rect x="263.6" y="651.9" width="184.7" height="115.1" fill="none" stroke="#111" stroke-width="1.2"/><path d="M271 767v2.4M298.2 767v2.4M325.4 767v2.4M352.6 767v2.4M379.8 767v2.4M407 767v2.4M434.2 767v2.4M447.8 767v1.7M420.6 767v1.7M393.4 767v1.7M366.2 767v1.7M339 767v1.7M311.8 767v1.7M284.6 767v1.7" stroke="#111" stroke-width="1" fill="none"/><text x="271" y="779" font-size="9.3" text-anchor="middle" fill="#111">110</text><text x="298.2" y="779" font-size="9.3" text-anchor="middle" fill="#111">108</text><text x="325.4" y="779" font-size="9.3" text-anchor="middle" fill="#111">106</text><text x="352.6" y="779" font-size="9.3" text-anchor="middle" fill="#111">104</text><text x="379.8" y="779" font-size="9.3" text-anchor="middle" fill="#111">102</text><text x="407" y="779" font-size="9.3" text-anchor="middle" fill="#111">100</text><text x="434.2" y="779" font-size="9.3" text-anchor="middle" fill="#111">98</text><text x="356" y="794.3" font-size="12.8" text-anchor="middle" fill="#111">Binding Energy (eV)</text><text transform="translate(256.9 708.8) rotate(-90)" font-size="12.4" text-anchor="middle" fill="#111">Intensity (arb. units)</text></g><g id="pk"><text x="462.4" y="664.2" font-size="16" text-anchor="start" fill="#000" font-weight="bold">k</text><path d="M525.8 709.4l5.9-.1 3.3-.2 2.7-.5 2.2-.6 2.1-1 2.2-1.4 1.6-1.3 3.3-3 1.6-1.2 1.6-.9 1.1-.3 .6-.1 .5 0 1.1 .3 1.6 .8 1.6 1.2 3.8 3.4 1.7 1.3 1.6 1.1 2.2 1 2.7 .8 2.7 .4 3.2 .2 6 .1" fill="none" stroke="#4aa8ee" stroke-width="1.1" stroke-linejoin="round"/><path d="M526.9 709.4l14.6-.1 6.5-.3 2.2-.1 2.1-.4 1.7-.4 1.6-.6 1.6-.8 1.6-1.2 1.7-1.6 1-1.3 2.2-3.1 4.9-8 1.6-2.2 1.1-1 .5-.4 1.1-.4 .6 0 .5 .1 1.1 .5 1.1 .9 1.1 1.3 1.6 2.4 4.3 7.1 1.6 2.4 1.1 1.3 1.1 1.2 1.1 1 1.1 .8 1.6 .9 1.6 .7 1.7 .4 2.1 .3 2.2 .2 6.5 .2 14.6 .2" fill="none" stroke="#2a7fc4" stroke-width="1.1" stroke-linejoin="round"/><path d="M546.4 709.4l8.6-.1 4.4-.2 1.6-.3 1.6-.3 1.1-.4 1.1-.5 1.1-.6 1.1-.9 1.6-1.7 2.2-2.9 3.2-5 1.6-2.1 1.1-.9 .6-.3 .5-.2 .5 0 .6 .1 .5 .3 .6 .3 1.1 1.1 1.6 2.2 3.2 5.1 1.7 2.1 1.6 1.8 1.1 .8 1 .7 1.1 .6 1.1 .3 1.6 .4 1.7 .2 4.3 .3 8.7 .1" fill="none" stroke="#1ea27c" stroke-width="1.1" stroke-linejoin="round"/><path d="M538.3 709.4l21.1-.2 9.7-.3 2.7-.2 2.2-.3 2.2-.6 1.6-.7 1.6-1 1.7-1.4 1.6-1.9 1.1-1.5 1-1.8 1.7-3 4.8-10.7 2.2-4.2 1.1-1.7 1.1-1.1 .5-.4 .6-.3 .5-.1 .5 0 .6 .2 .5 .4 1.1 1 1.1 1.6 1.1 1.9 1.1 2.2 4.8 10.7 1.7 3.1 1.6 2.6 1.1 1.5 1.6 1.8 1.1 .9 1.6 1 1.6 .8 2.2 .6 2.2 .4 2.7 .2 9.7 .3 21.7 .2" fill="none" stroke="#f0a51e" stroke-width="1.1" stroke-linejoin="round"/><path d="M615.7 709.4l7.1-.2 5.4-.4 4.9-.6 10.8-1.8 2.7-.2 2.7-.1 2.7 .1 2.7 .3 10.9 1.7 4.9 .6 5.4 .4 7 .2" fill="none" stroke="#e0741c" stroke-width="1.1" stroke-linejoin="round"/><path d="M498.7 709.2l.5 .1 .6 .6 1.1-1.1 .5 .6 .6-.2 .5-.4 .5 0 .6 1.4 .5 0 .6-1.3 .5-.3 .5 .5 .6 .3 1.6-1 1.1 .6 .5 .6 1.1 .7 .6-.1 .5 0 .5 .2 .6-.6 .5-.3 1.1-1.2 .6-.1 1 1.7 .6-.2 .5 .2 1.1-.8 .5 0 1.7 .1 1.1-.4 1 .6 .6-.2 .5-.6 .6 .5 .5 0 .5-.5 .6 .2 .5-.1 1.1 .9 .6-.3 .5-.6 .5 0 1.1 .6 1.1-1 .5-.2 1.7 .5 .5 .9 1.1-.4 .5-.9 .6-.3 .5 .8 .6-.5 .5-1.7 .6 .2 .5 1.4 .5 .8 .6-.2 .5-1.3 .6-.8 .5-.2 .5 .7 .6 0 1.1-2.3 .5 0 .6 1 1-2.3 .6 .3 1.1-1.9 1.6-1 1.1-1.6 .5-.1 .6-1 .5-.3 .5 .5 1.1-1.9 .6-.5 .5 .6 .5-.1 1.7-1.2 .5 1.2 .6 .6 .5 .3 .5-.7 .6-1.2 .5 .3 1.1 .3 .5-.6 .6-1 .5 .1 .6-1.2 .5-1.7 1.1 1 .5-.5 .6-1.1 .5-2.1 .6-1.5 .5-.6 .6-1.2 1-2.9 .6-.5 .5-1 1.1-3.2 1.6-3 .6-1.5 .5-1 1.1-.9 1.6-.6 .6 .8 .5 1.2 .5-.1 .6 .2 .5 1.5 .6 1.1 .5 .5 .6-.2 1 3 .6 .6 .5 .9 .6 .6 .5 1.1 .5 .5 1.1 1.8 1.1 .5 1.1-.4 .5-.4 .6-.6 1.1 .2 .5-.8 1.1-3.4 .5 .1 .6 .4 .5-.7 .6-1.3 .5-.9 .5-.3 .6-.2 1.1 .6 .5-1 .5 .1 .6 1.3 .5 .1 .6-.5 1.6 3.3 1.1 1.7 1.1 2.8 1.1 2.3 .5 1.7 .5 .2 .6 1.2 .5 1.9 .6 .6 1 3 .6 .6 .5 .3 .6 .9 .5 1.5 .6 .6 1 3.1 .6 0 .5-.3 .6-.1 1.6 2.4 1.1 .4 .5 .9 1.1 .4 1.1 .1 .5 .5 1.1 .5 1.1-.1 .5 .2 .6-.5 .5 .1 1.1-.5 .5 .3 .6 0 .5 .1 .6 .9 .5-.5 .5-.1 1.1 .1 .6 .7 1.1-.6 .5 .8 1.6-1.5 .6-.1 .5 .3 .5-.4 .6 1 .5 .4 .6-1.1 .5-.5 .6 0 .5 .4 .5-.3 1.1-.9 .6 .1 .5 .6 1.1-1 .5-.2 .6 .2 1.1-.6 .5 .6 .5-.1 1.1 .3 .6-.5 .5 .4 .6 .7 .5 .3 .5-1 .6-.5 .5 .4 1.6-.2 .6 .5 .5 .2 .6-.4 .5 0 .6 .2 .5-.4 .5 .7 .6 .2 .5-.3 .6 .1 .5-.9 .5 .6 .6 1.1 .5 .1 1.1-.3 .6-.4 .5 .6 .5 .1 .6-.7 .5 1 .6 .3 .5 .3 1.1 0 .5 1.1 .6-.4 .5-.8 1.1-.7 .5 .6 .6 .1 1.1 .5 1.1 .2 .5 .4 .5 0 .6-.7 .5 1 .6 .2 .5-.7 .5 .2 .6-.3 1.1 .3 1.1-.9 .5 .4 1.1 .3 .5 .6 1.1 .1 .5-.4 .6-1.4 .5 .1 .6 1.8 .5-.2 .6-.5 1 .8" fill="none" stroke="#111" stroke-width="1.2" stroke-linejoin="round"/><path d="M498.7 709.3l22.8-.1 7-.1 3.8-.2 2.7-.2 2.2-.3 2.1-.6 1.7-.7 1.6-.9 2.2-1.6 1.6-1.5 3.8-3.6 1.1-.9 1-.8 1.1-.6 1.6-.5 1.1-.1 2.7-.2 1.7-.4 1-.5 .6-.3 1.1-1 1.1-1.3 .5-.8 1.6-2.8 1.7-3.5 3.2-7.7 1.6-3.4 1.1-1.6 .6-.7 .5-.5 .5-.3 .6-.2 .5 0 .6 .2 .5 .3 1.1 1.2 1.1 1.6 3.2 5.9 1.1 1.7 1.1 1.3 .5 .4 .6 .3 .5 .2 .6 .1 .5-.1 .5-.2 1.1-.7 1.1-1.1 3.3-3.8 1-1 .6-.4 .5-.2 .6-.1 .5-.1 .5 .2 .6 .2 .5 .4 .6 .5 1.1 1.4 1.6 2.9 1.6 3.4 4.3 9.7 1.7 3.1 1.1 1.8 1.6 2.3 1.1 1.2 1 1.1 1.7 1.1 1.1 .6 1 .5 1.7 .5 2.1 .3 2.7 .1 2.7 0 2.8-.2 2.7-.3 8.6-1.3 2.7-.3 2.8-.2 2.7 0 2.1 .1 2.7 .3 10.3 1.7 5.5 .7 5.9 .4 8.1 .2" fill="none" stroke="#f7cf4a" stroke-width="0.8" stroke-dasharray="1 1.2"/><path d="M498.7 709.5l185.8 0" fill="none" stroke="#111" stroke-width="0.9" stroke-dasharray="2 1.6"/><path d="M498.7 762.6l.5 .2 1.1-.9 1.1 1.4 2.2-1.4 .5 .4 1.6 0 .6 .3 .5-.4 1.1 .4 .6 0 .5 .7 .5 .1 .6-.3 .5-.6 .6-.2 .5 .3 .5 .1 .6-.3 .5 .1 1.1-1.1 1.1 1.1 .5 0 .6 .2 1.1-.6 .5 .4 1.1-.2 .5 .1 .6-.3 .5 0 1.1 .2 .5-.2 1.1 .7 .6-.4 .5-.1 .5 .3 .6-.1 1.1-.6 1.6 .4 .5 0 .6-.1 .5 .4 .6 .2 1.6-.3 .5 .3 .6 .1 .5-.4 .6-.1 .5 .2 .5-.1 .6-.3 .5 .4 .6 0 1.1-.4 .5-.1 .5 .4 .6-.1 .5-.4 .6 0 .5 .5 .5 .1 .6-.7 .5 0 .6 .2 .5-.1 .6 .4 .5 .1 1.1-.6 1.1 .6 .5-.5 1.1-.1 .5-.6 1.1 1.1 1.1-.6 .5-.1 1.1 .4 1.1 .7 .5-.5 .6-.3 1.1 .5 1.1-.7 .5 .4 .5 0 .6-.8 .5-.2 .6 .9 .5-.1 .5-.4 .6 .3 .5-.1 1.1 .4 .6-.1 .5 .1 1.1-.6 .5 0 .6-.6 .5 .3 .6-.2 .5-.6 1.6 .8 1.1-.3 .5-.6 1.1 .3 .6-.5 .5 .2 .6 .8 .5 0 .5-.5 .6-.1 .5 .2 .6-.2 .5 0 .5 .1 .6-.2 1.1 .6 .5 0 .6-.4 1-.2 .6-.2 .5 .4 .6 .2 .5-.6 1.1 .6 1.1-.6 1.1 .2 1-.2 1.1 .2 .6-.3 .5-.1 .5-.3 .6-.1 .5 .3 .6-.4 1.1 .5 .5 0 .5-.4 .6-.2 2.1 .1 1.1-.7 1.1 .4 .6-.1 1 .2 .6-.3 .5-.5 .6 0 .5 .2 1.1 0 .5 .2 1.1-1.5 2.2 .6 1.1-.7 1.1-.4 1-1 .6 .3 .5-.5 1.6-2.5 .6-.1 .5-.9 1.1-.6 1.1-1.7 .5-.5 .6-.2 1.1-1.1 .5-.8 2.2-3.8 1.6-2 1.1-2 .5-.2 1.1-1.3 1.1-2.2 .5-.6 1.1-.6 1.6-1.2 1.1-1.9 .6-.4 1-.2 .6-.7 .5 0 .6 0 1.1-.8 .5 .3 1.1-.6 1.1 .8 .5 .7 1.6 .8 .6 .9 .5 .1 .6 .5 .5 .9 .5 .1 .6 .5 .5 .7 1.1 2.2 1.1 .7 1.1 2.1 1.1 1.2 .5 1.3 1.1 1.3 1.1 2.3 1.1 1.2 .5 1 .5 .4 .6-.1 1.1 1.7 .5 .1 1.6 1.9 1.1 1.6 1.1 1 .5 .2 .6-.1 1.1 1.1 .5 .1 1.1 .7 .5 .1 1.1 1.1 .6 .2 1 .1 .6 .6 .5 .2 .6-.2 .5 0 .6-.3 .5 1 .5 .4 .6-.5 .5 .1 1.6 .6 .6-.1 .5-.4 1.7 .5 .5-.2 1.1 .9 .5 0 .6 .8 .5-.2 .5-.4 .6 .2 .5-.5 .6-.1 1.1-.5 .5 .1 .5-.1" fill="none" stroke="#111" stroke-width="1.2" stroke-linejoin="round"/><path d="M557.2 762.2l4.9-.3 8.1-.6 3.3-.1 3.2 .1 8.1 .5 4.9 .2" fill="none" stroke="#2a7fc4" stroke-width="1.1" stroke-linejoin="round"/><path d="M575.1 762.1l6-.4 10.2-1.1 3.8-.2 3.8 .2 9.8 1 5.9 .2" fill="none" stroke="#f0a51e" stroke-width="1.1" stroke-linejoin="round"/><path d="M539.9 762.3l34.1-.4 16.8-.4 4.9-.2 3.8-.4 3.2-.6 2.7-.8 2.7-1.1 2.2-1.2 2.2-1.4 2.1-1.9 2.2-2.2 2.7-3.1 2.2-2.9 5.9-8.4 1.7-2 1.6-1.9 1.6-1.5 1.6-1.2 1.7-.7 1.6-.1 1.1 .1 1.6 .7 1.6 1.1 1.7 1.5 1.6 1.8 1.6 2.1 6 8.2 3.2 4.2 2.2 2.4 1.6 1.6 1.6 1.4 1.7 1.2 2.1 1.3 2.2 1 2.2 .8 2.1 .6 2.7 .5 2.8 .3 3.2 .2 4.3 .2" fill="none" stroke="#1ea27c" stroke-width="1.1" stroke-linejoin="round"/><path d="M498.7 762.5l45-.3 13-.2 4.8-.3 10.3-.8 3.3-.1 6 0 3.2-.2 9.8-.9 8.1-.5 1.6-.2 1.6-.3 1.7-.4 1-.4 2.2-1 2.2-1.4 2.1-1.7 2.2-2.1 2.7-3.2 2.7-3.6 5.4-7.6 1.7-2.1 1.6-1.8 1.6-1.5 1.6-1.2 1.7-.7 1.1-.2 .5 0 1.1 .2 .5 .2 1.1 .4 1.6 1.2 1.7 1.5 1.6 1.8 1.6 2 6 8.3 3.2 4.2 2.2 2.4 1.6 1.6 1.6 1.4 1.7 1.2 2.1 1.3 2.2 1 2.2 .8 2.1 .6 2.7 .5 2.8 .3 3.2 .2 4.3 .2" fill="none" stroke="#f7cf4a" stroke-width="0.8" stroke-dasharray="1 1.2"/><path d="M498.7 762.6l185.8-1" fill="none" stroke="#4aa8ee" stroke-width="0.9" stroke-dasharray="2 1.6"/><path d="M498.7 713.3H684.3" stroke="#8a8a8a" stroke-width="1.8"/><path d="M508.7 658.6H527.2" stroke="#111" stroke-width="1.3"/><text x="530.6" y="661.6" font-size="8.3" fill="#111">Original</text><path d="M565.8 658.6H584.3" stroke="#111" stroke-width="1.2" stroke-dasharray="2.1 1.7"/><text x="587.6" y="661.6" font-size="8.3" fill="#111">Background</text><path d="M639 658.6H656.5" stroke="#f5e28a" stroke-width="1" stroke-dasharray="1 1" opacity="0.8"/><text x="660.5" y="661.6" font-size="8.3" fill="#111">Fit</text><text x="524.8" y="697.5" font-size="5.8" text-anchor="middle" fill="#4aa8ee" stroke="#4aa8ee" stroke-width="0.18">Y3<tspan font-style="italic">d</tspan><tspan font-size="3.5" dy="1.4">3/2</tspan><tspan dy="-1.4"> satellite</tspan></text><text x="555.7" y="684.1" font-size="5.8" text-anchor="middle" fill="#2a7fc4" stroke="#2a7fc4" stroke-width="0.18">Y3<tspan font-style="italic">d</tspan><tspan font-size="3.5" dy="1.4">3/2</tspan></text><text x="602.7" y="673" font-size="5.8" text-anchor="middle" fill="#1ea27c" stroke="#1ea27c" stroke-width="0.18">Y3<tspan font-style="italic">d</tspan><tspan font-size="3.5" dy="1.4">5/2</tspan><tspan dy="-1.4"> satellite</tspan></text><text x="616.2" y="685.8" font-size="5.8" text-anchor="middle" fill="#f0a51e" stroke="#f0a51e" stroke-width="0.18">Y3<tspan font-style="italic">d</tspan><tspan font-size="3.5" dy="1.4">5/2</tspan></text><text x="651.4" y="700.9" font-size="5.8" text-anchor="middle" fill="#e0741c" stroke="#e0741c" stroke-width="0.18">Si2<tspan font-style="italic">s</tspan></text><text x="638" y="727.1" font-size="5.8" text-anchor="middle" fill="#1ea27c" stroke="#1ea27c" stroke-width="0.18">Si2<tspan font-style="italic">s</tspan>(SiO<tspan font-size="3.5" dy="1.4">2</tspan><tspan dy="-1.4">)</tspan></text><text x="570.8" y="757.9" font-size="5.8" text-anchor="middle" fill="#2a7fc4" stroke="#2a7fc4" stroke-width="0.18">Y3<tspan font-style="italic">d</tspan><tspan font-size="3.5" dy="1.4">3/2</tspan></text><text x="594.4" y="753.6" font-size="5.8" text-anchor="middle" fill="#f0a51e" stroke="#f0a51e" stroke-width="0.18">Y3<tspan font-style="italic">d</tspan><tspan font-size="3.5" dy="1.4">5/2</tspan></text><rect x="498.7" y="651.9" width="185.6" height="115.1" fill="none" stroke="#111" stroke-width="1.2"/><path d="M498.7 767v2.4M522.8 767v2.4M546.9 767v2.4M570.9 767v2.4M595 767v2.4M619.1 767v2.4M643.2 767v2.4M667.3 767v2.4M679.3 767v1.7M655.2 767v1.7M631.1 767v1.7M607.1 767v1.7M583 767v1.7M558.9 767v1.7M534.8 767v1.7M510.7 767v1.7" stroke="#111" stroke-width="1" fill="none"/><text x="498.7" y="778.5" font-size="9.3" text-anchor="middle" fill="#111">166</text><text x="522.8" y="778.5" font-size="9.3" text-anchor="middle" fill="#111">164</text><text x="546.9" y="778.5" font-size="9.3" text-anchor="middle" fill="#111">162</text><text x="570.9" y="778.5" font-size="9.3" text-anchor="middle" fill="#111">160</text><text x="595" y="778.5" font-size="9.3" text-anchor="middle" fill="#111">158</text><text x="619.1" y="778.5" font-size="9.3" text-anchor="middle" fill="#111">156</text><text x="643.2" y="778.5" font-size="9.3" text-anchor="middle" fill="#111">154</text><text x="667.3" y="778.5" font-size="9.3" text-anchor="middle" fill="#111">152</text><text x="591.2" y="794.3" font-size="12.7" text-anchor="middle" fill="#111">Binding Energy (eV)</text><text transform="translate(491 708.8) rotate(-90)" font-size="12.4" text-anchor="middle" fill="#111">Intensity (arb. units)</text></g>
</svg>
</body></html>
